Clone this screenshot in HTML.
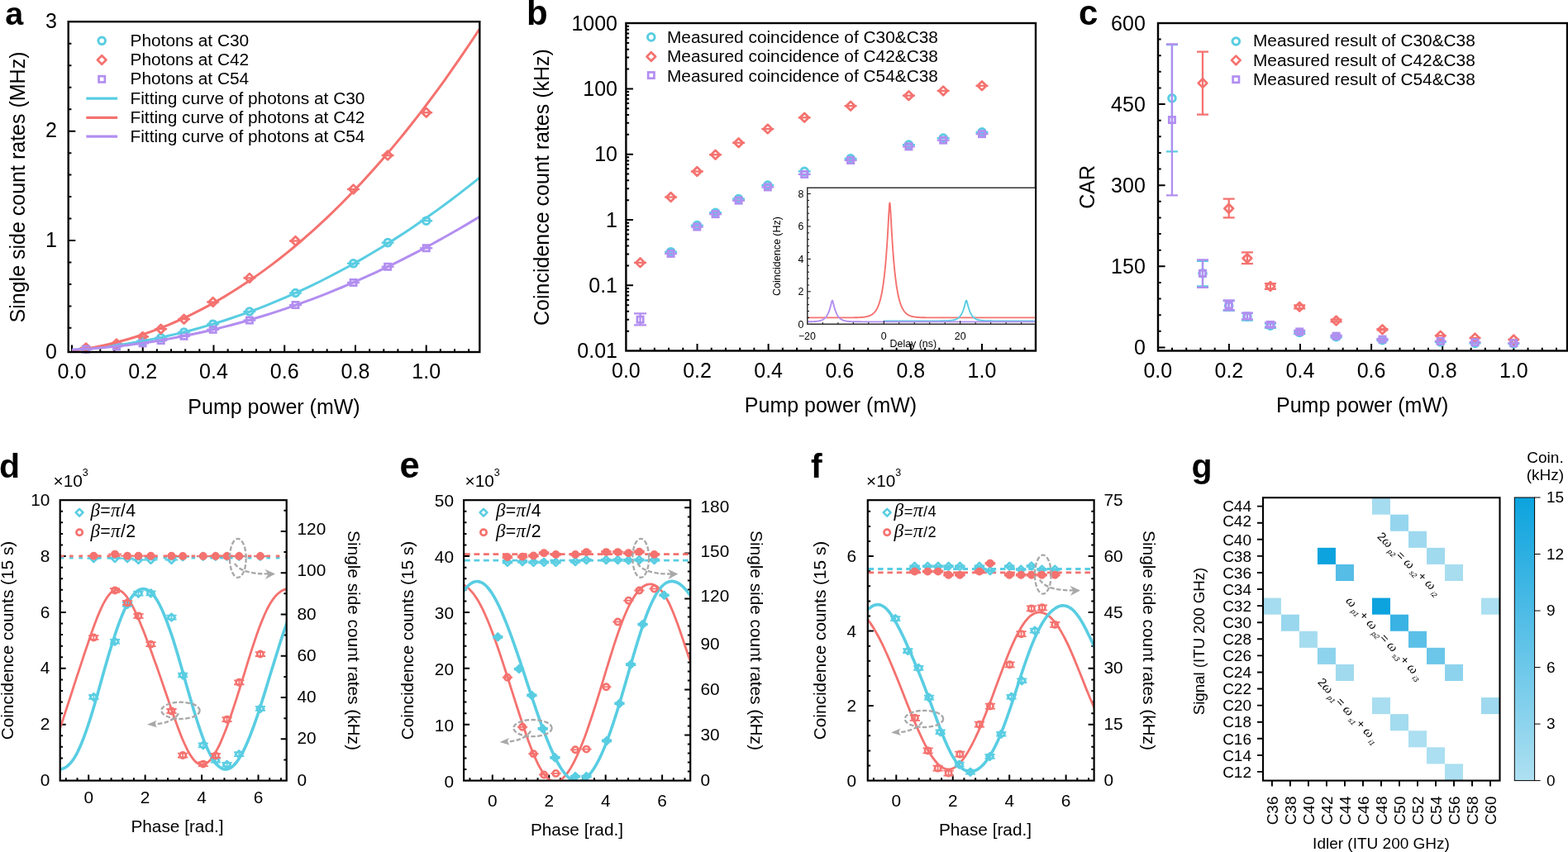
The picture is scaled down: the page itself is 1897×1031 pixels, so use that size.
<!DOCTYPE html>
<html lang="en">
<head>
<meta charset="utf-8">
<title>Figure: photon pair generation measurements</title>
<style>
html,body{margin:0;padding:0;background:#fff;}
body{width:1897px;height:1031px;overflow:hidden;}
svg{display:block;font-family:'Liberation Sans', sans-serif;}
</style>
</head>
<body>
<svg width="1897" height="1031" viewBox="0 0 1897 1031">
<rect width="1897" height="1031" fill="#fff"/>
<g id="panel-a">
<text x="6.2" y="30.4" font-size="39.5" font-weight="bold">a</text>
<path d="M82.7 291h8.6M82.7 158.7h8.6" fill="none" stroke="#000" stroke-width="2.0"/>
<path d="M82.7 396.84h3.7M82.7 370.38h3.7M82.7 343.92h3.7M82.7 317.46h3.7M82.7 264.54h3.7M82.7 238.08h3.7M82.7 211.62h3.7M82.7 185.16h3.7M82.7 132.24h3.7M82.7 105.78h3.7M82.7 79.32h3.7M82.7 52.86h3.7" fill="none" stroke="#000" stroke-width="2.0"/>
<path d="M87 426v-8.6M172.74 426v-8.6M258.48 426v-8.6M344.22 426v-8.6M429.96 426v-8.6M515.7 426v-8.6" fill="none" stroke="#000" stroke-width="2.0"/>
<path d="M104.15 426v-3.7M121.3 426v-3.7M138.44 426v-3.7M155.59 426v-3.7M189.89 426v-3.7M207.04 426v-3.7M224.18 426v-3.7M241.33 426v-3.7M275.63 426v-3.7M292.78 426v-3.7M309.92 426v-3.7M327.07 426v-3.7M361.37 426v-3.7M378.52 426v-3.7M395.66 426v-3.7M412.81 426v-3.7M447.11 426v-3.7M464.26 426v-3.7M481.4 426v-3.7M498.55 426v-3.7M532.85 426v-3.7M550 426v-3.7M567.14 426v-3.7" fill="none" stroke="#000" stroke-width="2.0"/>
<path d="M96.57 421.98H111.57" stroke="#59cde2" stroke-width="2.3" fill="none"/>
<circle cx="104.07" cy="421.98" r="4.3" fill="none" stroke="#59cde2" stroke-width="3"/>
<path d="M133.47 418.01H148.47" stroke="#59cde2" stroke-width="2.3" fill="none"/>
<circle cx="140.97" cy="418.01" r="4.3" fill="none" stroke="#59cde2" stroke-width="3"/>
<path d="M165.04 412.72H180.04" stroke="#59cde2" stroke-width="2.3" fill="none"/>
<circle cx="172.54" cy="412.72" r="4.3" fill="none" stroke="#59cde2" stroke-width="3"/>
<path d="M187.18 408.75H202.18" stroke="#59cde2" stroke-width="2.3" fill="none"/>
<circle cx="194.68" cy="408.75" r="4.3" fill="none" stroke="#59cde2" stroke-width="3"/>
<path d="M215.07 402.13H230.07" stroke="#59cde2" stroke-width="2.3" fill="none"/>
<circle cx="222.57" cy="402.13" r="4.3" fill="none" stroke="#59cde2" stroke-width="3"/>
<path d="M250.17 392.21H265.17" stroke="#59cde2" stroke-width="2.3" fill="none"/>
<circle cx="257.67" cy="392.21" r="4.3" fill="none" stroke="#59cde2" stroke-width="3"/>
<path d="M294.36 377H309.36" stroke="#59cde2" stroke-width="2.3" fill="none"/>
<circle cx="301.86" cy="377" r="4.3" fill="none" stroke="#59cde2" stroke-width="3"/>
<path d="M349.99 354.5H364.99" stroke="#59cde2" stroke-width="2.3" fill="none"/>
<circle cx="357.49" cy="354.5" r="4.3" fill="none" stroke="#59cde2" stroke-width="3"/>
<path d="M420.03 318.78H435.03" stroke="#59cde2" stroke-width="2.3" fill="none"/>
<circle cx="427.53" cy="318.78" r="4.3" fill="none" stroke="#59cde2" stroke-width="3"/>
<path d="M461.58 293.65H476.58" stroke="#59cde2" stroke-width="2.3" fill="none"/>
<circle cx="469.08" cy="293.65" r="4.3" fill="none" stroke="#59cde2" stroke-width="3"/>
<path d="M508.2 267.19H523.2" stroke="#59cde2" stroke-width="2.3" fill="none"/>
<circle cx="515.7" cy="267.19" r="4.3" fill="none" stroke="#59cde2" stroke-width="3"/>
<path d="M96.57 421.05H111.57" stroke="#f4726f" stroke-width="2.3" fill="none"/>
<path d="M98.77 421.05L104.07 415.75L109.37 421.05L104.07 426.35Z" fill="none" stroke="#f4726f" stroke-width="2.7" stroke-linejoin="round"/>
<path d="M133.47 416.02H148.47" stroke="#f4726f" stroke-width="2.3" fill="none"/>
<path d="M135.67 416.02L140.97 410.72L146.27 416.02L140.97 421.32Z" fill="none" stroke="#f4726f" stroke-width="2.7" stroke-linejoin="round"/>
<path d="M165.04 407.42H180.04" stroke="#f4726f" stroke-width="2.3" fill="none"/>
<path d="M167.24 407.42L172.54 402.12L177.84 407.42L172.54 412.72Z" fill="none" stroke="#f4726f" stroke-width="2.7" stroke-linejoin="round"/>
<path d="M187.18 398.16H202.18" stroke="#f4726f" stroke-width="2.3" fill="none"/>
<path d="M189.38 398.16L194.68 392.86L199.98 398.16L194.68 403.46Z" fill="none" stroke="#f4726f" stroke-width="2.7" stroke-linejoin="round"/>
<path d="M215.07 386.26H230.07" stroke="#f4726f" stroke-width="2.3" fill="none"/>
<path d="M217.27 386.26L222.57 380.96L227.87 386.26L222.57 391.56Z" fill="none" stroke="#f4726f" stroke-width="2.7" stroke-linejoin="round"/>
<path d="M250.17 365.48H265.17" stroke="#f4726f" stroke-width="2.3" fill="none"/>
<path d="M252.37 365.48L257.67 360.18L262.97 365.48L257.67 370.78Z" fill="none" stroke="#f4726f" stroke-width="2.7" stroke-linejoin="round"/>
<path d="M294.36 336.38H309.36" stroke="#f4726f" stroke-width="2.3" fill="none"/>
<path d="M296.56 336.38L301.86 331.08L307.16 336.38L301.86 341.68Z" fill="none" stroke="#f4726f" stroke-width="2.7" stroke-linejoin="round"/>
<path d="M349.99 291.53H364.99" stroke="#f4726f" stroke-width="2.3" fill="none"/>
<path d="M352.19 291.53L357.49 286.23L362.79 291.53L357.49 296.83Z" fill="none" stroke="#f4726f" stroke-width="2.7" stroke-linejoin="round"/>
<path d="M420.03 228.95H435.03" stroke="#f4726f" stroke-width="2.3" fill="none"/>
<path d="M422.23 228.95L427.53 223.65L432.83 228.95L427.53 234.25Z" fill="none" stroke="#f4726f" stroke-width="2.7" stroke-linejoin="round"/>
<path d="M461.58 188.07H476.58" stroke="#f4726f" stroke-width="2.3" fill="none"/>
<path d="M463.78 188.07L469.08 182.77L474.38 188.07L469.08 193.37Z" fill="none" stroke="#f4726f" stroke-width="2.7" stroke-linejoin="round"/>
<path d="M508.2 136.21H523.2" stroke="#f4726f" stroke-width="2.3" fill="none"/>
<path d="M510.4 136.21L515.7 130.91L521 136.21L515.7 141.51Z" fill="none" stroke="#f4726f" stroke-width="2.7" stroke-linejoin="round"/>
<path d="M96.57 422.64H111.57" stroke="#b28ef0" stroke-width="2.3" fill="none"/>
<rect x="100.42" y="418.99" width="7.3" height="7.3" fill="none" stroke="#b28ef0" stroke-width="2.7"/>
<path d="M133.47 419.33H148.47" stroke="#b28ef0" stroke-width="2.3" fill="none"/>
<rect x="137.32" y="415.68" width="7.3" height="7.3" fill="none" stroke="#b28ef0" stroke-width="2.7"/>
<path d="M165.04 415.36H180.04" stroke="#b28ef0" stroke-width="2.3" fill="none"/>
<rect x="168.89" y="411.71" width="7.3" height="7.3" fill="none" stroke="#b28ef0" stroke-width="2.7"/>
<path d="M187.18 412.05H202.18" stroke="#b28ef0" stroke-width="2.3" fill="none"/>
<rect x="191.03" y="408.4" width="7.3" height="7.3" fill="none" stroke="#b28ef0" stroke-width="2.7"/>
<path d="M215.07 406.76H230.07" stroke="#b28ef0" stroke-width="2.3" fill="none"/>
<rect x="218.92" y="403.11" width="7.3" height="7.3" fill="none" stroke="#b28ef0" stroke-width="2.7"/>
<path d="M250.17 398.82H265.17" stroke="#b28ef0" stroke-width="2.3" fill="none"/>
<rect x="254.02" y="395.17" width="7.3" height="7.3" fill="none" stroke="#b28ef0" stroke-width="2.7"/>
<path d="M294.36 387.58H309.36" stroke="#b28ef0" stroke-width="2.3" fill="none"/>
<rect x="298.21" y="383.93" width="7.3" height="7.3" fill="none" stroke="#b28ef0" stroke-width="2.7"/>
<path d="M349.99 369.06H364.99" stroke="#b28ef0" stroke-width="2.3" fill="none"/>
<rect x="353.84" y="365.41" width="7.3" height="7.3" fill="none" stroke="#b28ef0" stroke-width="2.7"/>
<path d="M420.03 341.94H435.03" stroke="#b28ef0" stroke-width="2.3" fill="none"/>
<rect x="423.88" y="338.29" width="7.3" height="7.3" fill="none" stroke="#b28ef0" stroke-width="2.7"/>
<path d="M461.58 322.75H476.58" stroke="#b28ef0" stroke-width="2.3" fill="none"/>
<rect x="465.43" y="319.1" width="7.3" height="7.3" fill="none" stroke="#b28ef0" stroke-width="2.7"/>
<path d="M508.2 300.26H523.2" stroke="#b28ef0" stroke-width="2.3" fill="none"/>
<rect x="512.05" y="296.61" width="7.3" height="7.3" fill="none" stroke="#b28ef0" stroke-width="2.7"/>
<clipPath id="clipA"><rect x="82.7" y="26.2" width="497.6" height="399.8"/></clipPath>
<g clip-path="url(#clipA)">
<path d="M87 423.48 L95.36 422.86 L103.71 422.15 L112.07 421.35 L120.42 420.45 L128.78 419.46 L137.14 418.38 L145.49 417.2 L153.85 415.93 L162.2 414.57 L170.56 413.11 L178.92 411.55 L187.27 409.9 L195.63 408.16 L203.98 406.31 L212.34 404.37 L220.7 402.33 L229.05 400.19 L237.41 397.95 L245.76 395.62 L254.12 393.18 L262.48 390.65 L270.83 388.01 L279.19 385.27 L287.54 382.43 L295.9 379.49 L304.26 376.44 L312.61 373.29 L320.97 370.04 L329.32 366.68 L337.68 363.22 L346.04 359.65 L354.39 355.98 L362.75 352.2 L371.1 348.32 L379.46 344.33 L387.82 340.23 L396.17 336.02 L404.53 331.7 L412.88 327.28 L421.24 322.74 L429.6 318.1 L437.95 313.34 L446.31 308.47 L454.66 303.5 L463.02 298.41 L471.38 293.2 L479.73 287.89 L488.09 282.46 L496.44 276.92 L504.8 271.26 L513.16 265.49 L521.51 259.6 L529.87 253.6 L538.22 247.48 L546.58 241.24 L554.94 234.89 L563.29 228.42 L571.65 221.83 L580 215.12" fill="none" stroke="#59cde2" stroke-width="3" stroke-linejoin="round"/>
<path d="M87 424.52 L95.36 423.38 L103.71 422.08 L112.07 420.61 L120.42 418.97 L128.78 417.16 L137.14 415.18 L145.49 413.03 L153.85 410.7 L162.2 408.21 L170.56 405.53 L178.92 402.68 L187.27 399.66 L195.63 396.45 L203.98 393.06 L212.34 389.5 L220.7 385.75 L229.05 381.82 L237.41 377.7 L245.76 373.4 L254.12 368.91 L262.48 364.23 L270.83 359.36 L279.19 354.3 L287.54 349.05 L295.9 343.61 L304.26 337.97 L312.61 332.14 L320.97 326.11 L329.32 319.88 L337.68 313.46 L346.04 306.83 L354.39 300.01 L362.75 292.98 L371.1 285.74 L379.46 278.31 L387.82 270.66 L396.17 262.81 L404.53 254.75 L412.88 246.48 L421.24 238 L429.6 229.31 L437.95 220.41 L446.31 211.29 L454.66 201.96 L463.02 192.41 L471.38 182.64 L479.73 172.65 L488.09 162.44 L496.44 152.01 L504.8 141.36 L513.16 130.49 L521.51 119.39 L529.87 108.06 L538.22 96.51 L546.58 84.72 L554.94 72.71 L563.29 60.47 L571.65 48 L580 35.29" fill="none" stroke="#f4726f" stroke-width="3" stroke-linejoin="round"/>
<path d="M87 423.21 L95.36 422.79 L103.71 422.29 L112.07 421.71 L120.42 421.06 L128.78 420.32 L137.14 419.5 L145.49 418.61 L153.85 417.64 L162.2 416.58 L170.56 415.45 L178.92 414.24 L187.27 412.95 L195.63 411.58 L203.98 410.13 L212.34 408.6 L220.7 406.99 L229.05 405.3 L237.41 403.53 L245.76 401.68 L254.12 399.76 L262.48 397.75 L270.83 395.66 L279.19 393.5 L287.54 391.25 L295.9 388.93 L304.26 386.52 L312.61 384.04 L320.97 381.47 L329.32 378.83 L337.68 376.1 L346.04 373.3 L354.39 370.42 L362.75 367.45 L371.1 364.41 L379.46 361.29 L387.82 358.09 L396.17 354.8 L404.53 351.44 L412.88 348 L421.24 344.48 L429.6 340.87 L437.95 337.19 L446.31 333.43 L454.66 329.59 L463.02 325.67 L471.38 321.66 L479.73 317.58 L488.09 313.42 L496.44 309.18 L504.8 304.86 L513.16 300.45 L521.51 295.97 L529.87 291.41 L538.22 286.76 L546.58 282.04 L554.94 277.24 L563.29 272.35 L571.65 267.39 L580 262.35" fill="none" stroke="#b28ef0" stroke-width="3" stroke-linejoin="round"/>
</g>
<rect x="82.7" y="26.2" width="497.6" height="399.8" fill="none" stroke="#000" stroke-width="2.4"/>
<text x="69" y="434.3" font-size="25" text-anchor="end">0</text>
<text x="69" y="299.3" font-size="25" text-anchor="end">1</text>
<text x="69" y="166" font-size="25" text-anchor="end">2</text>
<text x="69" y="34.1" font-size="25" text-anchor="end">3</text>
<text x="87" y="458.3" font-size="25" text-anchor="middle">0.0</text>
<text x="172.74" y="458.3" font-size="25" text-anchor="middle">0.2</text>
<text x="258.48" y="458.3" font-size="25" text-anchor="middle">0.4</text>
<text x="344.22" y="458.3" font-size="25" text-anchor="middle">0.6</text>
<text x="429.96" y="458.3" font-size="25" text-anchor="middle">0.8</text>
<text x="515.7" y="458.3" font-size="25" text-anchor="middle">1.0</text>
<text x="331.5" y="500.8" font-size="25" text-anchor="middle">Pump power (mW)</text>
<text transform="translate(29.5 226.5) rotate(-90)" font-size="25" text-anchor="middle">Single side count rates (MHz)</text>
<circle cx="123.2" cy="49.3" r="4.3" fill="none" stroke="#59cde2" stroke-width="3"/>
<text x="157.5" y="55.5" font-size="20.85">Photons at C30</text>
<path d="M117.9 72.5L123.2 67.2L128.5 72.5L123.2 77.8Z" fill="none" stroke="#f4726f" stroke-width="2.7" stroke-linejoin="round"/>
<text x="157.5" y="78.7" font-size="20.85">Photons at C42</text>
<rect x="119.55" y="92.15" width="7.3" height="7.3" fill="none" stroke="#b28ef0" stroke-width="2.7"/>
<text x="157.5" y="102.3" font-size="20.85">Photons at C54</text>
<line x1="104.3" y1="119.1" x2="142.1" y2="119.1" stroke="#59cde2" stroke-width="3.2"/>
<text x="157.5" y="126.1" font-size="20.85">Fitting curve of photons at C30</text>
<line x1="104.3" y1="142.3" x2="142.1" y2="142.3" stroke="#f4726f" stroke-width="3.2"/>
<text x="157.5" y="148.5" font-size="20.85">Fitting curve of photons at C42</text>
<line x1="104.3" y1="165.2" x2="142.1" y2="165.2" stroke="#b28ef0" stroke-width="3.2"/>
<text x="157.5" y="172.1" font-size="20.85">Fitting curve of photons at C54</text>
</g>
<g id="panel-b">
<text x="637" y="29.7" font-size="42" font-weight="bold">b</text>
<path d="M757.4 345.3h8.6M757.4 266h8.6M757.4 186.7h8.6M757.4 107.4h8.6" fill="none" stroke="#000" stroke-width="2.0"/>
<path d="M757.4 400.73h3.7M757.4 386.76h3.7M757.4 376.86h3.7M757.4 369.17h3.7M757.4 362.89h3.7M757.4 357.58h3.7M757.4 352.98h3.7M757.4 348.93h3.7M757.4 321.43h3.7M757.4 307.46h3.7M757.4 297.56h3.7M757.4 289.87h3.7M757.4 283.59h3.7M757.4 278.28h3.7M757.4 273.68h3.7M757.4 269.63h3.7M757.4 242.13h3.7M757.4 228.16h3.7M757.4 218.26h3.7M757.4 210.57h3.7M757.4 204.29h3.7M757.4 198.98h3.7M757.4 194.38h3.7M757.4 190.33h3.7M757.4 162.83h3.7M757.4 148.86h3.7M757.4 138.96h3.7M757.4 131.27h3.7M757.4 124.99h3.7M757.4 119.68h3.7M757.4 115.08h3.7M757.4 111.03h3.7M757.4 83.53h3.7M757.4 69.56h3.7M757.4 59.66h3.7M757.4 51.97h3.7M757.4 45.69h3.7M757.4 40.38h3.7M757.4 35.78h3.7M757.4 31.73h3.7" fill="none" stroke="#000" stroke-width="2.0"/>
<path d="M843.52 424.5v-8.6M929.64 424.5v-8.6M1015.76 424.5v-8.6M1101.88 424.5v-8.6M1188 424.5v-8.6" fill="none" stroke="#000" stroke-width="2.0"/>
<path d="M774.62 424.5v-3.7M791.85 424.5v-3.7M809.07 424.5v-3.7M826.3 424.5v-3.7M860.74 424.5v-3.7M877.97 424.5v-3.7M895.19 424.5v-3.7M912.42 424.5v-3.7M946.86 424.5v-3.7M964.09 424.5v-3.7M981.31 424.5v-3.7M998.54 424.5v-3.7M1032.98 424.5v-3.7M1050.21 424.5v-3.7M1067.43 424.5v-3.7M1084.66 424.5v-3.7M1119.1 424.5v-3.7M1136.33 424.5v-3.7M1153.55 424.5v-3.7M1170.78 424.5v-3.7M1205.22 424.5v-3.7M1222.45 424.5v-3.7M1239.67 424.5v-3.7" fill="none" stroke="#000" stroke-width="2.0"/>
<path d="M804.11 304.71H819.11" stroke="#59cde2" stroke-width="2.3" fill="none"/>
<circle cx="811.61" cy="304.71" r="4.3" fill="none" stroke="#59cde2" stroke-width="3"/>
<path d="M835.82 272.63H850.82" stroke="#59cde2" stroke-width="2.3" fill="none"/>
<circle cx="843.32" cy="272.63" r="4.3" fill="none" stroke="#59cde2" stroke-width="3"/>
<path d="M858.06 257.23H873.06" stroke="#59cde2" stroke-width="2.3" fill="none"/>
<circle cx="865.56" cy="257.23" r="4.3" fill="none" stroke="#59cde2" stroke-width="3"/>
<path d="M886.07 240.61H901.07" stroke="#59cde2" stroke-width="2.3" fill="none"/>
<circle cx="893.57" cy="240.61" r="4.3" fill="none" stroke="#59cde2" stroke-width="3"/>
<path d="M921.32 224.06H936.32" stroke="#59cde2" stroke-width="2.3" fill="none"/>
<circle cx="928.82" cy="224.06" r="4.3" fill="none" stroke="#59cde2" stroke-width="3"/>
<path d="M965.71 207.29H980.71" stroke="#59cde2" stroke-width="2.3" fill="none"/>
<circle cx="973.21" cy="207.29" r="4.3" fill="none" stroke="#59cde2" stroke-width="3"/>
<path d="M1021.59 191.89H1036.59" stroke="#59cde2" stroke-width="2.3" fill="none"/>
<circle cx="1029.09" cy="191.89" r="4.3" fill="none" stroke="#59cde2" stroke-width="3"/>
<path d="M1091.94 175.11H1106.94" stroke="#59cde2" stroke-width="2.3" fill="none"/>
<circle cx="1099.44" cy="175.11" r="4.3" fill="none" stroke="#59cde2" stroke-width="3"/>
<path d="M1133.67 167.04H1148.67" stroke="#59cde2" stroke-width="2.3" fill="none"/>
<circle cx="1141.17" cy="167.04" r="4.3" fill="none" stroke="#59cde2" stroke-width="3"/>
<path d="M1180.5 159.86H1195.5" stroke="#59cde2" stroke-width="2.3" fill="none"/>
<circle cx="1188" cy="159.86" r="4.3" fill="none" stroke="#59cde2" stroke-width="3"/>
<path d="M767.04 317.83H782.04" stroke="#f4726f" stroke-width="2.3" fill="none"/>
<path d="M769.24 317.83L774.54 312.53L779.84 317.83L774.54 323.13Z" fill="none" stroke="#f4726f" stroke-width="2.7" stroke-linejoin="round"/>
<path d="M804.11 238.53H819.11" stroke="#f4726f" stroke-width="2.3" fill="none"/>
<path d="M806.31 238.53L811.61 233.23L816.91 238.53L811.61 243.83Z" fill="none" stroke="#f4726f" stroke-width="2.7" stroke-linejoin="round"/>
<path d="M835.82 207.48H850.82" stroke="#f4726f" stroke-width="2.3" fill="none"/>
<path d="M838.02 207.48L843.32 202.18L848.62 207.48L843.32 212.78Z" fill="none" stroke="#f4726f" stroke-width="2.7" stroke-linejoin="round"/>
<path d="M858.06 187.22H873.06" stroke="#f4726f" stroke-width="2.3" fill="none"/>
<path d="M860.26 187.22L865.56 181.92L870.86 187.22L865.56 192.52Z" fill="none" stroke="#f4726f" stroke-width="2.7" stroke-linejoin="round"/>
<path d="M886.07 172.74H901.07" stroke="#f4726f" stroke-width="2.3" fill="none"/>
<path d="M888.27 172.74L893.57 167.44L898.87 172.74L893.57 178.04Z" fill="none" stroke="#f4726f" stroke-width="2.7" stroke-linejoin="round"/>
<path d="M921.32 156.12H936.32" stroke="#f4726f" stroke-width="2.3" fill="none"/>
<path d="M923.52 156.12L928.82 150.82L934.12 156.12L928.82 161.42Z" fill="none" stroke="#f4726f" stroke-width="2.7" stroke-linejoin="round"/>
<path d="M965.71 142.3H980.71" stroke="#f4726f" stroke-width="2.3" fill="none"/>
<path d="M967.91 142.3L973.21 137L978.51 142.3L973.21 147.6Z" fill="none" stroke="#f4726f" stroke-width="2.7" stroke-linejoin="round"/>
<path d="M1021.59 128.18H1036.59" stroke="#f4726f" stroke-width="2.3" fill="none"/>
<path d="M1023.79 128.18L1029.09 122.88L1034.39 128.18L1029.09 133.48Z" fill="none" stroke="#f4726f" stroke-width="2.7" stroke-linejoin="round"/>
<path d="M1091.94 115.69H1106.94" stroke="#f4726f" stroke-width="2.3" fill="none"/>
<path d="M1094.14 115.69L1099.44 110.39L1104.74 115.69L1099.44 120.99Z" fill="none" stroke="#f4726f" stroke-width="2.7" stroke-linejoin="round"/>
<path d="M1133.67 109.9H1148.67" stroke="#f4726f" stroke-width="2.3" fill="none"/>
<path d="M1135.87 109.9L1141.17 104.6L1146.47 109.9L1141.17 115.2Z" fill="none" stroke="#f4726f" stroke-width="2.7" stroke-linejoin="round"/>
<path d="M1180.5 103.81H1195.5" stroke="#f4726f" stroke-width="2.3" fill="none"/>
<path d="M1182.7 103.81L1188 98.51L1193.3 103.81L1188 109.11Z" fill="none" stroke="#f4726f" stroke-width="2.7" stroke-linejoin="round"/>
<path d="M767.04 379.3H782.04M767.04 393.3H782.04M774.54 379.3V393.3" stroke="#b28ef0" stroke-width="2.3" fill="none"/>
<rect x="770.89" y="383.11" width="7.3" height="7.3" fill="none" stroke="#b28ef0" stroke-width="2.7"/>
<path d="M804.11 306.9H819.11" stroke="#b28ef0" stroke-width="2.3" fill="none"/>
<rect x="807.96" y="303.25" width="7.3" height="7.3" fill="none" stroke="#b28ef0" stroke-width="2.7"/>
<path d="M835.82 274.56H850.82" stroke="#b28ef0" stroke-width="2.3" fill="none"/>
<rect x="839.67" y="270.91" width="7.3" height="7.3" fill="none" stroke="#b28ef0" stroke-width="2.7"/>
<path d="M858.06 259.15H873.06" stroke="#b28ef0" stroke-width="2.3" fill="none"/>
<rect x="861.91" y="255.5" width="7.3" height="7.3" fill="none" stroke="#b28ef0" stroke-width="2.7"/>
<path d="M886.07 242.65H901.07" stroke="#b28ef0" stroke-width="2.3" fill="none"/>
<rect x="889.92" y="239" width="7.3" height="7.3" fill="none" stroke="#b28ef0" stroke-width="2.7"/>
<path d="M921.32 226.48H936.32" stroke="#b28ef0" stroke-width="2.3" fill="none"/>
<rect x="925.17" y="222.83" width="7.3" height="7.3" fill="none" stroke="#b28ef0" stroke-width="2.7"/>
<path d="M965.71 210.92H980.71" stroke="#b28ef0" stroke-width="2.3" fill="none"/>
<rect x="969.56" y="207.27" width="7.3" height="7.3" fill="none" stroke="#b28ef0" stroke-width="2.7"/>
<path d="M1021.59 193.96H1036.59" stroke="#b28ef0" stroke-width="2.3" fill="none"/>
<rect x="1025.44" y="190.31" width="7.3" height="7.3" fill="none" stroke="#b28ef0" stroke-width="2.7"/>
<path d="M1091.94 177.4H1106.94" stroke="#b28ef0" stroke-width="2.3" fill="none"/>
<rect x="1095.79" y="173.75" width="7.3" height="7.3" fill="none" stroke="#b28ef0" stroke-width="2.7"/>
<path d="M1133.67 169.66H1148.67" stroke="#b28ef0" stroke-width="2.3" fill="none"/>
<rect x="1137.52" y="166.01" width="7.3" height="7.3" fill="none" stroke="#b28ef0" stroke-width="2.7"/>
<path d="M1180.5 162.15H1195.5" stroke="#b28ef0" stroke-width="2.3" fill="none"/>
<rect x="1184.35" y="158.5" width="7.3" height="7.3" fill="none" stroke="#b28ef0" stroke-width="2.7"/>
<rect x="757.4" y="28" width="495.6" height="396.5" fill="none" stroke="#000" stroke-width="2.4"/>
<rect x="976.8" y="227.2" width="276.8" height="165.1" fill="#fff" stroke="none"/>
<clipPath id="clipI"><rect x="976.8" y="227.2" width="276.8" height="165.1"/></clipPath>
<g clip-path="url(#clipI)">
<path d="M976.9 384.41 L977.21 384.41 L977.52 384.41 L977.83 384.41 L978.13 384.41 L978.44 384.41 L978.75 384.41 L979.06 384.41 L979.37 384.41 L979.68 384.41 L979.98 384.41 L980.29 384.41 L980.6 384.41 L980.91 384.41 L981.22 384.41 L981.53 384.41 L981.83 384.41 L982.14 384.41 L982.45 384.41 L982.76 384.41 L983.07 384.41 L983.38 384.41 L983.68 384.41 L983.99 384.41 L984.3 384.41 L984.61 384.41 L984.92 384.41 L985.23 384.41 L985.53 384.41 L985.84 384.41 L986.15 384.41 L986.46 384.41 L986.77 384.41 L987.08 384.41 L987.38 384.41 L987.69 384.41 L988 384.41 L988.31 384.41 L988.62 384.41 L988.93 384.41 L989.23 384.41 L989.54 384.41 L989.85 384.41 L990.16 384.41 L990.47 384.41 L990.78 384.41 L991.08 384.41 L991.39 384.41 L991.7 384.41 L992.01 384.41 L992.32 384.41 L992.63 384.41 L992.93 384.41 L993.24 384.41 L993.55 384.41 L993.86 384.41 L994.17 384.41 L994.48 384.41 L994.78 384.41 L995.09 384.41 L995.4 384.41 L995.71 384.41 L996.02 384.41 L996.33 384.41 L996.63 384.41 L996.94 384.41 L997.25 384.41 L997.56 384.41 L997.87 384.41 L998.18 384.41 L998.48 384.41 L998.79 384.41 L999.1 384.41 L999.41 384.41 L999.72 384.41 L1000.03 384.41 L1000.33 384.41 L1000.64 384.41 L1000.95 384.41 L1001.26 384.41 L1001.57 384.41 L1001.88 384.41 L1002.18 384.41 L1002.49 384.41 L1002.8 384.41 L1003.11 384.41 L1003.42 384.41 L1003.73 384.41 L1004.03 384.41 L1004.34 384.41 L1004.65 384.41 L1004.96 384.41 L1005.27 384.41 L1005.58 384.41 L1005.88 384.41 L1006.19 384.41 L1006.5 384.41 L1006.81 384.41 L1007.12 384.41 L1007.43 384.41 L1007.73 384.41 L1008.04 384.41 L1008.35 384.41 L1008.66 384.41 L1008.97 384.41 L1009.28 384.41 L1009.58 384.41 L1009.89 384.41 L1010.2 384.41 L1010.51 384.41 L1010.82 384.41 L1011.13 384.41 L1011.43 384.41 L1011.74 384.41 L1012.05 384.41 L1012.36 384.41 L1012.67 384.41 L1012.98 384.41 L1013.28 384.41 L1013.59 384.41 L1013.9 384.41 L1014.21 384.41 L1014.52 384.41 L1014.83 384.41 L1015.13 384.41 L1015.44 384.41 L1015.75 384.41 L1016.06 384.41 L1016.37 384.41 L1016.68 384.41 L1016.98 384.41 L1017.29 384.41 L1017.6 384.41 L1017.91 384.41 L1018.22 384.41 L1018.53 384.4 L1018.83 384.4 L1019.14 384.4 L1019.45 384.4 L1019.76 384.4 L1020.07 384.4 L1020.38 384.4 L1020.68 384.4 L1020.99 384.4 L1021.3 384.4 L1021.61 384.4 L1021.92 384.4 L1022.23 384.4 L1022.53 384.4 L1022.84 384.4 L1023.15 384.4 L1023.46 384.4 L1023.77 384.39 L1024.08 384.39 L1024.38 384.39 L1024.69 384.39 L1025 384.39 L1025.31 384.39 L1025.62 384.39 L1025.93 384.39 L1026.23 384.39 L1026.54 384.38 L1026.85 384.38 L1027.16 384.38 L1027.47 384.38 L1027.78 384.38 L1028.08 384.38 L1028.39 384.37 L1028.7 384.37 L1029.01 384.37 L1029.32 384.37 L1029.63 384.36 L1029.93 384.36 L1030.24 384.36 L1030.55 384.36 L1030.86 384.35 L1031.17 384.35 L1031.48 384.35 L1031.78 384.34 L1032.09 384.34 L1032.4 384.33 L1032.71 384.33 L1033.02 384.33 L1033.33 384.32 L1033.64 384.32 L1033.94 384.31 L1034.25 384.31 L1034.56 384.3 L1034.87 384.29 L1035.18 384.29 L1035.49 384.28 L1035.79 384.27 L1036.1 384.26 L1036.41 384.26 L1036.72 384.25 L1037.03 384.24 L1037.34 384.23 L1037.64 384.22 L1037.95 384.21 L1038.26 384.2 L1038.57 384.19 L1038.88 384.17 L1039.19 384.16 L1039.49 384.15 L1039.8 384.13 L1040.11 384.12 L1040.42 384.1 L1040.73 384.08 L1041.04 384.07 L1041.34 384.05 L1041.65 384.03 L1041.96 384.01 L1042.27 383.98 L1042.58 383.96 L1042.89 383.94 L1043.19 383.91 L1043.5 383.88 L1043.81 383.85 L1044.12 383.82 L1044.43 383.79 L1044.74 383.76 L1045.04 383.72 L1045.35 383.68 L1045.66 383.64 L1045.97 383.6 L1046.28 383.56 L1046.59 383.51 L1046.89 383.46 L1047.2 383.41 L1047.51 383.35 L1047.82 383.29 L1048.13 383.23 L1048.44 383.17 L1048.74 383.1 L1049.05 383.03 L1049.36 382.95 L1049.67 382.87 L1049.98 382.79 L1050.29 382.7 L1050.59 382.6 L1050.9 382.5 L1051.21 382.4 L1051.52 382.29 L1051.83 382.17 L1052.14 382.05 L1052.44 381.92 L1052.75 381.79 L1053.06 381.64 L1053.37 381.49 L1053.68 381.33 L1053.99 381.16 L1054.29 380.98 L1054.6 380.79 L1054.91 380.6 L1055.22 380.39 L1055.53 380.17 L1055.84 379.93 L1056.14 379.69 L1056.45 379.43 L1056.76 379.16 L1057.07 378.87 L1057.38 378.56 L1057.69 378.24 L1057.99 377.91 L1058.3 377.55 L1058.61 377.17 L1058.92 376.78 L1059.23 376.36 L1059.54 375.92 L1059.84 375.45 L1060.15 374.96 L1060.46 374.44 L1060.77 373.9 L1061.08 373.32 L1061.39 372.71 L1061.69 372.07 L1062 371.4 L1062.31 370.69 L1062.62 369.93 L1062.93 369.14 L1063.24 368.31 L1063.54 367.42 L1063.85 366.49 L1064.16 365.51 L1064.47 364.48 L1064.78 363.39 L1065.09 362.24 L1065.39 361.02 L1065.7 359.75 L1066.01 358.4 L1066.32 356.97 L1066.63 355.47 L1066.94 353.89 L1067.24 352.23 L1067.55 350.47 L1067.86 348.61 L1068.17 346.66 L1068.48 344.6 L1068.79 342.43 L1069.09 340.14 L1069.4 337.73 L1069.71 335.18 L1070.02 332.5 L1070.33 329.68 L1070.64 326.7 L1070.94 323.57 L1071.25 320.27 L1071.56 316.8 L1071.87 313.14 L1072.18 309.3 L1072.49 305.26 L1072.79 301.01 L1073.1 296.55 L1073.41 291.88 L1073.72 287 L1074.03 281.9 L1074.34 276.6 L1074.64 271.14 L1074.95 265.56 L1075.26 259.98 L1075.57 254.6 L1075.88 249.85 L1076.19 246.45 L1076.49 245.37 L1076.8 247.02 L1077.11 250.8 L1077.42 255.74 L1077.73 261.19 L1078.04 266.78 L1078.34 272.34 L1078.65 277.78 L1078.96 283.03 L1079.27 288.08 L1079.58 292.92 L1079.89 297.54 L1080.19 301.96 L1080.5 306.16 L1080.81 310.15 L1081.12 313.96 L1081.43 317.57 L1081.74 321.01 L1082.04 324.27 L1082.35 327.37 L1082.66 330.31 L1082.97 333.1 L1083.28 335.75 L1083.59 338.26 L1083.89 340.65 L1084.2 342.91 L1084.51 345.06 L1084.82 347.09 L1085.13 349.03 L1085.44 350.86 L1085.74 352.6 L1086.05 354.25 L1086.36 355.81 L1086.67 357.29 L1086.98 358.7 L1087.29 360.03 L1087.59 361.3 L1087.9 362.49 L1088.21 363.63 L1088.52 364.71 L1088.83 365.73 L1089.14 366.7 L1089.45 367.62 L1089.75 368.49 L1090.06 369.32 L1090.37 370.1 L1090.68 370.84 L1090.99 371.55 L1091.3 372.22 L1091.6 372.85 L1091.91 373.45 L1092.22 374.02 L1092.53 374.56 L1092.84 375.07 L1093.15 375.56 L1093.45 376.02 L1093.76 376.45 L1094.07 376.87 L1094.38 377.26 L1094.69 377.63 L1095 377.98 L1095.3 378.32 L1095.61 378.63 L1095.92 378.93 L1096.23 379.22 L1096.54 379.49 L1096.85 379.74 L1097.15 379.99 L1097.46 380.22 L1097.77 380.43 L1098.08 380.64 L1098.39 380.84 L1098.7 381.02 L1099 381.2 L1099.31 381.36 L1099.62 381.52 L1099.93 381.67 L1100.24 381.82 L1100.55 381.95 L1100.85 382.08 L1101.16 382.2 L1101.47 382.31 L1101.78 382.42 L1102.09 382.53 L1102.4 382.62 L1102.7 382.72 L1103.01 382.81 L1103.32 382.89 L1103.63 382.97 L1103.94 383.04 L1104.25 383.11 L1104.55 383.18 L1104.86 383.25 L1105.17 383.31 L1105.48 383.36 L1105.79 383.42 L1106.1 383.47 L1106.4 383.52 L1106.71 383.57 L1107.02 383.61 L1107.33 383.65 L1107.64 383.69 L1107.95 383.73 L1108.25 383.76 L1108.56 383.8 L1108.87 383.83 L1109.18 383.86 L1109.49 383.89 L1109.8 383.92 L1110.1 383.94 L1110.41 383.97 L1110.72 383.99 L1111.03 384.01 L1111.34 384.03 L1111.65 384.05 L1111.95 384.07 L1112.26 384.09 L1112.57 384.1 L1112.88 384.12 L1113.19 384.14 L1113.5 384.15 L1113.8 384.16 L1114.11 384.18 L1114.42 384.19 L1114.73 384.2 L1115.04 384.21 L1115.35 384.22 L1115.65 384.23 L1115.96 384.24 L1116.27 384.25 L1116.58 384.26 L1116.89 384.27 L1117.2 384.27 L1117.5 384.28 L1117.81 384.29 L1118.12 384.29 L1118.43 384.3 L1118.74 384.31 L1119.05 384.31 L1119.35 384.32 L1119.66 384.32 L1119.97 384.33 L1120.28 384.33 L1120.59 384.34 L1120.9 384.34 L1121.2 384.34 L1121.51 384.35 L1121.82 384.35 L1122.13 384.35 L1122.44 384.36 L1122.75 384.36 L1123.05 384.36 L1123.36 384.36 L1123.67 384.37 L1123.98 384.37 L1124.29 384.37 L1124.6 384.37 L1124.9 384.38 L1125.21 384.38 L1125.52 384.38 L1125.83 384.38 L1126.14 384.38 L1126.45 384.38 L1126.75 384.39 L1127.06 384.39 L1127.37 384.39 L1127.68 384.39 L1127.99 384.39 L1128.3 384.39 L1128.6 384.39 L1128.91 384.39 L1129.22 384.39 L1129.53 384.4 L1129.84 384.4 L1130.15 384.4 L1130.45 384.4 L1130.76 384.4 L1131.07 384.4 L1131.38 384.4 L1131.69 384.4 L1132 384.4 L1132.3 384.4 L1132.61 384.4 L1132.92 384.4 L1133.23 384.4 L1133.54 384.4 L1133.85 384.4 L1134.15 384.4 L1134.46 384.41 L1134.77 384.41 L1135.08 384.41 L1135.39 384.41 L1135.7 384.41 L1136 384.41 L1136.31 384.41 L1136.62 384.41 L1136.93 384.41 L1137.24 384.41 L1137.55 384.41 L1137.85 384.41 L1138.16 384.41 L1138.47 384.41 L1138.78 384.41 L1139.09 384.41 L1139.4 384.41 L1139.7 384.41 L1140.01 384.41 L1140.32 384.41 L1140.63 384.41 L1140.94 384.41 L1141.25 384.41 L1141.55 384.41 L1141.86 384.41 L1142.17 384.41 L1142.48 384.41 L1142.79 384.41 L1143.1 384.41 L1143.41 384.41 L1143.71 384.41 L1144.02 384.41 L1144.33 384.41 L1144.64 384.41 L1144.95 384.41 L1145.26 384.41 L1145.56 384.41 L1145.87 384.41 L1146.18 384.41 L1146.49 384.41 L1146.8 384.41 L1147.11 384.41 L1147.41 384.41 L1147.72 384.41 L1148.03 384.41 L1148.34 384.41 L1148.65 384.41 L1148.96 384.41 L1149.26 384.41 L1149.57 384.41 L1149.88 384.41 L1150.19 384.41 L1150.5 384.41 L1150.81 384.41 L1151.11 384.41 L1151.42 384.41 L1151.73 384.41 L1152.04 384.41 L1152.35 384.41 L1152.66 384.41 L1152.96 384.41 L1153.27 384.41 L1153.58 384.41 L1153.89 384.41 L1154.2 384.41 L1154.51 384.41 L1154.81 384.41 L1155.12 384.41 L1155.43 384.41 L1155.74 384.41 L1156.05 384.41 L1156.36 384.41 L1156.66 384.41 L1156.97 384.41 L1157.28 384.41 L1157.59 384.41 L1157.9 384.41 L1158.21 384.41 L1158.51 384.41 L1158.82 384.41 L1159.13 384.41 L1159.44 384.41 L1159.75 384.41 L1160.06 384.41 L1160.36 384.41 L1160.67 384.41 L1160.98 384.41 L1161.29 384.41 L1161.6 384.41 L1161.91 384.41 L1162.21 384.41 L1162.52 384.41 L1162.83 384.41 L1163.14 384.41 L1163.45 384.41 L1163.76 384.41 L1164.06 384.41 L1164.37 384.41 L1164.68 384.41 L1164.99 384.41 L1165.3 384.41 L1165.61 384.41 L1165.91 384.41 L1166.22 384.41 L1166.53 384.41 L1166.84 384.41 L1167.15 384.41 L1167.46 384.41 L1167.76 384.41 L1168.07 384.41 L1168.38 384.41 L1168.69 384.41 L1169 384.41 L1169.31 384.41 L1169.61 384.41 L1169.92 384.41 L1170.23 384.41 L1170.54 384.41 L1170.85 384.41 L1171.16 384.41 L1171.46 384.41 L1171.77 384.41 L1172.08 384.41 L1172.39 384.41 L1172.7 384.41 L1173.01 384.41 L1173.31 384.41 L1173.62 384.41 L1173.93 384.41 L1174.24 384.41 L1174.55 384.41 L1174.86 384.41 L1175.16 384.41 L1175.47 384.41 L1175.78 384.41 L1176.09 384.41 L1176.4 384.41 L1176.71 384.41 L1177.01 384.41 L1177.32 384.41 L1177.63 384.41 L1177.94 384.41 L1178.25 384.41 L1178.56 384.41 L1178.86 384.41 L1179.17 384.41 L1179.48 384.41 L1179.79 384.41 L1180.1 384.41 L1180.41 384.41 L1180.71 384.41 L1181.02 384.41 L1181.33 384.41 L1181.64 384.41 L1181.95 384.41 L1182.26 384.41 L1182.56 384.41 L1182.87 384.41 L1183.18 384.41 L1183.49 384.41 L1183.8 384.41 L1184.11 384.41 L1184.41 384.41 L1184.72 384.41 L1185.03 384.41 L1185.34 384.41 L1185.65 384.41 L1185.96 384.41 L1186.26 384.41 L1186.57 384.41 L1186.88 384.41 L1187.19 384.41 L1187.5 384.41 L1187.81 384.41 L1188.11 384.41 L1188.42 384.41 L1188.73 384.41 L1189.04 384.41 L1189.35 384.41 L1189.66 384.41 L1189.96 384.41 L1190.27 384.41 L1190.58 384.41 L1190.89 384.41 L1191.2 384.41 L1191.51 384.41 L1191.81 384.41 L1192.12 384.41 L1192.43 384.41 L1192.74 384.41 L1193.05 384.41 L1193.36 384.41 L1193.66 384.41 L1193.97 384.41 L1194.28 384.41 L1194.59 384.41 L1194.9 384.41 L1195.21 384.41 L1195.51 384.41 L1195.82 384.41 L1196.13 384.41 L1196.44 384.41 L1196.75 384.41 L1197.06 384.41 L1197.36 384.41 L1197.67 384.41 L1197.98 384.41 L1198.29 384.41 L1198.6 384.41 L1198.91 384.41 L1199.22 384.41 L1199.52 384.41 L1199.83 384.41 L1200.14 384.41 L1200.45 384.41 L1200.76 384.41 L1201.07 384.41 L1201.37 384.41 L1201.68 384.41 L1201.99 384.41 L1202.3 384.41 L1202.61 384.41 L1202.92 384.41 L1203.22 384.41 L1203.53 384.41 L1203.84 384.41 L1204.15 384.41 L1204.46 384.41 L1204.77 384.41 L1205.07 384.41 L1205.38 384.41 L1205.69 384.41 L1206 384.41 L1206.31 384.41 L1206.62 384.41 L1206.92 384.41 L1207.23 384.41 L1207.54 384.41 L1207.85 384.41 L1208.16 384.41 L1208.47 384.41 L1208.77 384.41 L1209.08 384.41 L1209.39 384.41 L1209.7 384.41 L1210.01 384.41 L1210.32 384.41 L1210.62 384.41 L1210.93 384.41 L1211.24 384.41 L1211.55 384.41 L1211.86 384.41 L1212.17 384.41 L1212.47 384.41 L1212.78 384.41 L1213.09 384.41 L1213.4 384.41 L1213.71 384.41 L1214.02 384.41 L1214.32 384.41 L1214.63 384.41 L1214.94 384.41 L1215.25 384.41 L1215.56 384.41 L1215.87 384.41 L1216.17 384.41 L1216.48 384.41 L1216.79 384.41 L1217.1 384.41 L1217.41 384.41 L1217.72 384.41 L1218.02 384.41 L1218.33 384.41 L1218.64 384.41 L1218.95 384.41 L1219.26 384.41 L1219.57 384.41 L1219.87 384.41 L1220.18 384.41 L1220.49 384.41 L1220.8 384.41 L1221.11 384.41 L1221.42 384.41 L1221.72 384.41 L1222.03 384.41 L1222.34 384.41 L1222.65 384.41 L1222.96 384.41 L1223.27 384.41 L1223.57 384.41 L1223.88 384.41 L1224.19 384.41 L1224.5 384.41 L1224.81 384.41 L1225.12 384.41 L1225.42 384.41 L1225.73 384.41 L1226.04 384.41 L1226.35 384.41 L1226.66 384.41 L1226.97 384.41 L1227.27 384.41 L1227.58 384.41 L1227.89 384.41 L1228.2 384.41 L1228.51 384.41 L1228.82 384.41 L1229.12 384.41 L1229.43 384.41 L1229.74 384.41 L1230.05 384.41 L1230.36 384.41 L1230.67 384.41 L1230.97 384.41 L1231.28 384.41 L1231.59 384.41 L1231.9 384.41 L1232.21 384.41 L1232.52 384.41 L1232.82 384.41 L1233.13 384.41 L1233.44 384.41 L1233.75 384.41 L1234.06 384.41 L1234.37 384.41 L1234.67 384.41 L1234.98 384.41 L1235.29 384.41 L1235.6 384.41 L1235.91 384.41 L1236.22 384.41 L1236.52 384.41 L1236.83 384.41 L1237.14 384.41 L1237.45 384.41 L1237.76 384.41 L1238.07 384.41 L1238.37 384.41 L1238.68 384.41 L1238.99 384.41 L1239.3 384.41 L1239.61 384.41 L1239.92 384.41 L1240.22 384.41 L1240.53 384.41 L1240.84 384.41 L1241.15 384.41 L1241.46 384.41 L1241.77 384.41 L1242.07 384.41 L1242.38 384.41 L1242.69 384.41 L1243 384.41 L1243.31 384.41 L1243.62 384.41 L1243.92 384.41 L1244.23 384.41 L1244.54 384.41 L1244.85 384.41 L1245.16 384.41 L1245.47 384.41 L1245.77 384.41 L1246.08 384.41 L1246.39 384.41 L1246.7 384.41 L1247.01 384.41 L1247.32 384.41 L1247.62 384.41 L1247.93 384.41 L1248.24 384.41 L1248.55 384.41 L1248.86 384.41 L1249.17 384.41 L1249.47 384.41 L1249.78 384.41 L1250.09 384.41 L1250.4 384.41 L1250.71 384.41 L1251.02 384.41 L1251.32 384.41 L1251.63 384.41 L1251.94 384.41 L1252.25 384.41 L1252.56 384.41 L1252.87 384.41 L1253.17 384.41 L1253.48 384.41 L1253.79 384.41 L1254.1 384.41" fill="none" stroke="#f4726f" stroke-width="1.9" stroke-linejoin="round"/>
<path d="M1069.3 388.36 L1069.67 388.36 L1070.04 388.36 L1070.41 388.36 L1070.78 388.36 L1071.15 388.36 L1071.52 388.36 L1071.89 388.36 L1072.26 388.36 L1072.63 388.36 L1073 388.36 L1073.37 388.36 L1073.74 388.36 L1074.11 388.36 L1074.48 388.36 L1074.86 388.36 L1075.23 388.36 L1075.6 388.36 L1075.97 388.36 L1076.34 388.36 L1076.71 388.36 L1077.08 388.36 L1077.45 388.36 L1077.82 388.36 L1078.19 388.36 L1078.56 388.36 L1078.93 388.36 L1079.3 388.36 L1079.67 388.36 L1080.04 388.36 L1080.41 388.36 L1080.78 388.36 L1081.15 388.36 L1081.52 388.36 L1081.89 388.36 L1082.26 388.36 L1082.63 388.36 L1083 388.36 L1083.37 388.36 L1083.74 388.36 L1084.11 388.36 L1084.48 388.36 L1084.85 388.36 L1085.22 388.36 L1085.59 388.36 L1085.97 388.36 L1086.34 388.36 L1086.71 388.36 L1087.08 388.36 L1087.45 388.36 L1087.82 388.36 L1088.19 388.36 L1088.56 388.36 L1088.93 388.36 L1089.3 388.36 L1089.67 388.36 L1090.04 388.36 L1090.41 388.36 L1090.78 388.36 L1091.15 388.36 L1091.52 388.36 L1091.89 388.36 L1092.26 388.36 L1092.63 388.36 L1093 388.36 L1093.37 388.36 L1093.74 388.36 L1094.11 388.36 L1094.48 388.36 L1094.85 388.36 L1095.22 388.36 L1095.59 388.36 L1095.96 388.36 L1096.33 388.36 L1096.71 388.36 L1097.08 388.36 L1097.45 388.36 L1097.82 388.36 L1098.19 388.36 L1098.56 388.36 L1098.93 388.36 L1099.3 388.36 L1099.67 388.36 L1100.04 388.36 L1100.41 388.36 L1100.78 388.36 L1101.15 388.36 L1101.52 388.36 L1101.89 388.36 L1102.26 388.36 L1102.63 388.36 L1103 388.36 L1103.37 388.36 L1103.74 388.36 L1104.11 388.36 L1104.48 388.36 L1104.85 388.36 L1105.22 388.36 L1105.59 388.36 L1105.96 388.36 L1106.33 388.36 L1106.7 388.36 L1107.07 388.36 L1107.45 388.36 L1107.82 388.36 L1108.19 388.36 L1108.56 388.36 L1108.93 388.36 L1109.3 388.36 L1109.67 388.36 L1110.04 388.36 L1110.41 388.36 L1110.78 388.36 L1111.15 388.36 L1111.52 388.36 L1111.89 388.36 L1112.26 388.36 L1112.63 388.36 L1113 388.36 L1113.37 388.36 L1113.74 388.36 L1114.11 388.36 L1114.48 388.36 L1114.85 388.36 L1115.22 388.36 L1115.59 388.36 L1115.96 388.36 L1116.33 388.36 L1116.7 388.36 L1117.07 388.36 L1117.44 388.36 L1117.81 388.36 L1118.18 388.36 L1118.56 388.36 L1118.93 388.36 L1119.3 388.36 L1119.67 388.36 L1120.04 388.36 L1120.41 388.36 L1120.78 388.36 L1121.15 388.36 L1121.52 388.36 L1121.89 388.35 L1122.26 388.35 L1122.63 388.35 L1123 388.35 L1123.37 388.35 L1123.74 388.35 L1124.11 388.35 L1124.48 388.35 L1124.85 388.35 L1125.22 388.35 L1125.59 388.35 L1125.96 388.35 L1126.33 388.35 L1126.7 388.35 L1127.07 388.35 L1127.44 388.35 L1127.81 388.35 L1128.18 388.35 L1128.55 388.35 L1128.92 388.35 L1129.3 388.35 L1129.67 388.35 L1130.04 388.35 L1130.41 388.35 L1130.78 388.35 L1131.15 388.35 L1131.52 388.35 L1131.89 388.35 L1132.26 388.35 L1132.63 388.34 L1133 388.34 L1133.37 388.34 L1133.74 388.34 L1134.11 388.34 L1134.48 388.34 L1134.85 388.34 L1135.22 388.34 L1135.59 388.34 L1135.96 388.33 L1136.33 388.33 L1136.7 388.33 L1137.07 388.33 L1137.44 388.32 L1137.81 388.32 L1138.18 388.32 L1138.55 388.32 L1138.92 388.31 L1139.29 388.31 L1139.66 388.31 L1140.04 388.3 L1140.41 388.3 L1140.78 388.29 L1141.15 388.29 L1141.52 388.28 L1141.89 388.27 L1142.26 388.27 L1142.63 388.26 L1143 388.25 L1143.37 388.24 L1143.74 388.23 L1144.11 388.22 L1144.48 388.21 L1144.85 388.2 L1145.22 388.19 L1145.59 388.17 L1145.96 388.16 L1146.33 388.14 L1146.7 388.12 L1147.07 388.11 L1147.44 388.08 L1147.81 388.06 L1148.18 388.04 L1148.55 388.01 L1148.92 387.98 L1149.29 387.95 L1149.66 387.92 L1150.03 387.88 L1150.4 387.84 L1150.77 387.8 L1151.15 387.75 L1151.52 387.7 L1151.89 387.65 L1152.26 387.59 L1152.63 387.52 L1153 387.45 L1153.37 387.38 L1153.74 387.3 L1154.11 387.21 L1154.48 387.11 L1154.85 387.01 L1155.22 386.89 L1155.59 386.77 L1155.96 386.64 L1156.33 386.5 L1156.7 386.34 L1157.07 386.18 L1157.44 385.99 L1157.81 385.8 L1158.18 385.58 L1158.55 385.35 L1158.92 385.1 L1159.29 384.83 L1159.66 384.54 L1160.03 384.22 L1160.4 383.88 L1160.77 383.51 L1161.14 383.11 L1161.51 382.67 L1161.89 382.2 L1162.26 381.69 L1162.63 381.14 L1163 380.54 L1163.37 379.89 L1163.74 379.19 L1164.11 378.44 L1164.48 377.62 L1164.85 376.74 L1165.22 375.79 L1165.59 374.77 L1165.96 373.67 L1166.33 372.48 L1166.7 371.22 L1167.07 369.88 L1167.44 368.47 L1167.81 367.03 L1168.18 365.6 L1168.55 364.36 L1168.92 363.58 L1169.29 363.61 L1169.66 364.44 L1170.03 365.71 L1170.4 367.14 L1170.77 368.59 L1171.14 369.99 L1171.51 371.33 L1171.88 372.58 L1172.25 373.76 L1172.63 374.85 L1173 375.87 L1173.37 376.81 L1173.74 377.69 L1174.11 378.5 L1174.48 379.25 L1174.85 379.95 L1175.22 380.59 L1175.59 381.18 L1175.96 381.73 L1176.33 382.24 L1176.7 382.71 L1177.07 383.14 L1177.44 383.54 L1177.81 383.91 L1178.18 384.25 L1178.55 384.57 L1178.92 384.86 L1179.29 385.13 L1179.66 385.37 L1180.03 385.6 L1180.4 385.81 L1180.77 386.01 L1181.14 386.19 L1181.51 386.36 L1181.88 386.51 L1182.25 386.65 L1182.62 386.78 L1182.99 386.9 L1183.36 387.02 L1183.74 387.12 L1184.11 387.21 L1184.48 387.3 L1184.85 387.38 L1185.22 387.46 L1185.59 387.53 L1185.96 387.59 L1186.33 387.65 L1186.7 387.7 L1187.07 387.75 L1187.44 387.8 L1187.81 387.84 L1188.18 387.88 L1188.55 387.92 L1188.92 387.95 L1189.29 387.98 L1189.66 388.01 L1190.03 388.04 L1190.4 388.06 L1190.77 388.09 L1191.14 388.11 L1191.51 388.13 L1191.88 388.14 L1192.25 388.16 L1192.62 388.17 L1192.99 388.19 L1193.36 388.2 L1193.73 388.21 L1194.1 388.22 L1194.48 388.23 L1194.85 388.24 L1195.22 388.25 L1195.59 388.26 L1195.96 388.27 L1196.33 388.27 L1196.7 388.28 L1197.07 388.29 L1197.44 388.29 L1197.81 388.3 L1198.18 388.3 L1198.55 388.31 L1198.92 388.31 L1199.29 388.31 L1199.66 388.32 L1200.03 388.32 L1200.4 388.32 L1200.77 388.32 L1201.14 388.33 L1201.51 388.33 L1201.88 388.33 L1202.25 388.33 L1202.62 388.34 L1202.99 388.34 L1203.36 388.34 L1203.73 388.34 L1204.1 388.34 L1204.47 388.34 L1204.84 388.34 L1205.22 388.34 L1205.59 388.35 L1205.96 388.35 L1206.33 388.35 L1206.7 388.35 L1207.07 388.35 L1207.44 388.35 L1207.81 388.35 L1208.18 388.35 L1208.55 388.35 L1208.92 388.35 L1209.29 388.35 L1209.66 388.35 L1210.03 388.35 L1210.4 388.35 L1210.77 388.35 L1211.14 388.35 L1211.51 388.35 L1211.88 388.35 L1212.25 388.35 L1212.62 388.35 L1212.99 388.35 L1213.36 388.35 L1213.73 388.35 L1214.1 388.35 L1214.47 388.35 L1214.84 388.35 L1215.21 388.35 L1215.58 388.35 L1215.95 388.35 L1216.33 388.35 L1216.7 388.36 L1217.07 388.36 L1217.44 388.36 L1217.81 388.36 L1218.18 388.36 L1218.55 388.36 L1218.92 388.36 L1219.29 388.36 L1219.66 388.36 L1220.03 388.36 L1220.4 388.36 L1220.77 388.36 L1221.14 388.36 L1221.51 388.36 L1221.88 388.36 L1222.25 388.36 L1222.62 388.36 L1222.99 388.36 L1223.36 388.36 L1223.73 388.36 L1224.1 388.36 L1224.47 388.36 L1224.84 388.36 L1225.21 388.36 L1225.58 388.36 L1225.95 388.36 L1226.32 388.36 L1226.69 388.36 L1227.07 388.36 L1227.44 388.36 L1227.81 388.36 L1228.18 388.36 L1228.55 388.36 L1228.92 388.36 L1229.29 388.36 L1229.66 388.36 L1230.03 388.36 L1230.4 388.36 L1230.77 388.36 L1231.14 388.36 L1231.51 388.36 L1231.88 388.36 L1232.25 388.36 L1232.62 388.36 L1232.99 388.36 L1233.36 388.36 L1233.73 388.36 L1234.1 388.36 L1234.47 388.36 L1234.84 388.36 L1235.21 388.36 L1235.58 388.36 L1235.95 388.36 L1236.32 388.36 L1236.69 388.36 L1237.06 388.36 L1237.43 388.36 L1237.81 388.36 L1238.18 388.36 L1238.55 388.36 L1238.92 388.36 L1239.29 388.36 L1239.66 388.36 L1240.03 388.36 L1240.4 388.36 L1240.77 388.36 L1241.14 388.36 L1241.51 388.36 L1241.88 388.36 L1242.25 388.36 L1242.62 388.36 L1242.99 388.36 L1243.36 388.36 L1243.73 388.36 L1244.1 388.36 L1244.47 388.36 L1244.84 388.36 L1245.21 388.36 L1245.58 388.36 L1245.95 388.36 L1246.32 388.36 L1246.69 388.36 L1247.06 388.36 L1247.43 388.36 L1247.8 388.36 L1248.17 388.36 L1248.54 388.36 L1248.92 388.36 L1249.29 388.36 L1249.66 388.36 L1250.03 388.36 L1250.4 388.36 L1250.77 388.36 L1251.14 388.36 L1251.51 388.36 L1251.88 388.36 L1252.25 388.36 L1252.62 388.36 L1252.99 388.36 L1253.36 388.36 L1253.73 388.36 L1254.1 388.36" fill="none" stroke="#59cde2" stroke-width="1.9" stroke-linejoin="round"/>
<path d="M976.9 389.3 L977.21 389.29 L977.52 389.29 L977.83 389.29 L978.13 389.28 L978.44 389.28 L978.75 389.27 L979.06 389.27 L979.37 389.26 L979.68 389.26 L979.98 389.25 L980.29 389.25 L980.6 389.24 L980.91 389.23 L981.22 389.23 L981.53 389.22 L981.83 389.21 L982.14 389.2 L982.45 389.19 L982.76 389.18 L983.07 389.17 L983.38 389.16 L983.68 389.14 L983.99 389.13 L984.3 389.11 L984.61 389.1 L984.92 389.08 L985.23 389.06 L985.53 389.05 L985.84 389.02 L986.15 389 L986.46 388.98 L986.77 388.95 L987.08 388.93 L987.38 388.9 L987.69 388.87 L988 388.84 L988.31 388.8 L988.62 388.76 L988.93 388.72 L989.23 388.68 L989.54 388.64 L989.85 388.59 L990.16 388.53 L990.47 388.48 L990.78 388.42 L991.08 388.36 L991.39 388.29 L991.7 388.22 L992.01 388.14 L992.32 388.06 L992.63 387.97 L992.93 387.87 L993.24 387.77 L993.55 387.66 L993.86 387.55 L994.17 387.42 L994.48 387.29 L994.78 387.15 L995.09 387 L995.4 386.84 L995.71 386.66 L996.02 386.48 L996.33 386.28 L996.63 386.07 L996.94 385.85 L997.25 385.61 L997.56 385.35 L997.87 385.08 L998.18 384.78 L998.48 384.47 L998.79 384.14 L999.1 383.78 L999.41 383.4 L999.72 382.99 L1000.03 382.55 L1000.33 382.09 L1000.64 381.59 L1000.95 381.06 L1001.26 380.49 L1001.57 379.89 L1001.88 379.24 L1002.18 378.56 L1002.49 377.82 L1002.8 377.04 L1003.11 376.21 L1003.42 375.33 L1003.73 374.39 L1004.03 373.39 L1004.34 372.33 L1004.65 371.22 L1004.96 370.05 L1005.27 368.84 L1005.58 367.6 L1005.88 366.36 L1006.19 365.19 L1006.5 364.23 L1006.81 363.69 L1007.12 363.76 L1007.43 364.41 L1007.73 365.43 L1008.04 366.62 L1008.35 367.87 L1008.66 369.11 L1008.97 370.31 L1009.28 371.47 L1009.58 372.57 L1009.89 373.61 L1010.2 374.6 L1010.51 375.52 L1010.82 376.4 L1011.13 377.22 L1011.43 377.99 L1011.74 378.71 L1012.05 379.39 L1012.36 380.02 L1012.67 380.62 L1012.98 381.18 L1013.28 381.7 L1013.59 382.19 L1013.9 382.65 L1014.21 383.08 L1014.52 383.48 L1014.83 383.86 L1015.13 384.21 L1015.44 384.54 L1015.75 384.85 L1016.06 385.14 L1016.37 385.41 L1016.68 385.66 L1016.98 385.9 L1017.29 386.12 L1017.6 386.33 L1017.91 386.52 L1018.22 386.7 L1018.53 386.87 L1018.83 387.03 L1019.14 387.18 L1019.45 387.32 L1019.76 387.45 L1020.07 387.57 L1020.38 387.69 L1020.68 387.79 L1020.99 387.89 L1021.3 387.99 L1021.61 388.07 L1021.92 388.16 L1022.23 388.23 L1022.53 388.3 L1022.84 388.37 L1023.15 388.43 L1023.46 388.49 L1023.77 388.55 L1024.08 388.6 L1024.38 388.65 L1024.69 388.69 L1025 388.73 L1025.31 388.77 L1025.62 388.81 L1025.93 388.84 L1026.23 388.88 L1026.54 388.91 L1026.85 388.93 L1027.16 388.96 L1027.47 388.98 L1027.78 389.01 L1028.08 389.03 L1028.39 389.05 L1028.7 389.07 L1029.01 389.09 L1029.32 389.1 L1029.63 389.12 L1029.93 389.13 L1030.24 389.15 L1030.55 389.16 L1030.86 389.17 L1031.17 389.18 L1031.48 389.19 L1031.78 389.2 L1032.09 389.21 L1032.4 389.22 L1032.71 389.23 L1033.02 389.23 L1033.33 389.24 L1033.64 389.25 L1033.94 389.25 L1034.25 389.26 L1034.56 389.26 L1034.87 389.27 L1035.18 389.27 L1035.49 389.28 L1035.79 389.28 L1036.1 389.29 L1036.41 389.29 L1036.72 389.29 L1037.03 389.3 L1037.34 389.3 L1037.64 389.3 L1037.95 389.31 L1038.26 389.31 L1038.57 389.31 L1038.88 389.31 L1039.19 389.31 L1039.49 389.32 L1039.8 389.32 L1040.11 389.32 L1040.42 389.32 L1040.73 389.32 L1041.04 389.32 L1041.34 389.32 L1041.65 389.33 L1041.96 389.33 L1042.27 389.33 L1042.58 389.33 L1042.89 389.33 L1043.19 389.33 L1043.5 389.33 L1043.81 389.33 L1044.12 389.33 L1044.43 389.33 L1044.74 389.33 L1045.04 389.33 L1045.35 389.33 L1045.66 389.34 L1045.97 389.34 L1046.28 389.34 L1046.59 389.34 L1046.89 389.34 L1047.2 389.34 L1047.51 389.34 L1047.82 389.34 L1048.13 389.34 L1048.44 389.34 L1048.74 389.34 L1049.05 389.34 L1049.36 389.34 L1049.67 389.34 L1049.98 389.34 L1050.29 389.34 L1050.59 389.34 L1050.9 389.34 L1051.21 389.34 L1051.52 389.34 L1051.83 389.34 L1052.14 389.34 L1052.44 389.34 L1052.75 389.34 L1053.06 389.34 L1053.37 389.34 L1053.68 389.34 L1053.99 389.34 L1054.29 389.34 L1054.6 389.34 L1054.91 389.34 L1055.22 389.34 L1055.53 389.34 L1055.84 389.34 L1056.14 389.34 L1056.45 389.34 L1056.76 389.34 L1057.07 389.34 L1057.38 389.34 L1057.69 389.34 L1057.99 389.34 L1058.3 389.34 L1058.61 389.34 L1058.92 389.34 L1059.23 389.34 L1059.54 389.34 L1059.84 389.34 L1060.15 389.34 L1060.46 389.34 L1060.77 389.34 L1061.08 389.34 L1061.39 389.34 L1061.69 389.34 L1062 389.34 L1062.31 389.34 L1062.62 389.34 L1062.93 389.34 L1063.24 389.34 L1063.54 389.34 L1063.85 389.34 L1064.16 389.34 L1064.47 389.34 L1064.78 389.34 L1065.09 389.34 L1065.39 389.34 L1065.7 389.34 L1066.01 389.34 L1066.32 389.34 L1066.63 389.34 L1066.94 389.34 L1067.24 389.34 L1067.55 389.34 L1067.86 389.34 L1068.17 389.34 L1068.48 389.34 L1068.79 389.34 L1069.09 389.34 L1069.4 389.34 L1069.71 389.34 L1070.02 389.34 L1070.33 389.34 L1070.64 389.34 L1070.94 389.34 L1071.25 389.34 L1071.56 389.34 L1071.87 389.34 L1072.18 389.34 L1072.49 389.34 L1072.79 389.34 L1073.1 389.34 L1073.41 389.34 L1073.72 389.34 L1074.03 389.34 L1074.34 389.34 L1074.64 389.34 L1074.95 389.34 L1075.26 389.34 L1075.57 389.34 L1075.88 389.34 L1076.19 389.34 L1076.49 389.34 L1076.8 389.34 L1077.11 389.34 L1077.42 389.34 L1077.73 389.34 L1078.04 389.34 L1078.34 389.34 L1078.65 389.34 L1078.96 389.34 L1079.27 389.34 L1079.58 389.34 L1079.89 389.34 L1080.19 389.34 L1080.5 389.34 L1080.81 389.34 L1081.12 389.34 L1081.43 389.34 L1081.74 389.34 L1082.04 389.34 L1082.35 389.34 L1082.66 389.34 L1082.97 389.34 L1083.28 389.34 L1083.59 389.34 L1083.89 389.34 L1084.2 389.34 L1084.51 389.34 L1084.82 389.34 L1085.13 389.34 L1085.44 389.34 L1085.74 389.34 L1086.05 389.34 L1086.36 389.34 L1086.67 389.34 L1086.98 389.34 L1087.29 389.34 L1087.59 389.34 L1087.9 389.34 L1088.21 389.34 L1088.52 389.34 L1088.83 389.34 L1089.14 389.34 L1089.45 389.34 L1089.75 389.34 L1090.06 389.34 L1090.37 389.34 L1090.68 389.34 L1090.99 389.34 L1091.3 389.34 L1091.6 389.34 L1091.91 389.34 L1092.22 389.34 L1092.53 389.34 L1092.84 389.34 L1093.15 389.34 L1093.45 389.34 L1093.76 389.34 L1094.07 389.34 L1094.38 389.34 L1094.69 389.34 L1095 389.34 L1095.3 389.34 L1095.61 389.34 L1095.92 389.34 L1096.23 389.34 L1096.54 389.34 L1096.85 389.34 L1097.15 389.34 L1097.46 389.34 L1097.77 389.34 L1098.08 389.34 L1098.39 389.34 L1098.7 389.34 L1099 389.34 L1099.31 389.34 L1099.62 389.34 L1099.93 389.34 L1100.24 389.34 L1100.55 389.34 L1100.85 389.34 L1101.16 389.34 L1101.47 389.34 L1101.78 389.34 L1102.09 389.34 L1102.4 389.34 L1102.7 389.34 L1103.01 389.34 L1103.32 389.34 L1103.63 389.34 L1103.94 389.34 L1104.25 389.34 L1104.55 389.34 L1104.86 389.34 L1105.17 389.34 L1105.48 389.34 L1105.79 389.34 L1106.1 389.34 L1106.4 389.34 L1106.71 389.34 L1107.02 389.34 L1107.33 389.34 L1107.64 389.34 L1107.95 389.34 L1108.25 389.34 L1108.56 389.34 L1108.87 389.34 L1109.18 389.34 L1109.49 389.34 L1109.8 389.34 L1110.1 389.34 L1110.41 389.34 L1110.72 389.34 L1111.03 389.34 L1111.34 389.34 L1111.65 389.34 L1111.95 389.34 L1112.26 389.34 L1112.57 389.34 L1112.88 389.34 L1113.19 389.34 L1113.5 389.34 L1113.8 389.34 L1114.11 389.34 L1114.42 389.34 L1114.73 389.34 L1115.04 389.34 L1115.35 389.34 L1115.65 389.34 L1115.96 389.34 L1116.27 389.34 L1116.58 389.34 L1116.89 389.34 L1117.2 389.34 L1117.5 389.34 L1117.81 389.34 L1118.12 389.34 L1118.43 389.34 L1118.74 389.34 L1119.05 389.34 L1119.35 389.34 L1119.66 389.34 L1119.97 389.34 L1120.28 389.34 L1120.59 389.34 L1120.9 389.34 L1121.2 389.34 L1121.51 389.34 L1121.82 389.34 L1122.13 389.34 L1122.44 389.34 L1122.75 389.34 L1123.05 389.34 L1123.36 389.34 L1123.67 389.34 L1123.98 389.34 L1124.29 389.34 L1124.6 389.34 L1124.9 389.34 L1125.21 389.34 L1125.52 389.34 L1125.83 389.34 L1126.14 389.34 L1126.45 389.34 L1126.75 389.34 L1127.06 389.34 L1127.37 389.34 L1127.68 389.34 L1127.99 389.34 L1128.3 389.34 L1128.6 389.34 L1128.91 389.34 L1129.22 389.34 L1129.53 389.34 L1129.84 389.34 L1130.15 389.34 L1130.45 389.34 L1130.76 389.34 L1131.07 389.34 L1131.38 389.34 L1131.69 389.34 L1132 389.34 L1132.3 389.34 L1132.61 389.34 L1132.92 389.34 L1133.23 389.34 L1133.54 389.34 L1133.85 389.34 L1134.15 389.34 L1134.46 389.34 L1134.77 389.34 L1135.08 389.34 L1135.39 389.34 L1135.7 389.34 L1136 389.34 L1136.31 389.34 L1136.62 389.34 L1136.93 389.34 L1137.24 389.34 L1137.55 389.34 L1137.85 389.34 L1138.16 389.34 L1138.47 389.34 L1138.78 389.34 L1139.09 389.34 L1139.4 389.34 L1139.7 389.34 L1140.01 389.34 L1140.32 389.34 L1140.63 389.34 L1140.94 389.34 L1141.25 389.34 L1141.55 389.34 L1141.86 389.34 L1142.17 389.34 L1142.48 389.34 L1142.79 389.34 L1143.1 389.34 L1143.41 389.34 L1143.71 389.34 L1144.02 389.34 L1144.33 389.34 L1144.64 389.34 L1144.95 389.34 L1145.26 389.34 L1145.56 389.34 L1145.87 389.34 L1146.18 389.34 L1146.49 389.34 L1146.8 389.34 L1147.11 389.34 L1147.41 389.34 L1147.72 389.34 L1148.03 389.34 L1148.34 389.34 L1148.65 389.34 L1148.96 389.34 L1149.26 389.34 L1149.57 389.34 L1149.88 389.34 L1150.19 389.34 L1150.5 389.34 L1150.81 389.34 L1151.11 389.34 L1151.42 389.34 L1151.73 389.34 L1152.04 389.34 L1152.35 389.34 L1152.66 389.34 L1152.96 389.34 L1153.27 389.34 L1153.58 389.34 L1153.89 389.34 L1154.2 389.34 L1154.51 389.34 L1154.81 389.34 L1155.12 389.34 L1155.43 389.34 L1155.74 389.34 L1156.05 389.34 L1156.36 389.34 L1156.66 389.34 L1156.97 389.34 L1157.28 389.34 L1157.59 389.34 L1157.9 389.34 L1158.21 389.34 L1158.51 389.34 L1158.82 389.34 L1159.13 389.34 L1159.44 389.34 L1159.75 389.34 L1160.06 389.34 L1160.36 389.34 L1160.67 389.34 L1160.98 389.34 L1161.29 389.34 L1161.6 389.34 L1161.91 389.34 L1162.21 389.34 L1162.52 389.34 L1162.83 389.34 L1163.14 389.34 L1163.45 389.34 L1163.76 389.34 L1164.06 389.34 L1164.37 389.34 L1164.68 389.34 L1164.99 389.34 L1165.3 389.34 L1165.61 389.34 L1165.91 389.34 L1166.22 389.34 L1166.53 389.34 L1166.84 389.34 L1167.15 389.34 L1167.46 389.34 L1167.76 389.34 L1168.07 389.34 L1168.38 389.34 L1168.69 389.34 L1169 389.34 L1169.31 389.34 L1169.61 389.34 L1169.92 389.34 L1170.23 389.34 L1170.54 389.34 L1170.85 389.34 L1171.16 389.34 L1171.46 389.34 L1171.77 389.34 L1172.08 389.34 L1172.39 389.34 L1172.7 389.34 L1173.01 389.34 L1173.31 389.34 L1173.62 389.34 L1173.93 389.34 L1174.24 389.34 L1174.55 389.34 L1174.86 389.34 L1175.16 389.34 L1175.47 389.34 L1175.78 389.34 L1176.09 389.34 L1176.4 389.34 L1176.71 389.34 L1177.01 389.34 L1177.32 389.34 L1177.63 389.34 L1177.94 389.34 L1178.25 389.34 L1178.56 389.34 L1178.86 389.34 L1179.17 389.34 L1179.48 389.34 L1179.79 389.34 L1180.1 389.34 L1180.41 389.34 L1180.71 389.34 L1181.02 389.34 L1181.33 389.34 L1181.64 389.34 L1181.95 389.34 L1182.26 389.34 L1182.56 389.34 L1182.87 389.34 L1183.18 389.34 L1183.49 389.34 L1183.8 389.34 L1184.11 389.34 L1184.41 389.34 L1184.72 389.34 L1185.03 389.34 L1185.34 389.34 L1185.65 389.34 L1185.96 389.34 L1186.26 389.34 L1186.57 389.34 L1186.88 389.34 L1187.19 389.34 L1187.5 389.34 L1187.81 389.34 L1188.11 389.34 L1188.42 389.34 L1188.73 389.34 L1189.04 389.34 L1189.35 389.34 L1189.66 389.34 L1189.96 389.34 L1190.27 389.34 L1190.58 389.34 L1190.89 389.34 L1191.2 389.34 L1191.51 389.34 L1191.81 389.34 L1192.12 389.34 L1192.43 389.34 L1192.74 389.34 L1193.05 389.34 L1193.36 389.34 L1193.66 389.34 L1193.97 389.34 L1194.28 389.34 L1194.59 389.34 L1194.9 389.34 L1195.21 389.34 L1195.51 389.34 L1195.82 389.34 L1196.13 389.34 L1196.44 389.34 L1196.75 389.34 L1197.06 389.34 L1197.36 389.34 L1197.67 389.34 L1197.98 389.34 L1198.29 389.34 L1198.6 389.34 L1198.91 389.34 L1199.22 389.34 L1199.52 389.34 L1199.83 389.34 L1200.14 389.34 L1200.45 389.34 L1200.76 389.34 L1201.07 389.34 L1201.37 389.34 L1201.68 389.34 L1201.99 389.34 L1202.3 389.34 L1202.61 389.34 L1202.92 389.34 L1203.22 389.34 L1203.53 389.34 L1203.84 389.34 L1204.15 389.34 L1204.46 389.34 L1204.77 389.34 L1205.07 389.34 L1205.38 389.34 L1205.69 389.34 L1206 389.34 L1206.31 389.34 L1206.62 389.34 L1206.92 389.34 L1207.23 389.34 L1207.54 389.34 L1207.85 389.34 L1208.16 389.34 L1208.47 389.34 L1208.77 389.34 L1209.08 389.34 L1209.39 389.34 L1209.7 389.34 L1210.01 389.34 L1210.32 389.34 L1210.62 389.34 L1210.93 389.34 L1211.24 389.34 L1211.55 389.34 L1211.86 389.34 L1212.17 389.34 L1212.47 389.34 L1212.78 389.34 L1213.09 389.34 L1213.4 389.34 L1213.71 389.34 L1214.02 389.34 L1214.32 389.34 L1214.63 389.34 L1214.94 389.34 L1215.25 389.34 L1215.56 389.34 L1215.87 389.34 L1216.17 389.34 L1216.48 389.34 L1216.79 389.34 L1217.1 389.34 L1217.41 389.34 L1217.72 389.34 L1218.02 389.34 L1218.33 389.34 L1218.64 389.34 L1218.95 389.34 L1219.26 389.34 L1219.57 389.34 L1219.87 389.34 L1220.18 389.34 L1220.49 389.34 L1220.8 389.34 L1221.11 389.34 L1221.42 389.34 L1221.72 389.34 L1222.03 389.34 L1222.34 389.34 L1222.65 389.34 L1222.96 389.34 L1223.27 389.34 L1223.57 389.34 L1223.88 389.34 L1224.19 389.34 L1224.5 389.34 L1224.81 389.34 L1225.12 389.34 L1225.42 389.34 L1225.73 389.34 L1226.04 389.34 L1226.35 389.34 L1226.66 389.34 L1226.97 389.34 L1227.27 389.34 L1227.58 389.34 L1227.89 389.34 L1228.2 389.34 L1228.51 389.34 L1228.82 389.34 L1229.12 389.34 L1229.43 389.34 L1229.74 389.34 L1230.05 389.34 L1230.36 389.34 L1230.67 389.34 L1230.97 389.34 L1231.28 389.34 L1231.59 389.34 L1231.9 389.34 L1232.21 389.34 L1232.52 389.34 L1232.82 389.34 L1233.13 389.34 L1233.44 389.34 L1233.75 389.34 L1234.06 389.34 L1234.37 389.34 L1234.67 389.34 L1234.98 389.34 L1235.29 389.34 L1235.6 389.34 L1235.91 389.34 L1236.22 389.34 L1236.52 389.34 L1236.83 389.34 L1237.14 389.34 L1237.45 389.34 L1237.76 389.34 L1238.07 389.34 L1238.37 389.34 L1238.68 389.34 L1238.99 389.34 L1239.3 389.34 L1239.61 389.34 L1239.92 389.34 L1240.22 389.34 L1240.53 389.34 L1240.84 389.34 L1241.15 389.34 L1241.46 389.34 L1241.77 389.34 L1242.07 389.34 L1242.38 389.34 L1242.69 389.34 L1243 389.34 L1243.31 389.34 L1243.62 389.34 L1243.92 389.34 L1244.23 389.34 L1244.54 389.34 L1244.85 389.34 L1245.16 389.34 L1245.47 389.34 L1245.77 389.34 L1246.08 389.34 L1246.39 389.34 L1246.7 389.34 L1247.01 389.34 L1247.32 389.34 L1247.62 389.34 L1247.93 389.34 L1248.24 389.34 L1248.55 389.34 L1248.86 389.34 L1249.17 389.34 L1249.47 389.34 L1249.78 389.34 L1250.09 389.34 L1250.4 389.34 L1250.71 389.34 L1251.02 389.34 L1251.32 389.34 L1251.63 389.34 L1251.94 389.34 L1252.25 389.34 L1252.56 389.34 L1252.87 389.34 L1253.17 389.34 L1253.48 389.34 L1253.79 389.34 L1254.1 389.34" fill="none" stroke="#b28ef0" stroke-width="1.9" stroke-linejoin="round"/>
</g>
<path d="M976.8 352.86h4M976.8 313.42h4M976.8 273.98h4M976.8 234.54h4" fill="none" stroke="#000" stroke-width="1"/>
<path d="M976.8 384.41h2.2M976.8 376.52h2.2M976.8 368.64h2.2M976.8 360.75h2.2M976.8 344.97h2.2M976.8 337.08h2.2M976.8 329.2h2.2M976.8 321.31h2.2M976.8 305.53h2.2M976.8 297.64h2.2M976.8 289.76h2.2M976.8 281.87h2.2M976.8 266.09h2.2M976.8 258.2h2.2M976.8 250.32h2.2M976.8 242.43h2.2" fill="none" stroke="#000" stroke-width="1"/>
<path d="M1069.3 392.3v-4M1161.7 392.3v-4" fill="none" stroke="#000" stroke-width="1"/>
<path d="M995.38 392.3v-2.2M1013.86 392.3v-2.2M1032.34 392.3v-2.2M1050.82 392.3v-2.2M1087.78 392.3v-2.2M1106.26 392.3v-2.2M1124.74 392.3v-2.2M1143.22 392.3v-2.2M1180.18 392.3v-2.2M1198.66 392.3v-2.2M1217.14 392.3v-2.2M1235.62 392.3v-2.2" fill="none" stroke="#000" stroke-width="1"/>
<path d="M1253.6 227.2H976.8V392.3H1253.6" fill="none" stroke="#333" stroke-width="1.5"/>
<text x="972.5" y="396.6" font-size="12.4" text-anchor="end">0</text>
<text x="972.5" y="357.16" font-size="12.4" text-anchor="end">2</text>
<text x="972.5" y="317.72" font-size="12.4" text-anchor="end">4</text>
<text x="972.5" y="278.28" font-size="12.4" text-anchor="end">6</text>
<text x="972.5" y="238.84" font-size="12.4" text-anchor="end">8</text>
<text x="976.4" y="410.6" font-size="12.4" text-anchor="middle">−20</text>
<text x="1069.3" y="410.6" font-size="12.4" text-anchor="middle">0</text>
<text x="1161.7" y="410.6" font-size="12.4" text-anchor="middle">20</text>
<text x="1104.8" y="419.9" font-size="12.4" text-anchor="middle">Delay (ns)</text>
<text transform="translate(944.3 310) rotate(-90)" font-size="12.5" text-anchor="middle">Coincidence (Hz)</text>
<line x1="1253" y1="28" x2="1253" y2="424.5" stroke="#000" stroke-width="2"/>
<text x="747" y="36.6" font-size="25" text-anchor="end">1000</text>
<text x="747" y="115.9" font-size="25" text-anchor="end">100</text>
<text x="747" y="195.2" font-size="25" text-anchor="end">10</text>
<text x="747" y="274.5" font-size="25" text-anchor="end">1</text>
<text x="747" y="353.8" font-size="25" text-anchor="end">0.1</text>
<text x="747" y="433.1" font-size="25" text-anchor="end">0.01</text>
<text x="757.4" y="457" font-size="25" text-anchor="middle">0.0</text>
<text x="843.52" y="457" font-size="25" text-anchor="middle">0.2</text>
<text x="929.64" y="457" font-size="25" text-anchor="middle">0.4</text>
<text x="1015.76" y="457" font-size="25" text-anchor="middle">0.6</text>
<text x="1101.88" y="457" font-size="25" text-anchor="middle">0.8</text>
<text x="1188" y="457" font-size="25" text-anchor="middle">1.0</text>
<text x="1005" y="498.8" font-size="25" text-anchor="middle">Pump power (mW)</text>
<text transform="translate(664 226.5) rotate(-90)" font-size="25" text-anchor="middle">Coincidence count rates (kHz)</text>
<circle cx="787.8" cy="44.9" r="4.3" fill="none" stroke="#59cde2" stroke-width="3"/>
<text x="807" y="52.4" font-size="20.85">Measured coincidence of C30&amp;C38</text>
<path d="M782.5 68.5L787.8 63.2L793.1 68.5L787.8 73.8Z" fill="none" stroke="#f4726f" stroke-width="2.7" stroke-linejoin="round"/>
<text x="807" y="74.6" font-size="20.85">Measured coincidence of C42&amp;C38</text>
<rect x="784.15" y="87.45" width="7.3" height="7.3" fill="none" stroke="#b28ef0" stroke-width="2.7"/>
<text x="807" y="98.8" font-size="20.85">Measured coincidence of C54&amp;C38</text>
</g>
<g id="panel-c">
<text x="1305" y="30.4" font-size="42" font-weight="bold">c</text>
<path d="M1401 420.4h8.6M1401 322.3h8.6M1401 224.2h8.6M1401 126.1h8.6" fill="none" stroke="#000" stroke-width="2.0"/>
<path d="M1401 400.78h3.7M1401 381.16h3.7M1401 361.54h3.7M1401 341.92h3.7M1401 302.68h3.7M1401 283.06h3.7M1401 263.44h3.7M1401 243.82h3.7M1401 204.58h3.7M1401 184.96h3.7M1401 165.34h3.7M1401 145.72h3.7M1401 106.48h3.7M1401 86.86h3.7M1401 67.24h3.7M1401 47.62h3.7" fill="none" stroke="#000" stroke-width="2.0"/>
<path d="M1486.9 424.5v-8.6M1573 424.5v-8.6M1659.1 424.5v-8.6M1745.2 424.5v-8.6M1831.3 424.5v-8.6" fill="none" stroke="#000" stroke-width="2.0"/>
<path d="M1418.02 424.5v-3.7M1435.24 424.5v-3.7M1452.46 424.5v-3.7M1469.68 424.5v-3.7M1504.12 424.5v-3.7M1521.34 424.5v-3.7M1538.56 424.5v-3.7M1555.78 424.5v-3.7M1590.22 424.5v-3.7M1607.44 424.5v-3.7M1624.66 424.5v-3.7M1641.88 424.5v-3.7M1676.32 424.5v-3.7M1693.54 424.5v-3.7M1710.76 424.5v-3.7M1727.98 424.5v-3.7M1762.42 424.5v-3.7M1779.64 424.5v-3.7M1796.86 424.5v-3.7M1814.08 424.5v-3.7M1848.52 424.5v-3.7M1865.74 424.5v-3.7M1882.96 424.5v-3.7" fill="none" stroke="#000" stroke-width="2.0"/>
<path d="M1410.94 54.16H1424.94M1410.94 183.32H1424.94M1417.94 54.16V183.32" stroke="#59cde2" stroke-width="2.3" fill="none"/>
<circle cx="1417.94" cy="118.91" r="4.3" fill="none" stroke="#59cde2" stroke-width="3"/>
<path d="M1448 315.76H1462M1448 346.5H1462M1455 315.76V346.5" stroke="#59cde2" stroke-width="2.3" fill="none"/>
<circle cx="1455" cy="330.8" r="4.3" fill="none" stroke="#59cde2" stroke-width="3"/>
<path d="M1479.7 364.16H1493.7M1479.7 375.93H1493.7M1486.7 364.16V375.93" stroke="#59cde2" stroke-width="2.3" fill="none"/>
<circle cx="1486.7" cy="370.04" r="4.3" fill="none" stroke="#59cde2" stroke-width="3"/>
<path d="M1501.94 379.2H1515.94M1501.94 387.7H1515.94M1508.94 379.2V387.7" stroke="#59cde2" stroke-width="2.3" fill="none"/>
<circle cx="1508.94" cy="383.32" r="4.3" fill="none" stroke="#59cde2" stroke-width="3"/>
<path d="M1529.94 391.62H1543.94M1529.94 396.86H1543.94M1536.94 391.62V396.86" stroke="#59cde2" stroke-width="2.3" fill="none"/>
<circle cx="1536.94" cy="394.24" r="4.3" fill="none" stroke="#59cde2" stroke-width="3"/>
<path d="M1565.19 400.78H1579.19M1565.19 404.05H1579.19M1572.19 400.78V404.05" stroke="#59cde2" stroke-width="2.3" fill="none"/>
<circle cx="1572.19" cy="402.48" r="4.3" fill="none" stroke="#59cde2" stroke-width="3"/>
<path d="M1609.56 406.67H1623.56M1609.56 408.63H1623.56M1616.56 406.67V408.63" stroke="#59cde2" stroke-width="2.3" fill="none"/>
<circle cx="1616.56" cy="407.58" r="4.3" fill="none" stroke="#59cde2" stroke-width="3"/>
<path d="M1665.43 410.92H1679.43M1665.43 412.22H1679.43M1672.43 410.92V412.22" stroke="#59cde2" stroke-width="2.3" fill="none"/>
<circle cx="1672.43" cy="411.64" r="4.3" fill="none" stroke="#59cde2" stroke-width="3"/>
<path d="M1735.76 414.02H1749.76" stroke="#59cde2" stroke-width="2.3" fill="none"/>
<circle cx="1742.76" cy="413.99" r="4.3" fill="none" stroke="#59cde2" stroke-width="3"/>
<path d="M1777.48 415.36H1791.48" stroke="#59cde2" stroke-width="2.3" fill="none"/>
<circle cx="1784.48" cy="415.36" r="4.3" fill="none" stroke="#59cde2" stroke-width="3"/>
<path d="M1824.3 416.02H1838.3" stroke="#59cde2" stroke-width="2.3" fill="none"/>
<circle cx="1831.3" cy="416.02" r="4.3" fill="none" stroke="#59cde2" stroke-width="3"/>
<path d="M1448 62.66H1462M1448 138.53H1462M1455 62.66V138.53" stroke="#f4726f" stroke-width="2.3" fill="none"/>
<path d="M1449.7 100.59L1455 95.29L1460.3 100.59L1455 105.89Z" fill="none" stroke="#f4726f" stroke-width="2.7" stroke-linejoin="round"/>
<path d="M1479.7 240.55H1493.7M1479.7 263.44H1493.7M1486.7 240.55V263.44" stroke="#f4726f" stroke-width="2.3" fill="none"/>
<path d="M1481.4 252.32L1486.7 247.02L1492 252.32L1486.7 257.62Z" fill="none" stroke="#f4726f" stroke-width="2.7" stroke-linejoin="round"/>
<path d="M1501.94 305.3H1515.94M1501.94 319.03H1515.94M1508.94 305.3V319.03" stroke="#f4726f" stroke-width="2.3" fill="none"/>
<path d="M1503.64 312.49L1508.94 307.19L1514.24 312.49L1508.94 317.79Z" fill="none" stroke="#f4726f" stroke-width="2.7" stroke-linejoin="round"/>
<path d="M1529.94 343.23H1543.94M1529.94 349.77H1543.94M1536.94 343.23V349.77" stroke="#f4726f" stroke-width="2.3" fill="none"/>
<path d="M1531.64 346.5L1536.94 341.2L1542.24 346.5L1536.94 351.8Z" fill="none" stroke="#f4726f" stroke-width="2.7" stroke-linejoin="round"/>
<path d="M1565.19 369.39H1579.19M1565.19 373.31H1579.19M1572.19 369.39V373.31" stroke="#f4726f" stroke-width="2.3" fill="none"/>
<path d="M1566.89 371.35L1572.19 366.05L1577.49 371.35L1572.19 376.65Z" fill="none" stroke="#f4726f" stroke-width="2.7" stroke-linejoin="round"/>
<path d="M1609.56 386.72H1623.56M1609.56 389.33H1623.56M1616.56 386.72V389.33" stroke="#f4726f" stroke-width="2.3" fill="none"/>
<path d="M1611.26 388.03L1616.56 382.73L1621.86 388.03L1616.56 393.33Z" fill="none" stroke="#f4726f" stroke-width="2.7" stroke-linejoin="round"/>
<path d="M1665.43 398.16H1679.43M1665.43 399.47H1679.43M1672.43 398.16V399.47" stroke="#f4726f" stroke-width="2.3" fill="none"/>
<path d="M1667.13 398.82L1672.43 393.52L1677.73 398.82L1672.43 404.12Z" fill="none" stroke="#f4726f" stroke-width="2.7" stroke-linejoin="round"/>
<path d="M1735.76 406.21H1749.76" stroke="#f4726f" stroke-width="2.3" fill="none"/>
<path d="M1737.46 406.21L1742.76 400.91L1748.06 406.21L1742.76 411.51Z" fill="none" stroke="#f4726f" stroke-width="2.7" stroke-linejoin="round"/>
<path d="M1777.48 408.95H1791.48" stroke="#f4726f" stroke-width="2.3" fill="none"/>
<path d="M1779.18 408.95L1784.48 403.65L1789.78 408.95L1784.48 414.25Z" fill="none" stroke="#f4726f" stroke-width="2.7" stroke-linejoin="round"/>
<path d="M1824.3 410.98H1838.3" stroke="#f4726f" stroke-width="2.3" fill="none"/>
<path d="M1826 410.98L1831.3 405.68L1836.6 410.98L1831.3 416.28Z" fill="none" stroke="#f4726f" stroke-width="2.7" stroke-linejoin="round"/>
<path d="M1410.94 53.51H1424.94M1410.94 236.3H1424.94M1417.94 53.51V236.3" stroke="#b28ef0" stroke-width="2.3" fill="none"/>
<rect x="1414.29" y="141.42" width="7.3" height="7.3" fill="none" stroke="#b28ef0" stroke-width="2.7"/>
<path d="M1448 314.45H1462M1448 347.81H1462M1455 314.45V347.81" stroke="#b28ef0" stroke-width="2.3" fill="none"/>
<rect x="1451.35" y="327.15" width="7.3" height="7.3" fill="none" stroke="#b28ef0" stroke-width="2.7"/>
<path d="M1479.7 363.5H1493.7M1479.7 375.27H1493.7M1486.7 363.5V375.27" stroke="#b28ef0" stroke-width="2.3" fill="none"/>
<rect x="1483.05" y="365.74" width="7.3" height="7.3" fill="none" stroke="#b28ef0" stroke-width="2.7"/>
<path d="M1501.94 378.54H1515.94M1501.94 386.39H1515.94M1508.94 378.54V386.39" stroke="#b28ef0" stroke-width="2.3" fill="none"/>
<rect x="1505.29" y="378.82" width="7.3" height="7.3" fill="none" stroke="#b28ef0" stroke-width="2.7"/>
<path d="M1529.94 390.32H1543.94M1529.94 395.55H1543.94M1536.94 390.32V395.55" stroke="#b28ef0" stroke-width="2.3" fill="none"/>
<rect x="1533.29" y="389.28" width="7.3" height="7.3" fill="none" stroke="#b28ef0" stroke-width="2.7"/>
<path d="M1565.19 399.8H1579.19M1565.19 403.07H1579.19M1572.19 399.8V403.07" stroke="#b28ef0" stroke-width="2.3" fill="none"/>
<rect x="1568.54" y="397.78" width="7.3" height="7.3" fill="none" stroke="#b28ef0" stroke-width="2.7"/>
<path d="M1609.56 405.69H1623.56M1609.56 407.65H1623.56M1616.56 405.69V407.65" stroke="#b28ef0" stroke-width="2.3" fill="none"/>
<rect x="1612.91" y="403.02" width="7.3" height="7.3" fill="none" stroke="#b28ef0" stroke-width="2.7"/>
<path d="M1665.43 409.94H1679.43M1665.43 411.24H1679.43M1672.43 409.94V411.24" stroke="#b28ef0" stroke-width="2.3" fill="none"/>
<rect x="1668.78" y="406.94" width="7.3" height="7.3" fill="none" stroke="#b28ef0" stroke-width="2.7"/>
<path d="M1735.76 412.88H1749.76" stroke="#b28ef0" stroke-width="2.3" fill="none"/>
<rect x="1739.11" y="409.23" width="7.3" height="7.3" fill="none" stroke="#b28ef0" stroke-width="2.7"/>
<path d="M1777.48 414.19H1791.48" stroke="#b28ef0" stroke-width="2.3" fill="none"/>
<rect x="1780.83" y="410.54" width="7.3" height="7.3" fill="none" stroke="#b28ef0" stroke-width="2.7"/>
<path d="M1824.3 415.17H1838.3" stroke="#b28ef0" stroke-width="2.3" fill="none"/>
<rect x="1827.65" y="411.52" width="7.3" height="7.3" fill="none" stroke="#b28ef0" stroke-width="2.7"/>
<rect x="1401" y="28" width="495" height="396.5" fill="none" stroke="#000" stroke-width="2.4"/>
<text x="1385.8" y="429" font-size="25" text-anchor="end">0</text>
<text x="1385.8" y="330.9" font-size="25" text-anchor="end">150</text>
<text x="1385.8" y="232.8" font-size="25" text-anchor="end">300</text>
<text x="1385.8" y="134.7" font-size="25" text-anchor="end">450</text>
<text x="1385.8" y="36.6" font-size="25" text-anchor="end">600</text>
<text x="1400.8" y="457" font-size="25" text-anchor="middle">0.0</text>
<text x="1486.9" y="457" font-size="25" text-anchor="middle">0.2</text>
<text x="1573" y="457" font-size="25" text-anchor="middle">0.4</text>
<text x="1659.1" y="457" font-size="25" text-anchor="middle">0.6</text>
<text x="1745.2" y="457" font-size="25" text-anchor="middle">0.8</text>
<text x="1831.3" y="457" font-size="25" text-anchor="middle">1.0</text>
<text x="1648.2" y="498.8" font-size="25" text-anchor="middle">Pump power (mW)</text>
<text transform="translate(1323.5 226.3) rotate(-90)" font-size="25" text-anchor="middle">CAR</text>
<circle cx="1495.3" cy="50" r="4.3" fill="none" stroke="#59cde2" stroke-width="3"/>
<text x="1516" y="56.3" font-size="20.85">Measured result of C30&amp;C38</text>
<path d="M1490 72.9L1495.3 67.6L1500.6 72.9L1495.3 78.2Z" fill="none" stroke="#f4726f" stroke-width="2.7" stroke-linejoin="round"/>
<text x="1516" y="80.1" font-size="20.85">Measured result of C42&amp;C38</text>
<rect x="1491.65" y="92.55" width="7.3" height="7.3" fill="none" stroke="#b28ef0" stroke-width="2.7"/>
<text x="1516" y="102.5" font-size="20.85">Measured result of C54&amp;C38</text>
</g>
<g id="panel-d">
<text x="-1" y="578" font-size="41" font-weight="bold">d</text>
<path d="M72.7 876.72h7M72.7 808.84h7M72.7 740.96h7M72.7 673.08h7" fill="none" stroke="#000" stroke-width="2.0"/>
<path d="M72.7 931.02h3.3M72.7 917.45h3.3M72.7 903.87h3.3M72.7 890.3h3.3M72.7 863.14h3.3M72.7 849.57h3.3M72.7 835.99h3.3M72.7 822.42h3.3M72.7 795.26h3.3M72.7 781.69h3.3M72.7 768.11h3.3M72.7 754.54h3.3M72.7 727.38h3.3M72.7 713.81h3.3M72.7 700.23h3.3M72.7 686.66h3.3M72.7 659.5h3.3M72.7 645.93h3.3M72.7 632.35h3.3M72.7 618.78h3.3" fill="none" stroke="#000" stroke-width="2.0"/>
<path d="M346.7 894.32h-7M346.7 844.04h-7M346.7 793.76h-7M346.7 743.47h-7M346.7 693.19h-7M346.7 642.91h-7" fill="none" stroke="#000" stroke-width="2.0"/>
<path d="M346.7 919.46h-3.3M346.7 869.18h-3.3M346.7 818.9h-3.3M346.7 768.61h-3.3M346.7 718.33h-3.3M346.7 668.05h-3.3M346.7 617.77h-3.3" fill="none" stroke="#000" stroke-width="2.0"/>
<path d="M107.2 944.6v-7M175.64 944.6v-7M244.08 944.6v-7M312.52 944.6v-7" fill="none" stroke="#000" stroke-width="2.0"/>
<path d="M79.82 944.6v-3.3M93.51 944.6v-3.3M120.89 944.6v-3.3M134.58 944.6v-3.3M148.26 944.6v-3.3M161.95 944.6v-3.3M189.33 944.6v-3.3M203.02 944.6v-3.3M216.7 944.6v-3.3M230.39 944.6v-3.3M257.77 944.6v-3.3M271.46 944.6v-3.3M285.14 944.6v-3.3M298.83 944.6v-3.3M326.21 944.6v-3.3M339.9 944.6v-3.3" fill="none" stroke="#000" stroke-width="2.0"/>
<clipPath id="clipd"><rect x="72.7" y="605.2" width="274" height="339.4"/></clipPath>
<g clip-path="url(#clipd)">
<path d="M63.2 907.5C63.9 905.7 66 900.3 67.4 896.4C68.8 892.5 70.2 888.4 71.6 884.3C73.1 880.1 74.5 875.8 75.9 871.6C77.3 867.3 78.7 862.9 80.1 858.6C81.5 854.2 83 849.8 84.4 845.5C85.8 841.1 87.2 836.8 88.6 832.4C90 828.1 91.4 823.7 92.8 819.4C94.3 815.1 95.7 810.8 97.1 806.4C98.5 802.1 99.9 797.8 101.3 793.6C102.7 789.3 104.2 785.1 105.6 780.9C107 776.7 108.4 772.5 109.8 768.5C111.2 764.5 112.6 760.5 114 756.7C115.5 752.8 116.9 749.1 118.3 745.6C119.7 742.2 121.1 738.8 122.5 735.8C123.9 732.8 125.4 729.9 126.8 727.4C128.2 725 129.6 722.7 131 720.9C132.4 719.1 133.8 717.5 135.2 716.4C136.7 715.3 138.1 714.5 139.5 714.1C140.9 713.8 142.3 713.8 143.7 714.1C145.1 714.5 146.6 715.3 148 716.3C149.4 717.4 150.8 718.9 152.2 720.6C153.6 722.3 155 724.4 156.4 726.7C157.9 728.9 159.3 731.5 160.7 734.2C162.1 736.9 163.5 739.9 164.9 743C166.3 746.1 167.8 749.4 169.2 752.7C170.6 756.1 172 759.6 173.4 763.1C174.8 766.7 176.2 770.3 177.6 774C179.1 777.7 180.5 781.5 181.9 785.3C183.3 789.2 184.7 793 186.1 796.9C187.5 800.9 189 804.8 190.4 808.8C191.8 812.8 193.2 816.9 194.6 820.9C196 825 197.4 829.1 198.8 833.2C200.3 837.4 201.7 841.5 203.1 845.7C204.5 849.8 205.9 853.9 207.3 858C208.7 862.1 210.2 866.2 211.6 870.2C213 874.1 214.4 878.1 215.8 881.8C217.2 885.6 218.6 889.3 220 892.7C221.5 896.1 222.9 899.4 224.3 902.4C225.7 905.4 227.1 908.3 228.5 910.8C229.9 913.2 231.4 915.5 232.8 917.4C234.2 919.3 235.6 920.9 237 922.1C238.4 923.3 239.8 924.2 241.2 924.7C242.7 925.3 244.1 925.5 245.5 925.3C246.9 925.1 248.3 924.6 249.7 923.7C251.1 922.8 252.6 921.6 254 920.1C255.4 918.6 256.8 916.7 258.2 914.6C259.6 912.5 261 910.1 262.4 907.4C263.9 904.8 265.3 901.9 266.7 898.8C268.1 895.7 269.5 892.3 270.9 888.8C272.3 885.3 273.8 881.6 275.2 877.7C276.6 873.9 278 869.9 279.4 865.8C280.8 861.6 282.2 857.4 283.6 853.1C285.1 848.7 286.5 844.3 287.9 839.8C289.3 835.3 290.7 830.7 292.1 826.2C293.5 821.6 295 817 296.4 812.4C297.8 807.8 299.2 803.2 300.6 798.7C302 794.2 303.4 789.7 304.8 785.3C306.3 780.9 307.7 776.6 309.1 772.5C310.5 768.4 311.9 764.3 313.3 760.5C314.7 756.7 316.2 753 317.6 749.6C319 746.2 320.4 743 321.8 740C323.2 737.1 324.6 734.3 326 731.8C327.5 729.3 328.9 727.1 330.3 725.1C331.7 723.2 333.1 721.5 334.5 720C335.9 718.5 337.4 717.3 338.8 716.3C340.2 715.2 341.6 714.5 343 713.9C344.4 713.3 345.8 712.9 347.2 712.7C348.7 712.5 350.1 712.5 351.5 712.6C352.9 712.8 355 713.3 355.7 713.5" fill="none" stroke="#f4726f" stroke-width="2.8" stroke-linejoin="round"/>
<path d="M63.2 928.7C63.9 928.9 66 929.8 67.4 930.2C68.8 930.5 70.2 930.8 71.6 930.8C73 930.8 74.4 930.6 75.8 930.2C77.2 929.8 78.6 929.1 80 928.2C81.4 927.3 82.8 926.1 84.2 924.6C85.7 923.1 87.1 921.4 88.5 919.3C89.9 917.3 91.3 914.9 92.7 912.3C94.1 909.7 95.5 906.7 96.9 903.6C98.3 900.4 99.7 896.9 101.1 893.2C102.5 889.5 103.9 885.6 105.3 881.5C106.7 877.3 108.1 873 109.6 868.5C111 864 112.4 859.3 113.8 854.5C115.2 849.8 116.6 844.9 118 839.9C119.4 835 120.8 830 122.2 825C123.6 820.1 125 815 126.4 810.1C127.8 805.2 129.2 800.3 130.6 795.5C132 790.7 133.4 786 134.9 781.4C136.3 776.9 137.7 772.4 139.1 768.2C140.5 764 141.9 759.9 143.3 756.1C144.7 752.2 146.1 748.5 147.5 745.1C148.9 741.7 150.3 738.6 151.7 735.6C153.1 732.7 154.5 730 155.9 727.7C157.3 725.3 158.8 723.1 160.2 721.3C161.6 719.5 163 717.9 164.4 716.6C165.8 715.4 167.2 714.4 168.6 713.7C170 713 171.4 712.7 172.8 712.6C174.2 712.5 175.6 712.7 177 713.2C178.4 713.7 179.8 714.6 181.2 715.7C182.6 716.8 184.1 718.2 185.5 719.9C186.9 721.6 188.3 723.6 189.7 725.8C191.1 728.1 192.5 730.7 193.9 733.5C195.3 736.3 196.7 739.3 198.1 742.7C199.5 746 200.9 749.5 202.3 753.3C203.7 757 205.1 761 206.5 765.2C208 769.3 209.4 773.7 210.8 778.2C212.2 782.7 213.6 787.3 215 792.1C216.4 796.8 217.8 801.6 219.2 806.5C220.6 811.4 222 816.4 223.4 821.3C224.8 826.2 226.2 831.2 227.6 836.1C229 841 230.4 845.9 231.9 850.7C233.3 855.5 234.7 860.2 236.1 864.7C237.5 869.3 238.9 873.7 240.3 878C241.7 882.2 243.1 886.3 244.5 890.1C245.9 893.9 247.3 897.6 248.7 901C250.1 904.3 251.5 907.5 252.9 910.3C254.3 913.2 255.7 915.8 257.2 918.1C258.6 920.3 260 922.3 261.4 924C262.8 925.7 264.2 927.1 265.6 928.2C267 929.3 268.4 930 269.8 930.5C271.2 931 272.6 931.1 274 931C275.4 930.8 276.8 930.3 278.2 929.6C279.6 928.8 281.1 927.8 282.5 926.4C283.9 925.1 285.3 923.5 286.7 921.6C288.1 919.8 289.5 917.6 290.9 915.2C292.3 912.8 293.7 910.2 295.1 907.4C296.5 904.5 297.9 901.4 299.3 898.2C300.7 894.9 302.1 891.4 303.5 887.8C304.9 884.2 306.4 880.4 307.8 876.4C309.2 872.5 310.6 868.4 312 864.2C313.4 860 314.8 855.7 316.2 851.3C317.6 846.9 319 842.4 320.4 837.9C321.8 833.3 323.2 828.7 324.6 824.1C326 819.5 327.4 814.9 328.8 810.3C330.3 805.7 331.7 801.1 333.1 796.5C334.5 791.9 335.9 787.4 337.3 783C338.7 778.5 340.1 774.1 341.5 769.9C342.9 765.6 344.3 761.5 345.7 757.5C347.1 753.5 348.5 749.6 349.9 745.8C351.3 742.1 353.4 737 354.1 735.2" fill="none" stroke="#59cde2" stroke-width="3.6" stroke-linejoin="round"/>
</g>
<line x1="72.7" y1="675.2" x2="346.7" y2="675.2" stroke="#59cde2" stroke-width="2.8" stroke-dasharray="4.6 6.75" stroke-dashoffset="0.0"/>
<line x1="72.7" y1="672.8" x2="346.7" y2="672.8" stroke="#f4726f" stroke-width="2.8" stroke-dasharray="4.6 6.75" stroke-dashoffset="0.0"/>
<path d="M105.46 675.7H121.26" stroke="#59cde2" stroke-width="1.9" fill="none"/>
<path d="M108.96 675.7L113.36 671.3L117.76 675.7L113.36 680.1Z" fill="none" stroke="#59cde2" stroke-width="2.5" stroke-linejoin="round"/>
<path d="M131.12 675.7H146.92" stroke="#59cde2" stroke-width="1.9" fill="none"/>
<path d="M134.62 675.7L139.02 671.3L143.42 675.7L139.02 680.1Z" fill="none" stroke="#59cde2" stroke-width="2.5" stroke-linejoin="round"/>
<path d="M146.18 675.7H161.98" stroke="#59cde2" stroke-width="1.9" fill="none"/>
<path d="M149.68 675.7L154.08 671.3L158.48 675.7L154.08 680.1Z" fill="none" stroke="#59cde2" stroke-width="2.5" stroke-linejoin="round"/>
<path d="M159.53 677.5H175.33" stroke="#59cde2" stroke-width="1.9" fill="none"/>
<path d="M163.03 677.5L167.43 673.1L171.83 677.5L167.43 681.9Z" fill="none" stroke="#59cde2" stroke-width="2.5" stroke-linejoin="round"/>
<path d="M174.58 677.5H190.38" stroke="#59cde2" stroke-width="1.9" fill="none"/>
<path d="M178.08 677.5L182.48 673.1L186.88 677.5L182.48 681.9Z" fill="none" stroke="#59cde2" stroke-width="2.5" stroke-linejoin="round"/>
<path d="M199.56 677.5H215.36" stroke="#59cde2" stroke-width="1.9" fill="none"/>
<path d="M203.06 677.5L207.46 673.1L211.86 677.5L207.46 681.9Z" fill="none" stroke="#59cde2" stroke-width="2.5" stroke-linejoin="round"/>
<path d="M213.25 673.8H229.05" stroke="#59cde2" stroke-width="1.9" fill="none"/>
<path d="M216.75 673.8L221.15 669.4L225.55 673.8L221.15 678.2Z" fill="none" stroke="#59cde2" stroke-width="2.5" stroke-linejoin="round"/>
<path d="M237.89 673.3H253.69" stroke="#59cde2" stroke-width="1.9" fill="none"/>
<path d="M241.39 673.3L245.79 668.9L250.19 673.3L245.79 677.7Z" fill="none" stroke="#59cde2" stroke-width="2.5" stroke-linejoin="round"/>
<path d="M252.95 673.3H268.75" stroke="#59cde2" stroke-width="1.9" fill="none"/>
<path d="M256.45 673.3L260.85 668.9L265.25 673.3L260.85 677.7Z" fill="none" stroke="#59cde2" stroke-width="2.5" stroke-linejoin="round"/>
<path d="M266.64 673.3H282.44" stroke="#59cde2" stroke-width="1.9" fill="none"/>
<path d="M270.14 673.3L274.54 668.9L278.94 673.3L274.54 677.7Z" fill="none" stroke="#59cde2" stroke-width="2.5" stroke-linejoin="round"/>
<path d="M281.35 673.3H297.15" stroke="#59cde2" stroke-width="1.9" fill="none"/>
<path d="M284.85 673.3L289.25 668.9L293.65 673.3L289.25 677.7Z" fill="none" stroke="#59cde2" stroke-width="2.5" stroke-linejoin="round"/>
<path d="M307.02 673.3H322.82" stroke="#59cde2" stroke-width="1.9" fill="none"/>
<path d="M310.52 673.3L314.92 668.9L319.32 673.3L314.92 677.7Z" fill="none" stroke="#59cde2" stroke-width="2.5" stroke-linejoin="round"/>
<path d="M105.46 672.7H121.26" stroke="#f4726f" stroke-width="1.9" fill="none"/>
<circle cx="113.36" cy="672.7" r="3.65" fill="#f4726f" stroke="#f4726f" stroke-width="2.6"/>
<path d="M131.12 670.6H146.92" stroke="#f4726f" stroke-width="1.9" fill="none"/>
<circle cx="139.02" cy="670.6" r="3.65" fill="#f4726f" stroke="#f4726f" stroke-width="2.6"/>
<path d="M146.18 672.7H161.98" stroke="#f4726f" stroke-width="1.9" fill="none"/>
<circle cx="154.08" cy="672.7" r="3.65" fill="#f4726f" stroke="#f4726f" stroke-width="2.6"/>
<path d="M159.53 672.7H175.33" stroke="#f4726f" stroke-width="1.9" fill="none"/>
<circle cx="167.43" cy="672.7" r="3.65" fill="#f4726f" stroke="#f4726f" stroke-width="2.6"/>
<path d="M174.58 672.7H190.38" stroke="#f4726f" stroke-width="1.9" fill="none"/>
<circle cx="182.48" cy="672.7" r="3.65" fill="#f4726f" stroke="#f4726f" stroke-width="2.6"/>
<path d="M199.56 672.7H215.36" stroke="#f4726f" stroke-width="1.9" fill="none"/>
<circle cx="207.46" cy="672.7" r="3.65" fill="#f4726f" stroke="#f4726f" stroke-width="2.6"/>
<path d="M213.25 672.9H229.05" stroke="#f4726f" stroke-width="1.9" fill="none"/>
<circle cx="221.15" cy="672.9" r="3.65" fill="#f4726f" stroke="#f4726f" stroke-width="2.6"/>
<path d="M237.89 672.9H253.69" stroke="#f4726f" stroke-width="1.9" fill="none"/>
<circle cx="245.79" cy="672.9" r="3.65" fill="#f4726f" stroke="#f4726f" stroke-width="2.6"/>
<path d="M252.95 672.9H268.75" stroke="#f4726f" stroke-width="1.9" fill="none"/>
<circle cx="260.85" cy="672.9" r="3.65" fill="#f4726f" stroke="#f4726f" stroke-width="2.6"/>
<path d="M266.64 672.9H282.44" stroke="#f4726f" stroke-width="1.9" fill="none"/>
<circle cx="274.54" cy="672.9" r="3.65" fill="#f4726f" stroke="#f4726f" stroke-width="2.6"/>
<path d="M281.35 672.9H297.15" stroke="#f4726f" stroke-width="1.9" fill="none"/>
<circle cx="289.25" cy="672.9" r="3.65" fill="#f4726f" stroke="#f4726f" stroke-width="2.6"/>
<path d="M307.02 672.9H322.82" stroke="#f4726f" stroke-width="1.9" fill="none"/>
<circle cx="314.92" cy="672.9" r="3.65" fill="#f4726f" stroke="#f4726f" stroke-width="2.6"/>
<path d="M107.21 841.01H119.51M107.21 845.91H119.51M113.36 841.01V845.91" stroke="#59cde2" stroke-width="1.8" fill="none"/>
<path d="M108.96 843.46L113.36 839.06L117.76 843.46L113.36 847.86Z" fill="none" stroke="#59cde2" stroke-width="2.5" stroke-linejoin="round"/>
<path d="M132.87 773.81H145.17M132.87 778.71H145.17M139.02 773.81V778.71" stroke="#59cde2" stroke-width="1.8" fill="none"/>
<path d="M134.62 776.26L139.02 771.86L143.42 776.26L139.02 780.66Z" fill="none" stroke="#59cde2" stroke-width="2.5" stroke-linejoin="round"/>
<path d="M147.93 729.01H160.23M147.93 733.91H160.23M154.08 729.01V733.91" stroke="#59cde2" stroke-width="1.8" fill="none"/>
<path d="M149.68 731.46L154.08 727.06L158.48 731.46L154.08 735.86Z" fill="none" stroke="#59cde2" stroke-width="2.5" stroke-linejoin="round"/>
<path d="M161.28 715.77H173.58M161.28 720.67H173.58M167.43 715.77V720.67" stroke="#59cde2" stroke-width="1.8" fill="none"/>
<path d="M163.03 718.22L167.43 713.82L171.83 718.22L167.43 722.62Z" fill="none" stroke="#59cde2" stroke-width="2.5" stroke-linejoin="round"/>
<path d="M176.33 715.43H188.63M176.33 720.33H188.63M182.48 715.43V720.33" stroke="#59cde2" stroke-width="1.8" fill="none"/>
<path d="M178.08 717.88L182.48 713.48L186.88 717.88L182.48 722.28Z" fill="none" stroke="#59cde2" stroke-width="2.5" stroke-linejoin="round"/>
<path d="M201.31 744.62H213.61M201.31 749.52H213.61M207.46 744.62V749.52" stroke="#59cde2" stroke-width="1.8" fill="none"/>
<path d="M203.06 747.07L207.46 742.67L211.86 747.07L207.46 751.47Z" fill="none" stroke="#59cde2" stroke-width="2.5" stroke-linejoin="round"/>
<path d="M215 814.54H227.3M215 819.44H227.3M221.15 814.54V819.44" stroke="#59cde2" stroke-width="1.8" fill="none"/>
<path d="M216.75 816.99L221.15 812.59L225.55 816.99L221.15 821.39Z" fill="none" stroke="#59cde2" stroke-width="2.5" stroke-linejoin="round"/>
<path d="M239.64 899.39H251.94M239.64 904.29H251.94M245.79 899.39V904.29" stroke="#59cde2" stroke-width="1.8" fill="none"/>
<path d="M241.39 901.84L245.79 897.44L250.19 901.84L245.79 906.24Z" fill="none" stroke="#59cde2" stroke-width="2.5" stroke-linejoin="round"/>
<path d="M254.7 917.71H267M254.7 922.61H267M260.85 917.71V922.61" stroke="#59cde2" stroke-width="1.8" fill="none"/>
<path d="M256.45 920.16L260.85 915.76L265.25 920.16L260.85 924.56Z" fill="none" stroke="#59cde2" stroke-width="2.5" stroke-linejoin="round"/>
<path d="M268.39 922.8H280.69M268.39 927.7H280.69M274.54 922.8V927.7" stroke="#59cde2" stroke-width="1.8" fill="none"/>
<path d="M270.14 925.25L274.54 920.85L278.94 925.25L274.54 929.65Z" fill="none" stroke="#59cde2" stroke-width="2.5" stroke-linejoin="round"/>
<path d="M283.1 910.25H295.4M283.1 915.15H295.4M289.25 910.25V915.15" stroke="#59cde2" stroke-width="1.8" fill="none"/>
<path d="M284.85 912.7L289.25 908.3L293.65 912.7L289.25 917.1Z" fill="none" stroke="#59cde2" stroke-width="2.5" stroke-linejoin="round"/>
<path d="M308.77 854.92H321.07M308.77 859.82H321.07M314.92 854.92V859.82" stroke="#59cde2" stroke-width="1.8" fill="none"/>
<path d="M310.52 857.37L314.92 852.97L319.32 857.37L314.92 861.77Z" fill="none" stroke="#59cde2" stroke-width="2.5" stroke-linejoin="round"/>
<path d="M107.21 769.06H119.51M107.21 773.96H119.51M113.36 769.06V773.96" stroke="#f4726f" stroke-width="1.8" fill="none"/>
<circle cx="113.36" cy="771.51" r="3.65" fill="none" stroke="#f4726f" stroke-width="2.6"/>
<path d="M132.87 712.04H145.17M132.87 716.94H145.17M139.02 712.04V716.94" stroke="#f4726f" stroke-width="1.8" fill="none"/>
<circle cx="139.02" cy="714.49" r="3.65" fill="none" stroke="#f4726f" stroke-width="2.6"/>
<path d="M147.93 726.97H160.23M147.93 731.87H160.23M154.08 726.97V731.87" stroke="#f4726f" stroke-width="1.8" fill="none"/>
<circle cx="154.08" cy="729.42" r="3.65" fill="none" stroke="#f4726f" stroke-width="2.6"/>
<path d="M161.28 742.92H173.58M161.28 747.82H173.58M167.43 742.92V747.82" stroke="#f4726f" stroke-width="1.8" fill="none"/>
<circle cx="167.43" cy="745.37" r="3.65" fill="none" stroke="#f4726f" stroke-width="2.6"/>
<path d="M176.33 777.2H188.63M176.33 782.1H188.63M182.48 777.2V782.1" stroke="#f4726f" stroke-width="1.8" fill="none"/>
<circle cx="182.48" cy="779.65" r="3.65" fill="none" stroke="#f4726f" stroke-width="2.6"/>
<path d="M201.31 857.98H213.61M201.31 862.88H213.61M207.46 857.98V862.88" stroke="#f4726f" stroke-width="1.8" fill="none"/>
<circle cx="207.46" cy="860.43" r="3.65" fill="none" stroke="#f4726f" stroke-width="2.6"/>
<path d="M215 911.6H227.3M215 916.5H227.3M221.15 911.6V916.5" stroke="#f4726f" stroke-width="1.8" fill="none"/>
<circle cx="221.15" cy="914.05" r="3.65" fill="none" stroke="#f4726f" stroke-width="2.6"/>
<path d="M239.64 922.13H251.94M239.64 927.03H251.94M245.79 922.13V927.03" stroke="#f4726f" stroke-width="1.8" fill="none"/>
<circle cx="245.79" cy="924.58" r="3.65" fill="none" stroke="#f4726f" stroke-width="2.6"/>
<path d="M254.7 911.94H267M254.7 916.84H267M260.85 911.94V916.84" stroke="#f4726f" stroke-width="1.8" fill="none"/>
<circle cx="260.85" cy="914.39" r="3.65" fill="none" stroke="#f4726f" stroke-width="2.6"/>
<path d="M268.39 868.16H280.69M268.39 873.06H280.69M274.54 868.16V873.06" stroke="#f4726f" stroke-width="1.8" fill="none"/>
<circle cx="274.54" cy="870.61" r="3.65" fill="none" stroke="#f4726f" stroke-width="2.6"/>
<path d="M283.1 823.36H295.4M283.1 828.26H295.4M289.25 823.36V828.26" stroke="#f4726f" stroke-width="1.8" fill="none"/>
<circle cx="289.25" cy="825.81" r="3.65" fill="none" stroke="#f4726f" stroke-width="2.6"/>
<path d="M308.77 789.08H321.07M308.77 793.98H321.07M314.92 789.08V793.98" stroke="#f4726f" stroke-width="1.8" fill="none"/>
<circle cx="314.92" cy="791.53" r="3.65" fill="none" stroke="#f4726f" stroke-width="2.6"/>
<ellipse cx="287.8" cy="675.4" rx="9.9" ry="23.5" fill="none" stroke="#a8a8a8" stroke-width="2.3" stroke-dasharray="5.5 2.4"/>
<path d="M283.8 681.9C289.8 690.4 301.8 694.9 327 694.4" fill="none" stroke="#a8a8a8" stroke-width="2.3" stroke-dasharray="5.5 2.4"/>
<path d="M333 694.4L320.39 688.74L324.57 694.69L320.82 700.93Z" fill="#a8a8a8" stroke="none"/>
<ellipse cx="218.5" cy="859.8" rx="23.2" ry="10.1" fill="none" stroke="#a8a8a8" stroke-width="2.3" stroke-dasharray="5.5 2.4"/>
<path d="M216 863.3C212.5 870.8 198.5 876.3 184 876.8" fill="none" stroke="#a8a8a8" stroke-width="2.3" stroke-dasharray="5.5 2.4"/>
<path d="M178 876.8L189.97 880.27L187.1 876.16L189.37 871.69Z" fill="#a8a8a8" stroke="none"/>
<rect x="72.7" y="605.2" width="274" height="339.4" fill="none" stroke="#000" stroke-width="2.2"/>
<text x="60.3" y="951.2" font-size="20.8" text-anchor="end">0</text>
<text x="60.3" y="883.32" font-size="20.8" text-anchor="end">2</text>
<text x="60.3" y="815.44" font-size="20.8" text-anchor="end">4</text>
<text x="60.3" y="747.56" font-size="20.8" text-anchor="end">6</text>
<text x="60.3" y="679.68" font-size="20.8" text-anchor="end">8</text>
<text x="60.3" y="611.8" font-size="20.8" text-anchor="end">10</text>
<text x="359.5" y="951.2" font-size="20.8">0</text>
<text x="359.5" y="900.42" font-size="20.8">20</text>
<text x="359.5" y="850.14" font-size="20.8">40</text>
<text x="359.5" y="799.86" font-size="20.8">60</text>
<text x="359.5" y="749.57" font-size="20.8">80</text>
<text x="359.5" y="696.99" font-size="20.8">100</text>
<text x="359.5" y="647.01" font-size="20.8">120</text>
<text x="107.2" y="972" font-size="20.8" text-anchor="middle">0</text>
<text x="175.64" y="972" font-size="20.8" text-anchor="middle">2</text>
<text x="244.08" y="972" font-size="20.8" text-anchor="middle">4</text>
<text x="312.52" y="972" font-size="20.8" text-anchor="middle">6</text>
<text x="214.5" y="1007" font-size="20.8" text-anchor="middle">Phase [rad.]</text>
<text transform="translate(16 775) rotate(-90)" font-size="20.8" text-anchor="middle">Coincidence counts (15 s)</text>
<text transform="translate(420.5 775) rotate(90)" font-size="20.8" text-anchor="middle">Single side count rates (kHz)</text>
<text x="64.5" y="589" font-size="20.8">×10<tspan font-size="12.5" dy="-13">3</tspan></text>
<path d="M91.7 620.2L96.1 615.8L100.5 620.2L96.1 624.6Z" fill="none" stroke="#59cde2" stroke-width="2.6" stroke-linejoin="round"/>
<circle cx="96.1" cy="644.2" r="3.65" fill="none" stroke="#f4726f" stroke-width="2.7"/>
<text x="109.5" y="625" font-size="21.3" letter-spacing="0.35"><tspan font-family='"Liberation Serif", serif' font-style="italic" font-size="23">β</tspan>=<tspan font-family='"Liberation Serif", serif' font-style="italic" font-size="23">π</tspan>/4</text>
<text x="109.5" y="649.6" font-size="21.3" letter-spacing="0.35"><tspan font-family='"Liberation Serif", serif' font-style="italic" font-size="23">β</tspan>=<tspan font-family='"Liberation Serif", serif' font-style="italic" font-size="23">π</tspan>/2</text>
</g>
<g id="panel-e">
<text x="483.5" y="578" font-size="43.5" font-weight="bold">e</text>
<path d="M561.1 876.72h7M561.1 808.84h7M561.1 740.96h7M561.1 673.08h7" fill="none" stroke="#000" stroke-width="2.0"/>
<path d="M561.1 931.02h3.3M561.1 917.45h3.3M561.1 903.87h3.3M561.1 890.3h3.3M561.1 863.14h3.3M561.1 849.57h3.3M561.1 835.99h3.3M561.1 822.42h3.3M561.1 795.26h3.3M561.1 781.69h3.3M561.1 768.11h3.3M561.1 754.54h3.3M561.1 727.38h3.3M561.1 713.81h3.3M561.1 700.23h3.3M561.1 686.66h3.3M561.1 659.5h3.3M561.1 645.93h3.3M561.1 632.35h3.3M561.1 618.78h3.3" fill="none" stroke="#000" stroke-width="2.0"/>
<path d="M835.2 889.56h-7M835.2 834.52h-7M835.2 779.49h-7M835.2 724.45h-7M835.2 669.41h-7M835.2 614.37h-7" fill="none" stroke="#000" stroke-width="2.0"/>
<path d="M835.2 933.59h-3.3M835.2 922.58h-3.3M835.2 911.58h-3.3M835.2 900.57h-3.3M835.2 878.55h-3.3M835.2 867.55h-3.3M835.2 856.54h-3.3M835.2 845.53h-3.3M835.2 823.52h-3.3M835.2 812.51h-3.3M835.2 801.5h-3.3M835.2 790.49h-3.3M835.2 768.48h-3.3M835.2 757.47h-3.3M835.2 746.46h-3.3M835.2 735.46h-3.3M835.2 713.44h-3.3M835.2 702.43h-3.3M835.2 691.43h-3.3M835.2 680.42h-3.3M835.2 658.4h-3.3M835.2 647.4h-3.3M835.2 636.39h-3.3M835.2 625.38h-3.3" fill="none" stroke="#000" stroke-width="2.0"/>
<path d="M595.8 944.6v-7M664.24 944.6v-7M732.68 944.6v-7M801.12 944.6v-7" fill="none" stroke="#000" stroke-width="2.0"/>
<path d="M568.42 944.6v-3.3M582.11 944.6v-3.3M609.49 944.6v-3.3M623.18 944.6v-3.3M636.86 944.6v-3.3M650.55 944.6v-3.3M677.93 944.6v-3.3M691.62 944.6v-3.3M705.3 944.6v-3.3M718.99 944.6v-3.3M746.37 944.6v-3.3M760.06 944.6v-3.3M773.74 944.6v-3.3M787.43 944.6v-3.3M814.81 944.6v-3.3M828.5 944.6v-3.3" fill="none" stroke="#000" stroke-width="2.0"/>
<clipPath id="clipe"><rect x="561.1" y="605.2" width="274.1" height="339.4"/></clipPath>
<g clip-path="url(#clipe)">
<path d="M553.2 704.9C553.9 705.1 556 705.6 557.4 706.1C558.8 706.6 560.2 707.3 561.6 708.1C562.9 708.9 564.3 709.9 565.7 711C567.1 712.2 568.5 713.5 569.9 715.1C571.3 716.6 572.7 718.3 574.1 720.3C575.5 722.2 576.9 724.4 578.3 726.7C579.7 729.1 581.1 731.6 582.5 734.4C583.9 737.1 585.3 740 586.7 743.2C588.1 746.3 589.5 749.6 590.9 753C592.3 756.4 593.7 760 595.1 763.7C596.5 767.4 597.9 771.3 599.3 775.2C600.7 779.2 602.1 783.2 603.5 787.3C604.9 791.4 606.3 795.6 607.7 799.9C609.1 804.1 610.5 808.4 611.9 812.8C613.3 817.1 614.7 821.5 616.1 825.9C617.5 830.3 618.9 834.7 620.3 839.1C621.7 843.5 623.1 847.9 624.5 852.3C625.9 856.6 627.3 861 628.7 865.3C630.1 869.6 631.5 873.9 632.9 878C634.3 882.2 635.7 886.3 637 890.2C638.4 894.2 639.8 898.1 641.2 901.7C642.6 905.4 644 909 645.4 912.4C646.8 915.7 648.2 918.9 649.6 921.8C651 924.8 652.4 927.5 653.8 929.9C655.2 932.4 656.6 934.6 658 936.5C659.4 938.5 660.8 940.1 662.2 941.5C663.6 942.8 665 943.8 666.4 944.6C667.8 945.3 669.2 945.8 670.6 945.9C672 946.1 673.4 945.9 674.8 945.5C676.2 945 677.6 944.3 679 943.3C680.4 942.3 681.8 941 683.2 939.4C684.6 937.9 686 936.1 687.4 934.1C688.8 932.1 690.2 929.8 691.6 927.4C693 924.9 694.4 922.2 695.8 919.4C697.2 916.6 698.6 913.5 700 910.3C701.4 907.1 702.8 903.8 704.2 900.3C705.6 896.7 707 893.1 708.4 889.3C709.7 885.5 711.1 881.5 712.5 877.5C713.9 873.4 715.3 869.3 716.7 865C718.1 860.7 719.5 856.4 720.9 851.9C722.3 847.5 723.7 843 725.1 838.4C726.5 833.9 727.9 829.2 729.3 824.6C730.7 820 732.1 815.3 733.5 810.7C734.9 806.1 736.3 801.5 737.7 797C739.1 792.5 740.5 788 741.9 783.6C743.3 779.2 744.7 774.9 746.1 770.8C747.5 766.7 748.9 762.7 750.3 758.8C751.7 755 753.1 751.3 754.5 747.8C755.9 744.4 757.3 741.1 758.7 738C760.1 734.9 761.5 732.1 762.9 729.4C764.3 726.8 765.7 724.4 767.1 722.2C768.5 720 769.9 718.1 771.3 716.3C772.7 714.6 774.1 713.1 775.5 711.9C776.9 710.6 778.3 709.6 779.7 708.8C781.1 708 782.4 707.5 783.8 707.1C785.2 706.8 786.6 706.8 788 706.9C789.4 707.1 790.8 707.5 792.2 708.2C793.6 708.9 795 709.8 796.4 711C797.8 712.2 799.2 713.7 800.6 715.4C802 717.1 803.4 719.1 804.8 721.4C806.2 723.7 807.6 726.3 809 729C810.4 731.8 811.8 734.9 813.2 738.2C814.6 741.5 816 745 817.4 748.7C818.8 752.4 820.2 756.3 821.6 760.3C823 764.3 824.4 768.5 825.8 772.6C827.2 776.8 828.6 781.1 830 785.2C831.4 789.4 832.8 793.6 834.2 797.6C835.6 801.6 837 805.5 838.4 809.2C839.8 812.8 841.9 817.7 842.6 819.4" fill="none" stroke="#f4726f" stroke-width="2.8" stroke-linejoin="round"/>
<path d="M553.2 726.9C553.9 725.8 556 722.2 557.4 720.1C558.8 718 560.2 716 561.6 714.2C562.9 712.4 564.3 710.8 565.7 709.4C567.1 708 568.5 706.9 569.9 706C571.3 705.1 572.7 704.4 574.1 704C575.5 703.6 576.9 703.5 578.3 703.6C579.7 703.8 581.1 704.2 582.5 704.8C583.9 705.5 585.3 706.5 586.7 707.7C588.1 708.8 589.5 710.3 590.9 712C592.3 713.7 593.7 715.6 595.1 717.7C596.5 719.9 597.9 722.2 599.3 724.8C600.7 727.3 602.1 730.1 603.5 733C604.9 735.9 606.3 739 607.7 742.2C609.1 745.5 610.5 748.9 611.9 752.4C613.3 755.9 614.7 759.5 616.1 763.2C617.5 767 618.9 770.8 620.3 774.7C621.7 778.6 623.1 782.6 624.5 786.6C625.9 790.7 627.3 794.8 628.7 798.9C630.1 803.1 631.5 807.3 632.9 811.5C634.3 815.7 635.7 819.9 637 824.1C638.4 828.3 639.8 832.5 641.2 836.7C642.6 840.9 644 845.1 645.4 849.3C646.8 853.4 648.2 857.5 649.6 861.6C651 865.6 652.4 869.6 653.8 873.5C655.2 877.4 656.6 881.2 658 884.9C659.4 888.6 660.8 892.2 662.2 895.7C663.6 899.2 665 902.6 666.4 905.8C667.8 909 669.2 912 670.6 914.9C672 917.8 673.4 920.5 674.8 923.1C676.2 925.6 677.6 927.9 679 930.1C680.4 932.2 681.8 934.2 683.2 935.9C684.6 937.6 686 939.1 687.4 940.4C688.8 941.6 690.2 942.7 691.6 943.5C693 944.3 694.4 944.9 695.8 945.2C697.2 945.6 698.6 945.7 700 945.5C701.4 945.4 702.8 945 704.2 944.4C705.6 943.8 707 943 708.4 941.9C709.7 940.8 711.1 939.5 712.5 938C713.9 936.4 715.3 934.7 716.7 932.7C718.1 930.7 719.5 928.5 720.9 926.1C722.3 923.6 723.7 921 725.1 918.2C726.5 915.3 727.9 912.3 729.3 909.1C730.7 905.9 732.1 902.4 733.5 898.8C734.9 895.2 736.3 891.5 737.7 887.5C739.1 883.6 740.5 879.5 741.9 875.3C743.3 871 744.7 866.7 746.1 862.2C747.5 857.7 748.9 853.1 750.3 848.4C751.7 843.8 753.1 839 754.5 834.2C755.9 829.4 757.3 824.5 758.7 819.7C760.1 814.8 761.5 809.9 762.9 805.1C764.3 800.2 765.7 795.4 767.1 790.7C768.5 786 769.9 781.3 771.3 776.7C772.7 772.2 774.1 767.8 775.5 763.5C776.9 759.2 778.3 755.1 779.7 751.2C781.1 747.3 782.4 743.5 783.8 740C785.2 736.5 786.6 733.2 788 730.2C789.4 727.2 790.8 724.4 792.2 721.8C793.6 719.3 795 717 796.4 715C797.8 713 799.2 711.3 800.6 709.8C802 708.3 803.4 707.1 804.8 706.1C806.2 705.2 807.6 704.5 809 704C810.4 703.6 811.8 703.4 813.2 703.4C814.6 703.4 816 703.7 817.4 704.2C818.8 704.6 820.2 705.3 821.6 706.2C823 707.1 824.4 708.2 825.8 709.5C827.2 710.8 828.6 712.3 830 713.9C831.4 715.5 832.8 717.3 834.2 719.3C835.6 721.3 837 723.4 838.4 725.7C839.8 727.9 841.9 731.7 842.6 732.9" fill="none" stroke="#59cde2" stroke-width="3.6" stroke-linejoin="round"/>
</g>
<line x1="561.1" y1="678.2" x2="835.2" y2="678.2" stroke="#59cde2" stroke-width="2.8" stroke-dasharray="6.8 4.68" stroke-dashoffset="-0.9"/>
<line x1="561.1" y1="670.6" x2="835.2" y2="670.6" stroke="#f4726f" stroke-width="2.8" stroke-dasharray="6.8 4.68" stroke-dashoffset="-0.9"/>
<path d="M607.64 679.4H620.24M607.64 681.4H620.24M613.94 679.4V681.4" stroke="#59cde2" stroke-width="1.9" fill="none"/>
<path d="M609.54 680.4L613.94 676L618.34 680.4L613.94 684.8Z" fill="none" stroke="#59cde2" stroke-width="2.5" stroke-linejoin="round"/>
<path d="M625.77 678.6H638.37M625.77 680.6H638.37M632.07 678.6V680.6" stroke="#59cde2" stroke-width="1.9" fill="none"/>
<path d="M627.67 679.6L632.07 675.2L636.47 679.6L632.07 684Z" fill="none" stroke="#59cde2" stroke-width="2.5" stroke-linejoin="round"/>
<path d="M639.12 679.4H651.72M639.12 681.4H651.72M645.42 679.4V681.4" stroke="#59cde2" stroke-width="1.9" fill="none"/>
<path d="M641.02 680.4L645.42 676L649.82 680.4L645.42 684.8Z" fill="none" stroke="#59cde2" stroke-width="2.5" stroke-linejoin="round"/>
<path d="M651.78 679.4H664.38M651.78 681.4H664.38M658.08 679.4V681.4" stroke="#59cde2" stroke-width="1.9" fill="none"/>
<path d="M653.68 680.4L658.08 676L662.48 680.4L658.08 684.8Z" fill="none" stroke="#59cde2" stroke-width="2.5" stroke-linejoin="round"/>
<path d="M666.15 679.4H678.75M666.15 681.4H678.75M672.45 679.4V681.4" stroke="#59cde2" stroke-width="1.9" fill="none"/>
<path d="M668.05 680.4L672.45 676L676.85 680.4L672.45 684.8Z" fill="none" stroke="#59cde2" stroke-width="2.5" stroke-linejoin="round"/>
<path d="M689.76 678.6H702.36M689.76 680.6H702.36M696.06 678.6V680.6" stroke="#59cde2" stroke-width="1.9" fill="none"/>
<path d="M691.66 679.6L696.06 675.2L700.46 679.6L696.06 684Z" fill="none" stroke="#59cde2" stroke-width="2.5" stroke-linejoin="round"/>
<path d="M703.11 676.6H715.71M703.11 678.6H715.71M709.41 676.6V678.6" stroke="#59cde2" stroke-width="1.9" fill="none"/>
<path d="M705.01 677.6L709.41 673.2L713.81 677.6L709.41 682Z" fill="none" stroke="#59cde2" stroke-width="2.5" stroke-linejoin="round"/>
<path d="M727.06 676.6H739.66M727.06 678.6H739.66M733.36 676.6V678.6" stroke="#59cde2" stroke-width="1.9" fill="none"/>
<path d="M728.96 677.6L733.36 673.2L737.76 677.6L733.36 682Z" fill="none" stroke="#59cde2" stroke-width="2.5" stroke-linejoin="round"/>
<path d="M741.09 676.6H753.69M741.09 678.6H753.69M747.39 676.6V678.6" stroke="#59cde2" stroke-width="1.9" fill="none"/>
<path d="M742.99 677.6L747.39 673.2L751.79 677.6L747.39 682Z" fill="none" stroke="#59cde2" stroke-width="2.5" stroke-linejoin="round"/>
<path d="M754.1 677H766.7M754.1 679H766.7M760.4 677V679" stroke="#59cde2" stroke-width="1.9" fill="none"/>
<path d="M756 678L760.4 673.6L764.8 678L760.4 682.4Z" fill="none" stroke="#59cde2" stroke-width="2.5" stroke-linejoin="round"/>
<path d="M767.1 676.6H779.7M767.1 678.6H779.7M773.4 676.6V678.6" stroke="#59cde2" stroke-width="1.9" fill="none"/>
<path d="M769 677.6L773.4 673.2L777.8 677.6L773.4 682Z" fill="none" stroke="#59cde2" stroke-width="2.5" stroke-linejoin="round"/>
<path d="M785.24 676.6H797.84M785.24 678.6H797.84M791.54 676.6V678.6" stroke="#59cde2" stroke-width="1.9" fill="none"/>
<path d="M787.14 677.6L791.54 673.2L795.94 677.6L791.54 682Z" fill="none" stroke="#59cde2" stroke-width="2.5" stroke-linejoin="round"/>
<path d="M607.64 673.1H620.24M607.64 675.1H620.24M613.94 673.1V675.1" stroke="#f4726f" stroke-width="1.9" fill="none"/>
<circle cx="613.94" cy="674.1" r="3.65" fill="#f4726f" stroke="#f4726f" stroke-width="2.6"/>
<path d="M625.77 672.6H638.37M625.77 674.6H638.37M632.07 672.6V674.6" stroke="#f4726f" stroke-width="1.9" fill="none"/>
<circle cx="632.07" cy="673.6" r="3.65" fill="#f4726f" stroke="#f4726f" stroke-width="2.6"/>
<path d="M639.12 671.5H651.72M639.12 673.5H651.72M645.42 671.5V673.5" stroke="#f4726f" stroke-width="1.9" fill="none"/>
<circle cx="645.42" cy="672.5" r="3.65" fill="#f4726f" stroke="#f4726f" stroke-width="2.6"/>
<path d="M651.78 668.3H664.38M651.78 670.3H664.38M658.08 668.3V670.3" stroke="#f4726f" stroke-width="1.9" fill="none"/>
<circle cx="658.08" cy="669.3" r="3.65" fill="#f4726f" stroke="#f4726f" stroke-width="2.6"/>
<path d="M666.15 669.9H678.75M666.15 671.9H678.75M672.45 669.9V671.9" stroke="#f4726f" stroke-width="1.9" fill="none"/>
<circle cx="672.45" cy="670.9" r="3.65" fill="#f4726f" stroke="#f4726f" stroke-width="2.6"/>
<path d="M689.76 669.9H702.36M689.76 671.9H702.36M696.06 669.9V671.9" stroke="#f4726f" stroke-width="1.9" fill="none"/>
<circle cx="696.06" cy="670.9" r="3.65" fill="#f4726f" stroke="#f4726f" stroke-width="2.6"/>
<path d="M703.11 667.1H715.71M703.11 669.1H715.71M709.41 667.1V669.1" stroke="#f4726f" stroke-width="1.9" fill="none"/>
<circle cx="709.41" cy="668.1" r="3.65" fill="#f4726f" stroke="#f4726f" stroke-width="2.6"/>
<path d="M727.06 667.1H739.66M727.06 669.1H739.66M733.36 667.1V669.1" stroke="#f4726f" stroke-width="1.9" fill="none"/>
<circle cx="733.36" cy="668.1" r="3.65" fill="#f4726f" stroke="#f4726f" stroke-width="2.6"/>
<path d="M741.09 667.1H753.69M741.09 669.1H753.69M747.39 667.1V669.1" stroke="#f4726f" stroke-width="1.9" fill="none"/>
<circle cx="747.39" cy="668.1" r="3.65" fill="#f4726f" stroke="#f4726f" stroke-width="2.6"/>
<path d="M754.1 668.3H766.7M754.1 670.3H766.7M760.4 668.3V670.3" stroke="#f4726f" stroke-width="1.9" fill="none"/>
<circle cx="760.4" cy="669.3" r="3.65" fill="#f4726f" stroke="#f4726f" stroke-width="2.6"/>
<path d="M767.1 666.8H779.7M767.1 668.8H779.7M773.4 666.8V668.8" stroke="#f4726f" stroke-width="1.9" fill="none"/>
<circle cx="773.4" cy="667.8" r="3.65" fill="#f4726f" stroke="#f4726f" stroke-width="2.6"/>
<path d="M785.24 669.9H797.84M785.24 671.9H797.84M791.54 669.9V671.9" stroke="#f4726f" stroke-width="1.9" fill="none"/>
<circle cx="791.54" cy="670.9" r="3.65" fill="#f4726f" stroke="#f4726f" stroke-width="2.6"/>
<path d="M596.15 769.93H608.45M596.15 771.73H608.45M602.3 769.93V771.73" stroke="#59cde2" stroke-width="1.8" fill="none"/>
<path d="M597.9 770.83L602.3 766.43L606.7 770.83L602.3 775.23Z" fill="#59cde2" stroke="#59cde2" stroke-width="2.5" stroke-linejoin="round"/>
<path d="M621.82 808.62H634.12M621.82 810.42H634.12M627.97 808.62V810.42" stroke="#59cde2" stroke-width="1.8" fill="none"/>
<path d="M623.57 809.52L627.97 805.12L632.37 809.52L627.97 813.92Z" fill="#59cde2" stroke="#59cde2" stroke-width="2.5" stroke-linejoin="round"/>
<path d="M637.22 840.52H649.52M637.22 842.32H649.52M643.37 840.52V842.32" stroke="#59cde2" stroke-width="1.8" fill="none"/>
<path d="M638.97 841.42L643.37 837.02L647.77 841.42L643.37 845.82Z" fill="#59cde2" stroke="#59cde2" stroke-width="2.5" stroke-linejoin="round"/>
<path d="M650.56 880.91H662.86M650.56 882.71H662.86M656.71 880.91V882.71" stroke="#59cde2" stroke-width="1.8" fill="none"/>
<path d="M652.31 881.81L656.71 877.41L661.11 881.81L656.71 886.21Z" fill="#59cde2" stroke="#59cde2" stroke-width="2.5" stroke-linejoin="round"/>
<path d="M665.28 915.87H677.58M665.28 917.67H677.58M671.43 915.87V917.67" stroke="#59cde2" stroke-width="1.8" fill="none"/>
<path d="M667.03 916.77L671.43 912.37L675.83 916.77L671.43 921.17Z" fill="#59cde2" stroke="#59cde2" stroke-width="2.5" stroke-linejoin="round"/>
<path d="M689.91 938.61H702.21M689.91 940.41H702.21M696.06 938.61V940.41" stroke="#59cde2" stroke-width="1.8" fill="none"/>
<path d="M691.66 939.51L696.06 935.11L700.46 939.51L696.06 943.91Z" fill="#59cde2" stroke="#59cde2" stroke-width="2.5" stroke-linejoin="round"/>
<path d="M703.26 938.61H715.56M703.26 940.41H715.56M709.41 938.61V940.41" stroke="#59cde2" stroke-width="1.8" fill="none"/>
<path d="M705.01 939.51L709.41 935.11L713.81 939.51L709.41 943.91Z" fill="#59cde2" stroke="#59cde2" stroke-width="2.5" stroke-linejoin="round"/>
<path d="M727.9 895.51H740.2M727.9 897.31H740.2M734.05 895.51V897.31" stroke="#59cde2" stroke-width="1.8" fill="none"/>
<path d="M729.65 896.41L734.05 892.01L738.45 896.41L734.05 900.81Z" fill="#59cde2" stroke="#59cde2" stroke-width="2.5" stroke-linejoin="round"/>
<path d="M743.3 850.37H755.6M743.3 852.16H755.6M749.45 850.37V852.16" stroke="#59cde2" stroke-width="1.8" fill="none"/>
<path d="M745.05 851.26L749.45 846.87L753.85 851.26L749.45 855.66Z" fill="#59cde2" stroke="#59cde2" stroke-width="2.5" stroke-linejoin="round"/>
<path d="M756.99 803.19H769.29M756.99 804.99H769.29M763.14 803.19V804.99" stroke="#59cde2" stroke-width="1.8" fill="none"/>
<path d="M758.74 804.09L763.14 799.69L767.54 804.09L763.14 808.49Z" fill="#59cde2" stroke="#59cde2" stroke-width="2.5" stroke-linejoin="round"/>
<path d="M771.36 754.65H783.66M771.36 756.45H783.66M777.51 754.65V756.45" stroke="#59cde2" stroke-width="1.8" fill="none"/>
<path d="M773.11 755.55L777.51 751.15L781.91 755.55L777.51 759.95Z" fill="#59cde2" stroke="#59cde2" stroke-width="2.5" stroke-linejoin="round"/>
<path d="M797.37 719.36H809.67M797.37 721.16H809.67M803.52 719.36V721.16" stroke="#59cde2" stroke-width="1.8" fill="none"/>
<path d="M799.12 720.26L803.52 715.86L807.92 720.26L803.52 724.66Z" fill="#59cde2" stroke="#59cde2" stroke-width="2.5" stroke-linejoin="round"/>
<path d="M607.79 819.7H620.09" stroke="#f4726f" stroke-width="1.8" fill="none"/>
<circle cx="613.94" cy="819.7" r="3.65" fill="none" stroke="#f4726f" stroke-width="2.6"/>
<path d="M625.92 879.77H638.22" stroke="#f4726f" stroke-width="1.8" fill="none"/>
<circle cx="632.07" cy="879.77" r="3.65" fill="none" stroke="#f4726f" stroke-width="2.6"/>
<path d="M639.27 912.15H651.57" stroke="#f4726f" stroke-width="1.8" fill="none"/>
<circle cx="645.42" cy="912.15" r="3.65" fill="none" stroke="#f4726f" stroke-width="2.6"/>
<path d="M651.93 937.47H664.23" stroke="#f4726f" stroke-width="1.8" fill="none"/>
<circle cx="658.08" cy="937.47" r="3.65" fill="none" stroke="#f4726f" stroke-width="2.6"/>
<path d="M666.3 935.91H678.6" stroke="#f4726f" stroke-width="1.8" fill="none"/>
<circle cx="672.45" cy="935.91" r="3.65" fill="none" stroke="#f4726f" stroke-width="2.6"/>
<path d="M689.91 907.27H702.21" stroke="#f4726f" stroke-width="1.8" fill="none"/>
<circle cx="696.06" cy="907.27" r="3.65" fill="none" stroke="#f4726f" stroke-width="2.6"/>
<path d="M703.26 906.59H715.56" stroke="#f4726f" stroke-width="1.8" fill="none"/>
<circle cx="709.41" cy="906.59" r="3.65" fill="none" stroke="#f4726f" stroke-width="2.6"/>
<path d="M727.21 831.24H739.51" stroke="#f4726f" stroke-width="1.8" fill="none"/>
<circle cx="733.36" cy="831.24" r="3.65" fill="none" stroke="#f4726f" stroke-width="2.6"/>
<path d="M741.24 752.5H753.54" stroke="#f4726f" stroke-width="1.8" fill="none"/>
<circle cx="747.39" cy="752.5" r="3.65" fill="none" stroke="#f4726f" stroke-width="2.6"/>
<path d="M754.25 726.71H766.55" stroke="#f4726f" stroke-width="1.8" fill="none"/>
<circle cx="760.4" cy="726.71" r="3.65" fill="none" stroke="#f4726f" stroke-width="2.6"/>
<path d="M767.25 714.49H779.55" stroke="#f4726f" stroke-width="1.8" fill="none"/>
<circle cx="773.4" cy="714.49" r="3.65" fill="none" stroke="#f4726f" stroke-width="2.6"/>
<path d="M785.39 712.45H797.69" stroke="#f4726f" stroke-width="1.8" fill="none"/>
<circle cx="791.54" cy="712.45" r="3.65" fill="none" stroke="#f4726f" stroke-width="2.6"/>
<ellipse cx="775.2" cy="675.3" rx="9.9" ry="23.5" fill="none" stroke="#a8a8a8" stroke-width="2.3" stroke-dasharray="5.5 2.4"/>
<path d="M771.2 681.8C777.2 690.3 789.2 695 814.4 694.5" fill="none" stroke="#a8a8a8" stroke-width="2.3" stroke-dasharray="5.5 2.4"/>
<path d="M820.4 694.5L807.79 688.84L811.97 694.79L808.22 701.03Z" fill="#a8a8a8" stroke="none"/>
<ellipse cx="644.5" cy="881.1" rx="23.2" ry="10.1" fill="none" stroke="#a8a8a8" stroke-width="2.3" stroke-dasharray="5.5 2.4"/>
<path d="M642 884.6C638.5 892.1 624.5 897.5 610.6 898" fill="none" stroke="#a8a8a8" stroke-width="2.3" stroke-dasharray="5.5 2.4"/>
<path d="M604.6 898L616.57 901.47L613.7 897.36L615.97 892.89Z" fill="#a8a8a8" stroke="none"/>
<rect x="561.1" y="605.2" width="274.1" height="339.4" fill="none" stroke="#000" stroke-width="2.2"/>
<text x="549" y="952.5" font-size="20.8" text-anchor="end">0</text>
<text x="549" y="884.62" font-size="20.8" text-anchor="end">10</text>
<text x="549" y="816.74" font-size="20.8" text-anchor="end">20</text>
<text x="549" y="748.86" font-size="20.8" text-anchor="end">30</text>
<text x="549" y="680.98" font-size="20.8" text-anchor="end">40</text>
<text x="549" y="613.1" font-size="20.8" text-anchor="end">50</text>
<text x="847.5" y="951.2" font-size="20.8">0</text>
<text x="847.5" y="896.16" font-size="20.8">30</text>
<text x="847.5" y="841.12" font-size="20.8">60</text>
<text x="847.5" y="786.09" font-size="20.8">90</text>
<text x="847.5" y="728.05" font-size="20.8">120</text>
<text x="847.5" y="673.51" font-size="20.8">150</text>
<text x="847.5" y="620.47" font-size="20.8">180</text>
<text x="595.8" y="975.5" font-size="20.8" text-anchor="middle">0</text>
<text x="664.24" y="975.5" font-size="20.8" text-anchor="middle">2</text>
<text x="732.68" y="975.5" font-size="20.8" text-anchor="middle">4</text>
<text x="801.12" y="975.5" font-size="20.8" text-anchor="middle">6</text>
<text x="698" y="1011" font-size="20.8" text-anchor="middle">Phase [rad.]</text>
<text transform="translate(500 775) rotate(-90)" font-size="20.8" text-anchor="middle">Coincidence counts (15 s)</text>
<text transform="translate(908 775) rotate(90)" font-size="20.8" text-anchor="middle">Single side count rates (kHz)</text>
<text x="562.5" y="589" font-size="20.8">×10<tspan font-size="12.5" dy="-13">3</tspan></text>
<path d="M580.6 620.2L585 615.8L589.4 620.2L585 624.6Z" fill="none" stroke="#59cde2" stroke-width="2.6" stroke-linejoin="round"/>
<circle cx="585" cy="644.2" r="3.65" fill="none" stroke="#f4726f" stroke-width="2.7"/>
<text x="600" y="625" font-size="21.3" letter-spacing="0.35"><tspan font-family='"Liberation Serif", serif' font-style="italic" font-size="23">β</tspan>=<tspan font-family='"Liberation Serif", serif' font-style="italic" font-size="23">π</tspan>/4</text>
<text x="600" y="649.6" font-size="21.3" letter-spacing="0.35"><tspan font-family='"Liberation Serif", serif' font-style="italic" font-size="23">β</tspan>=<tspan font-family='"Liberation Serif", serif' font-style="italic" font-size="23">π</tspan>/2</text>
</g>
<g id="panel-f">
<text x="981" y="578" font-size="41" font-weight="bold">f</text>
<path d="M1049.8 854.09h7M1049.8 763.59h7M1049.8 673.08h7" fill="none" stroke="#000" stroke-width="2.0"/>
<path d="M1049.8 926.5h3.3M1049.8 908.4h3.3M1049.8 890.3h3.3M1049.8 872.19h3.3M1049.8 835.99h3.3M1049.8 817.89h3.3M1049.8 799.79h3.3M1049.8 781.69h3.3M1049.8 745.49h3.3M1049.8 727.38h3.3M1049.8 709.28h3.3M1049.8 691.18h3.3M1049.8 654.98h3.3M1049.8 636.88h3.3M1049.8 618.78h3.3" fill="none" stroke="#000" stroke-width="2.0"/>
<path d="M1323.6 876.72h-7M1323.6 808.84h-7M1323.6 740.96h-7M1323.6 673.08h-7" fill="none" stroke="#000" stroke-width="2.0"/>
<path d="M1323.6 931.02h-3.3M1323.6 917.45h-3.3M1323.6 903.87h-3.3M1323.6 890.3h-3.3M1323.6 863.14h-3.3M1323.6 849.57h-3.3M1323.6 835.99h-3.3M1323.6 822.42h-3.3M1323.6 795.26h-3.3M1323.6 781.69h-3.3M1323.6 768.11h-3.3M1323.6 754.54h-3.3M1323.6 727.38h-3.3M1323.6 713.81h-3.3M1323.6 700.23h-3.3M1323.6 686.66h-3.3M1323.6 659.5h-3.3M1323.6 645.93h-3.3M1323.6 632.35h-3.3M1323.6 618.78h-3.3" fill="none" stroke="#000" stroke-width="2.0"/>
<path d="M1084.3 944.6v-7M1152.74 944.6v-7M1221.18 944.6v-7M1289.62 944.6v-7" fill="none" stroke="#000" stroke-width="2.0"/>
<path d="M1056.92 944.6v-3.3M1070.61 944.6v-3.3M1097.99 944.6v-3.3M1111.68 944.6v-3.3M1125.36 944.6v-3.3M1139.05 944.6v-3.3M1166.43 944.6v-3.3M1180.12 944.6v-3.3M1193.8 944.6v-3.3M1207.49 944.6v-3.3M1234.87 944.6v-3.3M1248.56 944.6v-3.3M1262.24 944.6v-3.3M1275.93 944.6v-3.3M1303.31 944.6v-3.3M1317 944.6v-3.3" fill="none" stroke="#000" stroke-width="2.0"/>
<clipPath id="clipf"><rect x="1049.8" y="605.2" width="273.8" height="339.4"/></clipPath>
<g clip-path="url(#clipf)">
<path d="M1041.3 739.9C1042 740.7 1044.1 742.8 1045.5 744.4C1046.9 746 1048.3 747.7 1049.7 749.6C1051.1 751.4 1052.5 753.3 1053.9 755.4C1055.3 757.5 1056.7 759.7 1058.1 762.1C1059.5 764.4 1060.9 766.9 1062.3 769.5C1063.7 772.1 1065.1 774.9 1066.5 777.7C1067.9 780.5 1069.3 783.5 1070.7 786.5C1072.1 789.6 1073.5 792.7 1074.9 795.9C1076.3 799.1 1077.7 802.4 1079.1 805.7C1080.5 809.1 1081.9 812.5 1083.3 815.9C1084.7 819.4 1086.1 822.8 1087.5 826.3C1088.9 829.8 1090.3 833.3 1091.7 836.8C1093.1 840.4 1094.5 843.9 1095.9 847.4C1097.2 850.9 1098.6 854.4 1100 857.8C1101.4 861.2 1102.8 864.7 1104.2 868C1105.6 871.4 1107 874.7 1108.4 877.9C1109.8 881.2 1111.2 884.4 1112.6 887.4C1114 890.5 1115.4 893.5 1116.8 896.3C1118.2 899.2 1119.6 901.9 1121 904.5C1122.4 907.1 1123.8 909.6 1125.2 911.9C1126.6 914.1 1128 916.3 1129.4 918.2C1130.8 920.1 1132.2 921.8 1133.6 923.3C1135 924.9 1136.4 926.2 1137.8 927.2C1139.2 928.3 1140.6 929.2 1142 929.8C1143.4 930.4 1144.8 930.8 1146.2 930.9C1147.6 931.1 1149 931 1150.4 930.6C1151.8 930.3 1153.2 929.7 1154.6 928.9C1156 928.1 1157.4 927.1 1158.8 925.9C1160.2 924.6 1161.6 923.2 1163 921.5C1164.4 919.9 1165.8 918 1167.2 916C1168.6 914 1169.9 911.8 1171.3 909.4C1172.7 907.1 1174.1 904.6 1175.5 901.9C1176.9 899.3 1178.3 896.4 1179.7 893.5C1181.1 890.6 1182.5 887.6 1183.9 884.4C1185.3 881.2 1186.7 878 1188.1 874.6C1189.5 871.3 1190.9 867.8 1192.3 864.3C1193.7 860.8 1195.1 857.2 1196.5 853.5C1197.9 849.9 1199.3 846.2 1200.7 842.4C1202.1 838.7 1203.5 834.9 1204.9 831.1C1206.3 827.4 1207.7 823.6 1209.1 819.8C1210.5 816.1 1211.9 812.3 1213.3 808.6C1214.7 804.9 1216.1 801.3 1217.5 797.7C1218.9 794.2 1220.3 790.7 1221.7 787.4C1223.1 784 1224.5 780.8 1225.9 777.7C1227.3 774.6 1228.7 771.7 1230.1 768.9C1231.5 766.2 1232.9 763.6 1234.3 761.2C1235.7 758.8 1237.1 756.6 1238.5 754.6C1239.9 752.6 1241.3 750.8 1242.7 749.3C1244 747.7 1245.4 746.3 1246.8 745.2C1248.2 744.1 1249.6 743.2 1251 742.5C1252.4 741.9 1253.8 741.4 1255.2 741.2C1256.6 740.9 1258 740.9 1259.4 741.1C1260.8 741.3 1262.2 741.7 1263.6 742.3C1265 742.9 1266.4 743.7 1267.8 744.7C1269.2 745.7 1270.6 746.9 1272 748.3C1273.4 749.7 1274.8 751.2 1276.2 753C1277.6 754.7 1279 756.7 1280.4 758.8C1281.8 760.9 1283.2 763.2 1284.6 765.6C1286 768.1 1287.4 770.7 1288.8 773.5C1290.2 776.2 1291.6 779.1 1293 782.2C1294.4 785.2 1295.8 788.4 1297.2 791.6C1298.6 794.9 1300 798.2 1301.4 801.7C1302.8 805.1 1304.2 808.6 1305.6 812.1C1307 815.6 1308.4 819.1 1309.8 822.6C1311.2 826.1 1312.6 829.7 1314 833.1C1315.4 836.5 1316.7 840 1318.1 843.2C1319.5 846.5 1320.9 849.7 1322.3 852.8C1323.7 855.9 1325.1 858.8 1326.5 861.6C1327.9 864.4 1330 868.2 1330.7 869.5" fill="none" stroke="#f4726f" stroke-width="2.8" stroke-linejoin="round"/>
<path d="M1041.3 745.8C1042 745.1 1044.1 743.1 1045.5 741.7C1046.9 740.4 1048.3 739 1049.7 737.7C1051.1 736.5 1052.5 735.3 1053.9 734.4C1055.3 733.5 1056.7 732.7 1058.1 732.3C1059.5 731.8 1060.9 731.5 1062.3 731.6C1063.7 731.6 1065.1 731.9 1066.5 732.6C1067.9 733.2 1069.3 734.1 1070.7 735.2C1072.1 736.4 1073.5 737.9 1074.9 739.5C1076.3 741.2 1077.7 743.1 1079.1 745.2C1080.5 747.3 1081.9 749.7 1083.3 752.1C1084.7 754.5 1086.1 757.2 1087.5 759.8C1088.9 762.5 1090.3 765.4 1091.7 768.3C1093.1 771.1 1094.5 774.1 1095.9 777.2C1097.2 780.2 1098.6 783.3 1100 786.4C1101.4 789.6 1102.8 792.8 1104.2 796C1105.6 799.3 1107 802.6 1108.4 805.9C1109.8 809.3 1111.2 812.7 1112.6 816.1C1114 819.6 1115.4 823.1 1116.8 826.7C1118.2 830.3 1119.6 834 1121 837.7C1122.4 841.3 1123.8 845.1 1125.2 848.9C1126.6 852.6 1128 856.4 1129.4 860.2C1130.8 864 1132.2 867.8 1133.6 871.5C1135 875.2 1136.4 878.9 1137.8 882.5C1139.2 886.1 1140.6 889.6 1142 893C1143.4 896.4 1144.8 899.6 1146.2 902.7C1147.6 905.7 1149 908.6 1150.4 911.3C1151.8 913.9 1153.2 916.4 1154.6 918.6C1156 920.8 1157.4 922.8 1158.8 924.6C1160.2 926.3 1161.6 927.8 1163 929.1C1164.4 930.3 1165.8 931.3 1167.2 932C1168.6 932.8 1169.9 933.3 1171.3 933.6C1172.7 933.9 1174.1 933.9 1175.5 933.8C1176.9 933.6 1178.3 933.2 1179.7 932.6C1181.1 932.1 1182.5 931.3 1183.9 930.3C1185.3 929.3 1186.7 928.1 1188.1 926.8C1189.5 925.4 1190.9 923.9 1192.3 922.1C1193.7 920.4 1195.1 918.5 1196.5 916.3C1197.9 914.2 1199.3 911.9 1200.7 909.4C1202.1 906.9 1203.5 904.2 1204.9 901.3C1206.3 898.4 1207.7 895.3 1209.1 892.1C1210.5 888.8 1211.9 885.4 1213.3 881.8C1214.7 878.2 1216.1 874.4 1217.5 870.5C1218.9 866.6 1220.3 862.6 1221.7 858.5C1223.1 854.4 1224.5 850.1 1225.9 845.9C1227.3 841.6 1228.7 837.3 1230.1 833C1231.5 828.7 1232.9 824.3 1234.3 820.1C1235.7 815.8 1237.1 811.6 1238.5 807.5C1239.9 803.4 1241.3 799.3 1242.7 795.5C1244 791.6 1245.4 787.8 1246.8 784.3C1248.2 780.7 1249.6 777.3 1251 774.1C1252.4 770.8 1253.8 767.8 1255.2 764.9C1256.6 762.1 1258 759.4 1259.4 756.9C1260.8 754.4 1262.2 752.2 1263.6 750.1C1265 748 1266.4 746.1 1267.8 744.4C1269.2 742.7 1270.6 741.1 1272 739.8C1273.4 738.5 1274.8 737.3 1276.2 736.4C1277.6 735.4 1279 734.6 1280.4 734C1281.8 733.5 1283.2 733.1 1284.6 732.9C1286 732.8 1287.4 732.8 1288.8 733.1C1290.2 733.3 1291.6 733.8 1293 734.6C1294.4 735.3 1295.8 736.2 1297.2 737.4C1298.6 738.6 1300 740 1301.4 741.7C1302.8 743.3 1304.2 745.2 1305.6 747.3C1307 749.4 1308.4 751.7 1309.8 754.1C1311.2 756.6 1312.6 759.2 1314 761.9C1315.4 764.6 1316.7 767.5 1318.1 770.3C1319.5 773.2 1320.9 776.2 1322.3 779C1323.7 781.9 1325.1 784.8 1326.5 787.6C1327.9 790.4 1330 794.4 1330.7 795.7" fill="none" stroke="#59cde2" stroke-width="3.6" stroke-linejoin="round"/>
</g>
<line x1="1049.8" y1="688.5" x2="1323.6" y2="688.5" stroke="#59cde2" stroke-width="2.8" stroke-dasharray="6.5 4.88" stroke-dashoffset="-0.9"/>
<line x1="1049.8" y1="692.9" x2="1323.6" y2="692.9" stroke="#f4726f" stroke-width="2.8" stroke-dasharray="6.5 4.88" stroke-dashoffset="-0.9"/>
<path d="M1100.24 684.5H1112.84M1100.24 686.1H1112.84M1106.54 684.5V686.1" stroke="#59cde2" stroke-width="1.9" fill="none"/>
<path d="M1102.14 685.3L1106.54 680.9L1110.94 685.3L1106.54 689.7Z" fill="none" stroke="#59cde2" stroke-width="2.5" stroke-linejoin="round"/>
<path d="M1115.98 684.5H1128.58M1115.98 686.1H1128.58M1122.28 684.5V686.1" stroke="#59cde2" stroke-width="1.9" fill="none"/>
<path d="M1117.88 685.3L1122.28 680.9L1126.68 685.3L1122.28 689.7Z" fill="none" stroke="#59cde2" stroke-width="2.5" stroke-linejoin="round"/>
<path d="M1128.65 684.5H1141.25M1128.65 686.1H1141.25M1134.95 684.5V686.1" stroke="#59cde2" stroke-width="1.9" fill="none"/>
<path d="M1130.55 685.3L1134.95 680.9L1139.35 685.3L1134.95 689.7Z" fill="none" stroke="#59cde2" stroke-width="2.5" stroke-linejoin="round"/>
<path d="M1141.31 684.5H1153.91M1141.31 686.1H1153.91M1147.61 684.5V686.1" stroke="#59cde2" stroke-width="1.9" fill="none"/>
<path d="M1143.21 685.3L1147.61 680.9L1152.01 685.3L1147.61 689.7Z" fill="none" stroke="#59cde2" stroke-width="2.5" stroke-linejoin="round"/>
<path d="M1155 684.5H1167.6M1155 686.1H1167.6M1161.3 684.5V686.1" stroke="#59cde2" stroke-width="1.9" fill="none"/>
<path d="M1156.89 685.3L1161.3 680.9L1165.7 685.3L1161.3 689.7Z" fill="none" stroke="#59cde2" stroke-width="2.5" stroke-linejoin="round"/>
<path d="M1178.61 684.5H1191.21M1178.61 686.1H1191.21M1184.91 684.5V686.1" stroke="#59cde2" stroke-width="1.9" fill="none"/>
<path d="M1180.51 685.3L1184.91 680.9L1189.31 685.3L1184.91 689.7Z" fill="none" stroke="#59cde2" stroke-width="2.5" stroke-linejoin="round"/>
<path d="M1191.61 689.9H1204.21M1191.61 691.5H1204.21M1197.91 689.9V691.5" stroke="#59cde2" stroke-width="1.9" fill="none"/>
<path d="M1193.51 690.7L1197.91 686.3L1202.31 690.7L1197.91 695.1Z" fill="none" stroke="#59cde2" stroke-width="2.5" stroke-linejoin="round"/>
<path d="M1214.88 684.5H1227.48M1214.88 686.1H1227.48M1221.18 684.5V686.1" stroke="#59cde2" stroke-width="1.9" fill="none"/>
<path d="M1216.78 685.3L1221.18 680.9L1225.58 685.3L1221.18 689.7Z" fill="none" stroke="#59cde2" stroke-width="2.5" stroke-linejoin="round"/>
<path d="M1228.91 688.3H1241.51M1228.91 689.9H1241.51M1235.21 688.3V689.9" stroke="#59cde2" stroke-width="1.9" fill="none"/>
<path d="M1230.81 689.1L1235.21 684.7L1239.61 689.1L1235.21 693.5Z" fill="none" stroke="#59cde2" stroke-width="2.5" stroke-linejoin="round"/>
<path d="M1241.57 684.2H1254.17M1241.57 685.8H1254.17M1247.87 684.2V685.8" stroke="#59cde2" stroke-width="1.9" fill="none"/>
<path d="M1243.47 685L1247.87 680.6L1252.27 685L1247.87 689.4Z" fill="none" stroke="#59cde2" stroke-width="2.5" stroke-linejoin="round"/>
<path d="M1254.23 688.3H1266.83M1254.23 689.9H1266.83M1260.53 688.3V689.9" stroke="#59cde2" stroke-width="1.9" fill="none"/>
<path d="M1256.13 689.1L1260.53 684.7L1264.93 689.1L1260.53 693.5Z" fill="none" stroke="#59cde2" stroke-width="2.5" stroke-linejoin="round"/>
<path d="M1269.97 688.3H1282.57M1269.97 689.9H1282.57M1276.27 688.3V689.9" stroke="#59cde2" stroke-width="1.9" fill="none"/>
<path d="M1271.87 689.1L1276.27 684.7L1280.67 689.1L1276.27 693.5Z" fill="none" stroke="#59cde2" stroke-width="2.5" stroke-linejoin="round"/>
<path d="M1100.24 690.8H1112.84M1100.24 692.4H1112.84M1106.54 690.8V692.4" stroke="#f4726f" stroke-width="1.9" fill="none"/>
<circle cx="1106.54" cy="691.6" r="3.65" fill="#f4726f" stroke="#f4726f" stroke-width="2.6"/>
<path d="M1115.98 690.8H1128.58M1115.98 692.4H1128.58M1122.28 690.8V692.4" stroke="#f4726f" stroke-width="1.9" fill="none"/>
<circle cx="1122.28" cy="691.6" r="3.65" fill="#f4726f" stroke="#f4726f" stroke-width="2.6"/>
<path d="M1128.65 690.8H1141.25M1128.65 692.4H1141.25M1134.95 690.8V692.4" stroke="#f4726f" stroke-width="1.9" fill="none"/>
<circle cx="1134.95" cy="691.6" r="3.65" fill="#f4726f" stroke="#f4726f" stroke-width="2.6"/>
<path d="M1141.31 694.9H1153.91M1141.31 696.5H1153.91M1147.61 694.9V696.5" stroke="#f4726f" stroke-width="1.9" fill="none"/>
<circle cx="1147.61" cy="695.7" r="3.65" fill="#f4726f" stroke="#f4726f" stroke-width="2.6"/>
<path d="M1155 694.9H1167.6M1155 696.5H1167.6M1161.3 694.9V696.5" stroke="#f4726f" stroke-width="1.9" fill="none"/>
<circle cx="1161.3" cy="695.7" r="3.65" fill="#f4726f" stroke="#f4726f" stroke-width="2.6"/>
<path d="M1178.61 690.8H1191.21M1178.61 692.4H1191.21M1184.91 690.8V692.4" stroke="#f4726f" stroke-width="1.9" fill="none"/>
<circle cx="1184.91" cy="691.6" r="3.65" fill="#f4726f" stroke="#f4726f" stroke-width="2.6"/>
<path d="M1191.61 680.9H1204.21M1191.61 682.5H1204.21M1197.91 680.9V682.5" stroke="#f4726f" stroke-width="1.9" fill="none"/>
<circle cx="1197.91" cy="681.7" r="3.65" fill="#f4726f" stroke="#f4726f" stroke-width="2.6"/>
<path d="M1214.88 694.9H1227.48M1214.88 696.5H1227.48M1221.18 694.9V696.5" stroke="#f4726f" stroke-width="1.9" fill="none"/>
<circle cx="1221.18" cy="695.7" r="3.65" fill="#f4726f" stroke="#f4726f" stroke-width="2.6"/>
<path d="M1228.91 694.9H1241.51M1228.91 696.5H1241.51M1235.21 694.9V696.5" stroke="#f4726f" stroke-width="1.9" fill="none"/>
<circle cx="1235.21" cy="695.7" r="3.65" fill="#f4726f" stroke="#f4726f" stroke-width="2.6"/>
<path d="M1241.57 694.9H1254.17M1241.57 696.5H1254.17M1247.87 694.9V696.5" stroke="#f4726f" stroke-width="1.9" fill="none"/>
<circle cx="1247.87" cy="695.7" r="3.65" fill="#f4726f" stroke="#f4726f" stroke-width="2.6"/>
<path d="M1254.23 694.9H1266.83M1254.23 696.5H1266.83M1260.53 694.9V696.5" stroke="#f4726f" stroke-width="1.9" fill="none"/>
<circle cx="1260.53" cy="695.7" r="3.65" fill="#f4726f" stroke="#f4726f" stroke-width="2.6"/>
<path d="M1269.97 694.9H1282.57M1269.97 696.5H1282.57M1276.27 694.9V696.5" stroke="#f4726f" stroke-width="1.9" fill="none"/>
<circle cx="1276.27" cy="695.7" r="3.65" fill="#f4726f" stroke="#f4726f" stroke-width="2.6"/>
<path d="M1077.12 746.2H1089.42M1077.12 751.1H1089.42M1083.27 746.2V751.1" stroke="#59cde2" stroke-width="1.8" fill="none"/>
<path d="M1078.87 748.65L1083.27 744.25L1087.67 748.65L1083.27 753.05Z" fill="none" stroke="#59cde2" stroke-width="2.5" stroke-linejoin="round"/>
<path d="M1092.18 785.12H1104.48M1092.18 790.02H1104.48M1098.33 785.12V790.02" stroke="#59cde2" stroke-width="1.8" fill="none"/>
<path d="M1093.93 787.57L1098.33 783.17L1102.73 787.57L1098.33 791.97Z" fill="none" stroke="#59cde2" stroke-width="2.5" stroke-linejoin="round"/>
<path d="M1105.18 805.94H1117.48M1105.18 810.84H1117.48M1111.33 805.94V810.84" stroke="#59cde2" stroke-width="1.8" fill="none"/>
<path d="M1106.93 808.39L1111.33 803.99L1115.73 808.39L1111.33 812.79Z" fill="none" stroke="#59cde2" stroke-width="2.5" stroke-linejoin="round"/>
<path d="M1117.85 841.69H1130.15M1117.85 846.59H1130.15M1124 841.69V846.59" stroke="#59cde2" stroke-width="1.8" fill="none"/>
<path d="M1119.6 844.14L1124 839.74L1128.4 844.14L1124 848.54Z" fill="none" stroke="#59cde2" stroke-width="2.5" stroke-linejoin="round"/>
<path d="M1131.53 883.32H1143.83M1131.53 888.22H1143.83M1137.68 883.32V888.22" stroke="#59cde2" stroke-width="1.8" fill="none"/>
<path d="M1133.28 885.77L1137.68 881.37L1142.08 885.77L1137.68 890.17Z" fill="none" stroke="#59cde2" stroke-width="2.5" stroke-linejoin="round"/>
<path d="M1154.46 922.69H1166.76M1154.46 927.59H1166.76M1160.61 922.69V927.59" stroke="#59cde2" stroke-width="1.8" fill="none"/>
<path d="M1156.21 925.14L1160.61 920.74L1165.01 925.14L1160.61 929.54Z" fill="none" stroke="#59cde2" stroke-width="2.5" stroke-linejoin="round"/>
<path d="M1167.81 931.74H1180.11M1167.81 936.64H1180.11M1173.96 931.74V936.64" stroke="#59cde2" stroke-width="1.8" fill="none"/>
<path d="M1169.56 934.19L1173.96 929.79L1178.36 934.19L1173.96 938.59Z" fill="none" stroke="#59cde2" stroke-width="2.5" stroke-linejoin="round"/>
<path d="M1191.42 912.96H1203.72M1191.42 917.86H1203.72M1197.57 912.96V917.86" stroke="#59cde2" stroke-width="1.8" fill="none"/>
<path d="M1193.17 915.41L1197.57 911.01L1201.97 915.41L1197.57 919.81Z" fill="none" stroke="#59cde2" stroke-width="2.5" stroke-linejoin="round"/>
<path d="M1205.11 885.81H1217.41M1205.11 890.71H1217.41M1211.26 885.81V890.71" stroke="#59cde2" stroke-width="1.8" fill="none"/>
<path d="M1206.86 888.26L1211.26 883.86L1215.66 888.26L1211.26 892.66Z" fill="none" stroke="#59cde2" stroke-width="2.5" stroke-linejoin="round"/>
<path d="M1217.43 840.78H1229.73M1217.43 845.68H1229.73M1223.58 840.78V845.68" stroke="#59cde2" stroke-width="1.8" fill="none"/>
<path d="M1219.18 843.23L1223.58 838.83L1227.98 843.23L1223.58 847.63Z" fill="none" stroke="#59cde2" stroke-width="2.5" stroke-linejoin="round"/>
<path d="M1230.09 821.32H1242.39M1230.09 826.22H1242.39M1236.24 821.32V826.22" stroke="#59cde2" stroke-width="1.8" fill="none"/>
<path d="M1231.84 823.77L1236.24 819.37L1240.64 823.77L1236.24 828.17Z" fill="none" stroke="#59cde2" stroke-width="2.5" stroke-linejoin="round"/>
<path d="M1245.83 760.68H1258.13M1245.83 765.58H1258.13M1251.98 760.68V765.58" stroke="#59cde2" stroke-width="1.8" fill="none"/>
<path d="M1247.58 763.13L1251.98 758.73L1256.38 763.13L1251.98 767.53Z" fill="none" stroke="#59cde2" stroke-width="2.5" stroke-linejoin="round"/>
<path d="M1100.74 865.8H1113.04M1100.74 871.8H1113.04M1106.89 865.8V871.8" stroke="#f4726f" stroke-width="1.8" fill="none"/>
<circle cx="1106.89" cy="868.8" r="3.65" fill="none" stroke="#f4726f" stroke-width="2.6"/>
<path d="M1116.48 905.4H1128.78M1116.48 911.4H1128.78M1122.63 905.4V911.4" stroke="#f4726f" stroke-width="1.8" fill="none"/>
<circle cx="1122.63" cy="908.4" r="3.65" fill="none" stroke="#f4726f" stroke-width="2.6"/>
<path d="M1128.45 926.67H1140.75M1128.45 932.67H1140.75M1134.6 926.67V932.67" stroke="#f4726f" stroke-width="1.8" fill="none"/>
<circle cx="1134.6" cy="929.67" r="3.65" fill="none" stroke="#f4726f" stroke-width="2.6"/>
<path d="M1141.46 932.55H1153.76M1141.46 938.55H1153.76M1147.61 932.55V938.55" stroke="#f4726f" stroke-width="1.8" fill="none"/>
<circle cx="1147.61" cy="935.55" r="3.65" fill="none" stroke="#f4726f" stroke-width="2.6"/>
<path d="M1155.14 909.7H1167.45M1155.14 915.7H1167.45M1161.3 909.7V915.7" stroke="#f4726f" stroke-width="1.8" fill="none"/>
<circle cx="1161.3" cy="912.7" r="3.65" fill="none" stroke="#f4726f" stroke-width="2.6"/>
<path d="M1178.76 873.72H1191.06M1178.76 879.72H1191.06M1184.91 873.72V879.72" stroke="#f4726f" stroke-width="1.8" fill="none"/>
<circle cx="1184.91" cy="876.72" r="3.65" fill="none" stroke="#f4726f" stroke-width="2.6"/>
<path d="M1191.76 851.55H1204.06M1191.76 857.55H1204.06M1197.91 851.55V857.55" stroke="#f4726f" stroke-width="1.8" fill="none"/>
<circle cx="1197.91" cy="854.55" r="3.65" fill="none" stroke="#f4726f" stroke-width="2.6"/>
<path d="M1215.37 801.31H1227.67M1215.37 807.31H1227.67M1221.52 801.31V807.31" stroke="#f4726f" stroke-width="1.8" fill="none"/>
<circle cx="1221.52" cy="804.31" r="3.65" fill="none" stroke="#f4726f" stroke-width="2.6"/>
<path d="M1229.4 764.21H1241.7M1229.4 770.21H1241.7M1235.55 764.21V770.21" stroke="#f4726f" stroke-width="1.8" fill="none"/>
<circle cx="1235.55" cy="767.21" r="3.65" fill="none" stroke="#f4726f" stroke-width="2.6"/>
<path d="M1241.72 733.43H1254.02M1241.72 739.43H1254.02M1247.87 733.43V739.43" stroke="#f4726f" stroke-width="1.8" fill="none"/>
<circle cx="1247.87" cy="736.43" r="3.65" fill="none" stroke="#f4726f" stroke-width="2.6"/>
<path d="M1254.73 732.3H1267.03M1254.73 738.3H1267.03M1260.88 732.3V738.3" stroke="#f4726f" stroke-width="1.8" fill="none"/>
<circle cx="1260.88" cy="735.3" r="3.65" fill="none" stroke="#f4726f" stroke-width="2.6"/>
<path d="M1270.12 752.89H1282.42M1270.12 758.89H1282.42M1276.27 752.89V758.89" stroke="#f4726f" stroke-width="1.8" fill="none"/>
<circle cx="1276.27" cy="755.89" r="3.65" fill="none" stroke="#f4726f" stroke-width="2.6"/>
<ellipse cx="1261.8" cy="695.2" rx="9.9" ry="23.5" fill="none" stroke="#a8a8a8" stroke-width="2.3" stroke-dasharray="5.5 2.4"/>
<path d="M1257.8 701.7C1263.8 710.2 1275.8 714.9 1301 714.4" fill="none" stroke="#a8a8a8" stroke-width="2.3" stroke-dasharray="5.5 2.4"/>
<path d="M1307 714.4L1294.39 708.74L1298.57 714.69L1294.82 720.93Z" fill="#a8a8a8" stroke="none"/>
<ellipse cx="1118" cy="869.9" rx="23.2" ry="10.1" fill="none" stroke="#a8a8a8" stroke-width="2.3" stroke-dasharray="5.5 2.4"/>
<path d="M1115.5 873.4C1112 880.9 1098 886 1084 886.5" fill="none" stroke="#a8a8a8" stroke-width="2.3" stroke-dasharray="5.5 2.4"/>
<path d="M1078 886.5L1089.97 889.97L1087.1 885.86L1089.37 881.39Z" fill="#a8a8a8" stroke="none"/>
<rect x="1049.8" y="605.2" width="273.8" height="339.4" fill="none" stroke="#000" stroke-width="2.2"/>
<text x="1036" y="951.7" font-size="20.8" text-anchor="end">0</text>
<text x="1036" y="861.19" font-size="20.8" text-anchor="end">2</text>
<text x="1036" y="770.69" font-size="20.8" text-anchor="end">4</text>
<text x="1036" y="680.18" font-size="20.8" text-anchor="end">6</text>
<text x="1335.5" y="951.2" font-size="20.8">0</text>
<text x="1335.5" y="883.32" font-size="20.8">15</text>
<text x="1335.5" y="815.44" font-size="20.8">30</text>
<text x="1335.5" y="747.56" font-size="20.8">45</text>
<text x="1335.5" y="679.68" font-size="20.8">60</text>
<text x="1335.5" y="611.8" font-size="20.8">75</text>
<text x="1084.3" y="975.5" font-size="20.8" text-anchor="middle">0</text>
<text x="1152.74" y="975.5" font-size="20.8" text-anchor="middle">2</text>
<text x="1221.18" y="975.5" font-size="20.8" text-anchor="middle">4</text>
<text x="1289.62" y="975.5" font-size="20.8" text-anchor="middle">6</text>
<text x="1192" y="1011" font-size="20.8" text-anchor="middle">Phase [rad.]</text>
<text transform="translate(998.5 775) rotate(-90)" font-size="20.8" text-anchor="middle">Coincidence counts (15 s)</text>
<text transform="translate(1382.5 775) rotate(90)" font-size="20.8" text-anchor="middle">Single side count rates (kHz)</text>
<text x="1048" y="589" font-size="20.8">×10<tspan font-size="12.5" dy="-13">3</tspan></text>
<path d="M1068.8 620.2L1073.2 615.8L1077.6 620.2L1073.2 624.6Z" fill="none" stroke="#59cde2" stroke-width="2.6" stroke-linejoin="round"/>
<circle cx="1073.2" cy="644.2" r="3.65" fill="none" stroke="#f4726f" stroke-width="2.7"/>
<text x="1081.5" y="625" font-size="18.3" letter-spacing="0.45"><tspan font-family='"Liberation Serif", serif' font-style="italic" font-size="23.5">β</tspan>=<tspan font-family='"Liberation Serif", serif' font-style="italic" font-size="23.5">π</tspan>/4</text>
<text x="1081.5" y="649.6" font-size="18.3" letter-spacing="0.45"><tspan font-family='"Liberation Serif", serif' font-style="italic" font-size="23.5">β</tspan>=<tspan font-family='"Liberation Serif", serif' font-style="italic" font-size="23.5">π</tspan>/2</text>
</g>
<g id="panel-g">
<text x="1441.5" y="578" font-size="41" font-weight="bold">g</text>
<rect x="1659.96" y="602.6" width="22.01" height="20.08" fill="#a6dcef"/>
<rect x="1681.97" y="622.68" width="22.01" height="20.08" fill="#95d6ee"/>
<rect x="1703.98" y="642.76" width="22.01" height="20.08" fill="#9ed9ef"/>
<rect x="1593.93" y="662.84" width="22.01" height="20.08" fill="#0ca3de"/>
<rect x="1725.99" y="662.84" width="22.01" height="20.08" fill="#a0daef"/>
<rect x="1615.94" y="682.92" width="22.01" height="20.08" fill="#55bde6"/>
<rect x="1748" y="682.92" width="22.01" height="20.08" fill="#a8ddf0"/>
<rect x="1527.9" y="723.58" width="22.01" height="20.08" fill="#a6dcef"/>
<rect x="1659.96" y="723.58" width="22.01" height="20.08" fill="#0ca3de"/>
<rect x="1792.02" y="723.58" width="22.01" height="20.08" fill="#abdff1"/>
<rect x="1549.91" y="743.66" width="22.01" height="20.08" fill="#99d7ee"/>
<rect x="1681.97" y="743.66" width="22.01" height="20.08" fill="#39b3e3"/>
<rect x="1571.92" y="763.74" width="22.01" height="20.08" fill="#a6dcef"/>
<rect x="1703.98" y="763.74" width="22.01" height="20.08" fill="#5bc0e7"/>
<rect x="1593.93" y="783.82" width="22.01" height="20.08" fill="#8ed3ed"/>
<rect x="1725.99" y="783.82" width="22.01" height="20.08" fill="#6bc6e9"/>
<rect x="1615.94" y="803.9" width="22.01" height="20.08" fill="#a1daef"/>
<rect x="1748" y="803.9" width="22.01" height="20.08" fill="#8ed3ed"/>
<rect x="1659.96" y="844.06" width="22.01" height="20.08" fill="#a9def0"/>
<rect x="1792.02" y="844.06" width="22.01" height="20.08" fill="#9fd9ef"/>
<rect x="1681.97" y="864.14" width="22.01" height="20.08" fill="#a3dbef"/>
<rect x="1703.98" y="884.22" width="22.01" height="20.08" fill="#abdff1"/>
<rect x="1725.99" y="904.3" width="22.01" height="20.08" fill="#abdff1"/>
<rect x="1748" y="924.38" width="22.01" height="20.08" fill="#abdff1"/>
<path d="M1528 612.64h-7M1528 632.72h-7M1528 652.8h-7M1528 672.88h-7M1528 692.96h-7M1528 713.04h-7M1528 733.12h-7M1528 753.2h-7M1528 773.28h-7M1528 793.36h-7M1528 813.44h-7M1528 833.52h-7M1528 853.6h-7M1528 873.68h-7M1528 893.76h-7M1528 913.84h-7M1528 933.92h-7" fill="none" stroke="#000" stroke-width="1.9"/>
<path d="M1538.91 944.6v7M1560.92 944.6v7M1582.93 944.6v7M1604.94 944.6v7M1626.95 944.6v7M1648.96 944.6v7M1670.97 944.6v7M1692.98 944.6v7M1714.99 944.6v7M1737 944.6v7M1759.01 944.6v7M1781.02 944.6v7M1803.03 944.6v7" fill="none" stroke="#000" stroke-width="1.9"/>
<rect x="1528" y="602.2" width="286.5" height="342.4" fill="none" stroke="#000" stroke-width="2.1"/>
<text x="1514" y="619.44" font-size="19" text-anchor="end">C44</text>
<text x="1514" y="637.32" font-size="19" text-anchor="end">C42</text>
<text x="1514" y="659.6" font-size="19" text-anchor="end">C40</text>
<text x="1514" y="679.68" font-size="19" text-anchor="end">C38</text>
<text x="1514" y="699.76" font-size="19" text-anchor="end">C36</text>
<text x="1514" y="719.84" font-size="19" text-anchor="end">C34</text>
<text x="1514" y="739.92" font-size="19" text-anchor="end">C32</text>
<text x="1514" y="760" font-size="19" text-anchor="end">C30</text>
<text x="1514" y="780.08" font-size="19" text-anchor="end">C28</text>
<text x="1514" y="800.16" font-size="19" text-anchor="end">C26</text>
<text x="1514" y="820.24" font-size="19" text-anchor="end">C24</text>
<text x="1514" y="840.32" font-size="19" text-anchor="end">C22</text>
<text x="1514" y="860.4" font-size="19" text-anchor="end">C20</text>
<text x="1514" y="880.48" font-size="19" text-anchor="end">C18</text>
<text x="1514" y="900.56" font-size="19" text-anchor="end">C16</text>
<text x="1514" y="920.64" font-size="19" text-anchor="end">C14</text>
<text x="1514" y="940.72" font-size="19" text-anchor="end">C12</text>
<text transform="translate(1545.71 963.5) rotate(-90)" font-size="19" text-anchor="end">C36</text>
<text transform="translate(1567.72 963.5) rotate(-90)" font-size="19" text-anchor="end">C38</text>
<text transform="translate(1589.73 963.5) rotate(-90)" font-size="19" text-anchor="end">C40</text>
<text transform="translate(1611.74 963.5) rotate(-90)" font-size="19" text-anchor="end">C42</text>
<text transform="translate(1633.75 963.5) rotate(-90)" font-size="19" text-anchor="end">C44</text>
<text transform="translate(1655.76 963.5) rotate(-90)" font-size="19" text-anchor="end">C46</text>
<text transform="translate(1677.77 963.5) rotate(-90)" font-size="19" text-anchor="end">C48</text>
<text transform="translate(1699.78 963.5) rotate(-90)" font-size="19" text-anchor="end">C50</text>
<text transform="translate(1721.79 963.5) rotate(-90)" font-size="19" text-anchor="end">C52</text>
<text transform="translate(1743.8 963.5) rotate(-90)" font-size="19" text-anchor="end">C54</text>
<text transform="translate(1765.81 963.5) rotate(-90)" font-size="19" text-anchor="end">C56</text>
<text transform="translate(1787.82 963.5) rotate(-90)" font-size="19" text-anchor="end">C58</text>
<text transform="translate(1809.83 963.5) rotate(-90)" font-size="19" text-anchor="end">C60</text>
<text x="1671" y="1026.5" font-size="19" text-anchor="middle">Idler (ITU 200 GHz)</text>
<text transform="translate(1456.5 776) rotate(-90)" font-size="18.7" text-anchor="middle">Signal (ITU 200 GHz)</text>
<linearGradient id="cb" x1="0" y1="0" x2="0" y2="1"><stop offset="0" stop-color="#0ca3de"/><stop offset="1" stop-color="#aee0f1"/></linearGradient>
<rect x="1832.3" y="602.0" width="24.3" height="342.6" fill="url(#cb)" stroke="#000" stroke-width="1"/>
<path d="M1856.6 944.6h7M1856.6 876.08h7M1856.6 807.56h7M1856.6 739.04h7M1856.6 670.52h7M1856.6 602h7" fill="none" stroke="#000" stroke-width="1"/>
<text x="1871" y="950.6" font-size="19">0</text>
<text x="1871" y="882.08" font-size="19">3</text>
<text x="1871" y="813.56" font-size="19">6</text>
<text x="1871" y="745.04" font-size="19">9</text>
<text x="1871" y="676.52" font-size="19">12</text>
<text x="1871" y="608" font-size="19">15</text>
<text x="1869.5" y="559.7" font-size="19" text-anchor="middle">Coin.</text>
<text x="1869.5" y="581.3" font-size="19" text-anchor="middle">(kHz)</text>
<text transform="translate(1665.5 650) rotate(44.5)" font-size="14.5">2<tspan font-family='"Liberation Serif", serif' font-style="italic" font-size="16">ω</tspan><tspan font-style="italic" font-size="8.5" dy="4"> p2</tspan><tspan dy="-4" font-size="4"> </tspan> = <tspan font-family='"Liberation Serif", serif' font-style="italic" font-size="16">ω</tspan><tspan font-style="italic" font-size="8.5" dy="4"> s2</tspan><tspan dy="-4" font-size="4"> </tspan> + <tspan font-family='"Liberation Serif", serif' font-style="italic" font-size="16">ω</tspan><tspan font-style="italic" font-size="8.5" dy="4"> i2</tspan><tspan dy="-4" font-size="4"> </tspan></text>
<text transform="translate(1627.5 727.5) rotate(47.4)" font-size="14.5"><tspan font-family='"Liberation Serif", serif' font-style="italic" font-size="16">ω</tspan><tspan font-style="italic" font-size="8.5" dy="4"> p1</tspan><tspan dy="-4" font-size="4"> </tspan> + <tspan font-family='"Liberation Serif", serif' font-style="italic" font-size="16">ω</tspan><tspan font-style="italic" font-size="8.5" dy="4"> p2</tspan><tspan dy="-4" font-size="4"> </tspan> = <tspan font-family='"Liberation Serif", serif' font-style="italic" font-size="16">ω</tspan><tspan font-style="italic" font-size="8.5" dy="4"> s3</tspan><tspan dy="-4" font-size="4"> </tspan> + <tspan font-family='"Liberation Serif", serif' font-style="italic" font-size="16">ω</tspan><tspan font-style="italic" font-size="8.5" dy="4"> i3</tspan><tspan dy="-4" font-size="4"> </tspan></text>
<text transform="translate(1593.5 826) rotate(47.2)" font-size="14.5">2<tspan font-family='"Liberation Serif", serif' font-style="italic" font-size="16">ω</tspan><tspan font-style="italic" font-size="8.5" dy="4"> p1</tspan><tspan dy="-4" font-size="4"> </tspan> = <tspan font-family='"Liberation Serif", serif' font-style="italic" font-size="16">ω</tspan><tspan font-style="italic" font-size="8.5" dy="4"> s1</tspan><tspan dy="-4" font-size="4"> </tspan> + <tspan font-family='"Liberation Serif", serif' font-style="italic" font-size="16">ω</tspan><tspan font-style="italic" font-size="8.5" dy="4"> i1</tspan><tspan dy="-4" font-size="4"> </tspan></text>
</g>
</svg>
</body>
</html>
